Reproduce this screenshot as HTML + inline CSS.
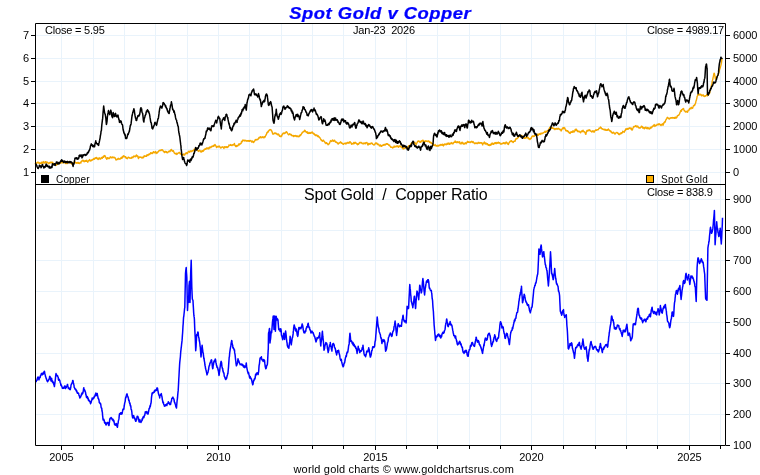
<!DOCTYPE html>
<html><head><meta charset="utf-8"><title>Spot Gold v Copper</title>
<style>html,body{margin:0;padding:0;background:#fff;width:760px;height:475px;overflow:hidden;font-family:"Liberation Sans",sans-serif}</style>
</head><body>
<svg width="760" height="475" viewBox="0 0 760 475" style="display:block;will-change:transform">
<rect width="760" height="475" fill="#fff"/>
<path d="M61.5 24V445 M93.5 24V445 M124.5 24V445 M155.5 24V445 M187.5 24V445 M218.5 24V445 M249.5 24V445 M281.5 24V445 M312.5 24V445 M343.5 24V445 M375.5 24V445 M406.5 24V445 M437.5 24V445 M469.5 24V445 M500.5 24V445 M531.5 24V445 M563.5 24V445 M595.5 24V445 M626.5 24V445 M657.5 24V445 M689.5 24V445 M720.5 24V445 M36 35.5H725 M36 58.5H725 M36 81.5H725 M36 103.5H725 M36 126.5H725 M36 149.5H725 M36 172.5H725 M36 414.5H725 M36 383.5H725 M36 353.5H725 M36 322.5H725 M36 291.5H725 M36 260.5H725 M36 230.5H725 M36 199.5H725" stroke="#e9f3fb" stroke-width="1" fill="none"/>
<polyline points="35.00,164.3 35.20,163.9 35.39,164.0 35.59,164.0 35.78,164.3 35.98,163.7 36.17,163.5 36.37,163.3 36.57,162.9 36.76,162.7 36.96,162.7 37.15,162.8 37.35,162.6 37.55,162.9 37.74,162.9 37.94,161.9 38.13,162.6 38.33,162.7 38.53,162.6 38.72,162.9 38.92,163.2 39.11,163.3 39.31,163.1 39.50,163.3 39.70,162.9 39.90,163.6 40.10,163.2 40.30,163.2 40.50,163.3 40.70,163.4 40.90,163.4 41.10,163.6 41.30,162.3 41.50,162.5 41.70,162.5 41.90,162.5 42.10,163.2 42.30,162.9 42.50,162.9 42.70,162.2 42.90,162.5 43.10,162.0 43.30,161.6 43.50,162.7 43.70,163.1 43.90,163.1 44.10,163.2 44.30,162.6 44.50,162.3 44.70,162.6 44.89,161.9 45.09,162.2 45.28,161.7 45.48,162.0 45.67,161.7 45.87,162.6 46.07,163.1 46.26,162.9 46.46,162.2 46.65,162.1 46.85,162.2 47.05,162.0 47.24,162.2 47.44,162.7 47.63,162.8 47.83,162.7 48.03,163.0 48.22,162.9 48.42,163.3 48.61,163.1 48.81,163.7 49.00,163.5 49.20,163.0 49.40,163.1 49.60,162.8 49.80,162.5 50.00,162.5 50.20,162.9 50.40,162.1 50.60,162.2 50.80,162.2 51.00,162.3 51.20,162.7 51.40,162.2 51.60,162.6 51.80,162.5 52.00,162.6 52.20,162.6 52.40,162.5 52.60,162.3 52.80,162.6 53.00,163.4 53.20,163.7 53.40,163.9 53.60,163.9 53.80,163.6 54.00,163.7 54.20,164.3 54.39,163.6 54.59,163.8 54.78,164.0 54.98,163.9 55.17,164.0 55.37,164.3 55.57,164.9 55.76,165.1 55.96,165.3 56.15,165.0 56.35,165.0 56.55,164.7 56.74,164.5 56.94,164.0 57.13,164.1 57.33,164.4 57.53,164.0 57.72,163.9 57.92,163.9 58.11,163.7 58.31,163.9 58.50,163.8 58.70,163.2 58.90,162.7 59.11,162.9 59.31,163.1 59.52,163.5 59.72,163.4 59.93,163.4 60.13,162.7 60.33,163.2 60.54,162.7 60.74,163.1 60.95,162.6 61.15,162.4 61.36,162.5 61.56,162.3 61.77,162.1 61.97,162.5 62.17,162.8 62.38,162.9 62.58,162.7 62.79,162.4 62.99,162.3 63.20,162.1 63.40,162.2 63.60,162.5 63.80,162.5 64.00,162.2 64.20,162.0 64.40,162.6 64.60,162.7 64.80,162.7 65.00,162.8 65.20,163.0 65.40,163.0 65.60,163.4 65.80,163.6 66.00,162.4 66.20,162.3 66.40,163.5 66.60,162.9 66.80,162.9 67.00,163.2 67.20,163.1 67.40,163.5 67.60,162.9 67.80,162.4 68.00,162.4 68.20,162.1 68.40,161.8 68.59,162.2 68.79,162.3 68.98,162.4 69.18,162.3 69.38,162.5 69.57,162.5 69.77,162.2 69.96,162.5 70.16,162.7 70.35,162.7 70.55,163.0 70.75,162.6 70.94,162.6 71.14,162.4 71.33,163.0 71.53,163.1 71.73,163.9 71.92,164.3 72.12,164.0 72.31,163.4 72.51,163.5 72.70,163.3 72.90,163.2 73.10,162.8 73.30,163.0 73.50,163.0 73.70,163.1 73.90,163.1 74.10,162.7 74.30,161.9 74.50,161.9 74.70,161.7 74.90,161.7 75.10,162.1 75.30,162.2 75.50,162.8 75.70,162.8 75.90,163.0 76.10,163.1 76.30,163.2 76.50,162.6 76.70,163.0 76.90,162.9 77.10,162.5 77.30,162.6 77.50,162.7 77.70,163.1 77.90,163.2 78.09,163.2 78.29,162.4 78.48,163.0 78.68,163.4 78.88,163.4 79.07,163.4 79.27,163.6 79.46,163.0 79.66,163.1 79.85,162.9 80.05,162.4 80.25,162.4 80.44,162.5 80.64,163.0 80.83,163.1 81.03,162.3 81.23,161.5 81.42,161.5 81.62,161.4 81.81,161.1 82.01,160.6 82.20,160.7 82.40,160.3 82.60,160.3 82.81,160.7 83.01,160.9 83.22,160.7 83.42,160.4 83.63,160.5 83.83,161.2 84.03,161.0 84.24,161.7 84.44,161.3 84.65,161.2 84.85,161.5 85.06,161.1 85.26,161.1 85.47,160.6 85.67,160.9 85.87,161.4 86.08,161.1 86.28,161.1 86.49,160.9 86.69,160.1 86.90,161.3 87.10,161.4 87.30,161.6 87.50,161.6 87.70,161.5 87.90,162.2 88.10,161.3 88.30,161.1 88.50,160.8 88.70,160.6 88.90,160.8 89.10,160.5 89.30,159.9 89.50,159.6 89.70,159.8 89.90,160.2 90.10,160.5 90.30,161.0 90.50,160.6 90.70,160.9 90.90,160.9 91.10,160.7 91.30,160.3 91.50,160.5 91.70,160.1 91.90,159.9 92.10,159.5 92.31,160.1 92.51,160.0 92.72,159.8 92.92,159.6 93.13,159.5 93.33,159.5 93.53,158.9 93.74,158.5 93.94,158.8 94.15,159.3 94.35,158.9 94.56,159.0 94.76,158.8 94.97,158.0 95.17,158.0 95.37,157.8 95.58,158.3 95.78,158.3 95.99,158.4 96.19,157.9 96.40,158.1 96.60,157.5 96.80,157.8 97.00,158.5 97.20,158.1 97.40,158.6 97.60,159.1 97.80,159.0 98.00,159.5 98.20,159.4 98.40,159.2 98.60,158.4 98.80,158.1 99.00,157.7 99.20,158.8 99.40,158.9 99.60,158.8 99.80,158.4 100.01,158.9 100.22,158.4 100.43,158.8 100.64,159.0 100.85,158.8 101.05,158.3 101.26,158.2 101.47,157.5 101.68,157.6 101.89,158.1 102.10,158.2 102.29,158.3 102.48,157.7 102.67,157.6 102.86,157.0 103.05,156.6 103.24,156.7 103.43,157.4 103.62,157.1 103.81,156.8 104.00,155.8 104.21,156.1 104.42,156.0 104.63,155.8 104.84,155.6 105.05,156.1 105.26,156.3 105.47,156.9 105.68,157.2 105.89,157.5 106.10,158.3 106.30,158.6 106.50,158.8 106.70,159.3 106.90,159.2 107.10,158.7 107.30,158.3 107.50,157.7 107.70,157.9 107.90,157.8 108.10,158.1 108.30,158.4 108.50,158.1 108.71,158.1 108.92,158.5 109.13,158.4 109.34,158.6 109.55,158.3 109.75,157.8 109.96,157.7 110.17,156.9 110.38,157.2 110.59,157.0 110.80,157.5 111.00,157.1 111.20,157.3 111.40,157.6 111.60,157.6 111.80,157.9 112.00,157.7 112.20,157.5 112.40,157.1 112.60,157.2 112.80,157.1 113.00,157.5 113.20,157.6 113.40,157.6 113.60,157.6 113.80,157.2 114.00,157.4 114.21,157.8 114.41,157.5 114.62,157.6 114.83,158.1 115.03,158.0 115.24,158.2 115.45,158.1 115.65,159.2 115.86,159.7 116.07,160.0 116.27,159.6 116.48,159.8 116.69,159.6 116.89,159.6 117.10,159.3 117.30,159.3 117.50,158.9 117.70,159.0 117.90,159.5 118.10,158.9 118.30,158.3 118.50,158.5 118.70,158.8 118.90,158.6 119.10,158.7 119.30,158.8 119.50,158.9 119.70,159.3 119.90,158.9 120.10,159.0 120.30,158.9 120.50,158.5 120.70,158.6 120.90,158.0 121.10,157.4 121.30,157.8 121.50,157.4 121.70,158.0 121.90,158.3 122.10,158.0 122.30,157.6 122.50,156.7 122.70,156.8 122.90,156.2 123.10,157.0 123.30,156.4 123.50,156.5 123.71,155.7 123.91,155.8 124.12,156.6 124.33,156.6 124.53,156.5 124.74,156.5 124.95,156.8 125.15,157.3 125.36,157.3 125.57,156.6 125.77,156.9 125.98,157.5 126.19,158.4 126.39,158.4 126.60,158.4 126.80,158.1 127.00,158.3 127.20,158.9 127.40,158.3 127.60,158.2 127.80,157.7 128.00,157.5 128.20,157.4 128.40,157.6 128.60,157.2 128.80,157.2 129.00,157.7 129.20,157.8 129.40,158.0 129.60,158.1 129.80,157.9 130.00,157.9 130.20,158.0 130.39,157.9 130.59,158.2 130.79,158.0 130.98,158.2 131.18,158.1 131.38,158.2 131.57,157.8 131.77,157.4 131.97,156.9 132.17,157.4 132.36,157.5 132.56,157.5 132.76,157.7 132.95,157.2 133.15,157.2 133.35,157.0 133.54,156.2 133.74,156.2 133.94,156.0 134.13,156.6 134.33,156.3 134.53,156.2 134.73,156.6 134.92,156.6 135.12,156.1 135.32,156.3 135.51,156.0 135.71,156.7 135.91,156.3 136.10,156.0 136.30,155.1 136.50,155.0 136.71,156.0 136.91,156.0 137.11,155.7 137.32,156.0 137.52,156.0 137.72,156.0 137.93,157.1 138.13,157.8 138.33,158.2 138.54,158.6 138.74,157.9 138.94,157.0 139.15,157.2 139.35,157.3 139.55,157.2 139.75,157.0 139.96,157.2 140.16,157.4 140.36,157.3 140.57,157.4 140.77,157.2 140.97,157.0 141.18,157.4 141.38,157.2 141.58,157.9 141.79,157.9 141.99,157.8 142.19,158.0 142.40,157.6 142.60,157.4 142.80,157.1 143.00,156.9 143.20,157.0 143.40,157.7 143.60,157.6 143.80,156.9 144.00,156.4 144.20,155.6 144.40,155.9 144.60,156.2 144.80,156.2 145.00,156.2 145.20,156.3 145.40,156.3 145.60,156.4 145.80,156.3 146.00,155.7 146.20,156.0 146.40,156.3 146.60,155.5 146.80,155.3 147.00,154.8 147.20,155.0 147.40,154.8 147.60,155.3 147.81,155.6 148.01,155.3 148.22,154.9 148.42,154.6 148.63,154.8 148.83,154.3 149.03,154.5 149.24,153.9 149.44,154.3 149.65,154.4 149.85,153.9 150.06,153.6 150.26,153.6 150.47,153.7 150.67,152.6 150.87,152.9 151.08,153.5 151.28,153.3 151.49,152.8 151.69,153.3 151.90,153.4 152.10,153.4 152.30,153.6 152.50,153.1 152.70,152.8 152.90,152.4 153.10,152.0 153.30,152.0 153.50,151.7 153.70,152.4 153.90,152.6 154.10,152.9 154.30,152.2 154.50,152.1 154.70,152.1 154.90,152.2 155.10,152.3 155.30,152.0 155.50,151.6 155.70,152.0 155.90,152.9 156.10,153.5 156.30,153.1 156.50,152.6 156.70,152.5 156.90,152.5 157.10,153.0 157.31,152.7 157.51,152.2 157.72,152.4 157.92,152.0 158.13,151.5 158.33,151.6 158.53,151.5 158.74,151.0 158.94,150.9 159.15,150.7 159.35,150.6 159.56,150.3 159.76,150.6 159.97,150.4 160.17,150.2 160.37,150.6 160.58,150.2 160.78,150.5 160.99,150.6 161.19,150.4 161.40,150.4 161.60,149.8 161.80,150.1 162.00,149.8 162.20,149.7 162.40,150.0 162.60,150.0 162.80,150.2 163.00,150.6 163.20,151.1 163.40,151.4 163.60,151.8 163.80,151.6 164.00,151.5 164.20,151.8 164.40,152.4 164.60,152.5 164.80,152.3 165.01,151.8 165.21,151.5 165.42,152.0 165.63,151.6 165.83,151.5 166.04,151.8 166.25,152.0 166.45,151.7 166.66,152.5 166.87,152.5 167.07,152.5 167.28,152.7 167.49,152.5 167.69,152.6 167.90,152.5 168.10,152.0 168.30,151.5 168.50,151.6 168.70,151.6 168.90,151.5 169.10,151.3 169.30,151.1 169.50,151.4 169.70,151.7 169.90,151.5 170.10,151.5 170.30,150.7 170.50,150.3 170.70,150.0 170.90,149.8 171.10,150.1 171.30,149.4 171.50,149.7 171.70,150.0 171.90,150.9 172.10,150.6 172.30,150.7 172.50,151.1 172.70,151.3 172.89,151.0 173.09,151.0 173.28,150.7 173.47,151.0 173.67,151.4 173.86,152.1 174.06,152.4 174.25,152.9 174.44,153.3 174.64,153.0 174.83,153.4 175.03,153.8 175.22,153.8 175.41,153.5 175.61,153.7 175.80,153.9 176.00,154.1 176.20,153.3 176.40,153.2 176.60,154.0 176.80,154.4 177.00,154.2 177.20,154.0 177.40,153.8 177.60,153.4 177.80,153.3 178.00,153.3 178.20,152.9 178.40,152.9 178.60,153.1 178.80,152.7 179.00,152.7 179.21,152.3 179.41,152.6 179.62,153.0 179.83,153.0 180.03,153.3 180.24,153.7 180.45,154.1 180.65,153.7 180.86,153.8 181.07,153.4 181.27,153.0 181.48,153.7 181.69,154.2 181.89,154.9 182.10,155.3 182.30,155.0 182.50,155.0 182.70,154.7 182.90,155.2 183.10,154.1 183.30,154.3 183.50,154.1 183.70,154.3 183.90,154.7 184.10,154.4 184.30,154.8 184.50,155.1 184.70,154.2 184.90,154.8 185.10,154.1 185.30,153.4 185.50,153.7 185.70,153.3 185.90,153.3 186.10,153.1 186.30,152.6 186.50,153.2 186.70,153.6 186.90,153.4 187.11,153.7 187.31,153.5 187.52,153.3 187.73,152.9 187.93,152.2 188.14,152.0 188.35,151.5 188.55,151.7 188.76,151.6 188.97,151.3 189.17,151.7 189.38,151.7 189.59,152.3 189.79,151.9 190.00,151.5 190.20,151.1 190.40,151.2 190.60,151.0 190.80,151.0 191.00,151.6 191.20,151.7 191.40,151.3 191.60,151.3 191.80,151.1 192.00,150.8 192.20,150.7 192.40,150.6 192.60,150.8 192.80,151.1 193.00,150.9 193.20,150.5 193.40,150.4 193.60,150.3 193.80,150.1 194.00,149.6 194.20,149.6 194.40,148.9 194.60,149.5 194.80,149.8 195.00,150.0 195.20,149.6 195.40,149.7 195.60,150.1 195.80,149.9 196.00,149.4 196.20,149.4 196.40,148.5 196.60,149.1 196.81,149.4 197.01,148.9 197.22,149.4 197.42,149.9 197.63,150.2 197.83,150.4 198.03,151.0 198.24,151.0 198.44,151.4 198.65,151.2 198.85,150.8 199.06,150.7 199.26,150.3 199.47,150.5 199.67,150.3 199.87,150.5 200.08,150.6 200.28,151.3 200.49,151.9 200.69,151.6 200.90,151.4 201.10,151.3 201.29,151.0 201.49,151.6 201.68,152.0 201.87,151.7 202.07,151.1 202.26,150.8 202.45,150.8 202.65,151.4 202.84,150.8 203.03,151.4 203.23,150.7 203.42,150.9 203.61,150.4 203.81,150.3 204.00,149.5 204.21,149.9 204.42,149.9 204.62,149.6 204.83,148.9 205.04,149.1 205.25,149.2 205.46,148.8 205.67,149.1 205.88,149.2 206.08,148.8 206.29,148.7 206.50,147.9 206.71,148.4 206.92,148.9 207.12,148.9 207.33,148.5 207.54,148.1 207.75,148.2 207.96,147.9 208.17,148.2 208.38,147.9 208.58,148.4 208.79,148.9 209.00,148.6 209.21,148.2 209.42,147.1 209.62,147.3 209.83,147.5 210.04,147.3 210.25,147.7 210.46,147.5 210.67,147.1 210.88,147.4 211.08,147.6 211.29,146.8 211.50,146.6 211.70,146.2 211.90,146.2 212.10,146.3 212.30,146.2 212.50,146.3 212.70,146.6 212.90,146.4 213.10,145.9 213.30,145.5 213.50,145.8 213.69,146.3 213.88,146.0 214.06,145.9 214.25,145.4 214.44,144.9 214.62,145.1 214.81,144.7 215.00,144.5 215.19,144.8 215.38,145.5 215.56,145.7 215.75,145.9 215.94,145.9 216.12,146.0 216.31,146.6 216.50,147.5 216.70,146.9 216.90,147.2 217.10,146.8 217.30,146.6 217.50,146.6 217.70,146.5 217.90,146.4 218.10,146.3 218.30,147.1 218.50,146.6 218.71,146.4 218.92,146.2 219.12,146.4 219.33,146.1 219.54,146.2 219.75,146.4 219.96,147.2 220.17,147.5 220.38,147.4 220.58,147.4 220.79,148.1 221.00,147.9 221.21,147.6 221.42,147.3 221.62,147.2 221.83,147.5 222.04,147.2 222.25,147.0 222.46,147.1 222.67,146.8 222.88,147.1 223.08,147.1 223.29,147.3 223.50,147.5 223.71,148.0 223.92,148.5 224.12,147.9 224.33,147.3 224.54,146.7 224.75,146.9 224.96,147.0 225.17,146.9 225.38,146.8 225.58,147.3 225.79,147.5 226.00,147.4 226.21,147.4 226.42,146.7 226.62,147.0 226.83,147.6 227.04,147.5 227.25,147.1 227.46,147.4 227.67,147.0 227.88,146.8 228.08,146.9 228.29,146.7 228.50,146.8 228.71,145.9 228.92,144.9 229.12,145.2 229.33,145.4 229.54,145.4 229.75,145.2 229.96,145.2 230.17,145.3 230.38,144.8 230.58,144.9 230.79,144.6 231.00,145.3 231.20,145.3 231.40,145.2 231.60,145.4 231.80,145.5 232.00,145.6 232.20,145.0 232.40,144.9 232.60,145.0 232.80,144.8 233.00,144.6 233.20,144.4 233.40,144.5 233.60,145.1 233.80,144.6 234.00,144.2 234.20,143.9 234.40,143.5 234.60,144.3 234.80,145.2 235.00,145.4 235.20,145.5 235.40,146.1 235.60,146.4 235.80,145.6 236.00,145.6 236.20,146.6 236.40,146.5 236.61,146.0 236.82,145.6 237.03,146.0 237.24,145.7 237.45,145.7 237.66,145.9 237.87,145.7 238.08,145.5 238.29,144.9 238.50,144.3 238.70,144.6 238.90,143.9 239.10,144.2 239.30,144.5 239.50,144.8 239.70,144.4 239.90,143.8 240.10,143.7 240.30,143.9 240.50,143.9 240.71,143.7 240.92,143.3 241.13,143.3 241.34,142.2 241.55,141.5 241.76,141.9 241.97,141.8 242.18,141.8 242.39,140.8 242.60,140.2 242.80,140.1 243.00,140.2 243.20,140.7 243.40,140.4 243.60,140.5 243.80,140.2 244.00,140.2 244.20,140.4 244.40,140.5 244.60,140.9 244.80,140.4 245.00,140.7 245.20,140.8 245.40,140.4 245.60,140.9 245.80,140.6 246.00,140.4 246.20,140.6 246.40,141.0 246.60,140.8 246.80,141.2 247.00,141.2 247.21,140.8 247.42,141.0 247.62,141.0 247.83,140.7 248.04,140.6 248.25,141.1 248.46,141.1 248.67,141.0 248.88,141.2 249.08,140.6 249.29,140.9 249.50,141.3 249.71,140.9 249.92,140.6 250.12,140.5 250.33,140.6 250.54,140.6 250.75,140.8 250.96,140.7 251.17,141.0 251.38,141.5 251.58,141.8 251.79,141.8 252.00,142.2 252.19,141.5 252.38,141.2 252.56,141.1 252.75,141.6 252.94,141.3 253.12,141.4 253.31,141.8 253.50,142.3 253.69,142.5 253.88,141.8 254.06,141.5 254.25,141.4 254.44,141.3 254.62,141.1 254.81,140.7 255.00,140.4 255.21,139.7 255.42,139.8 255.62,139.8 255.83,139.5 256.04,140.1 256.25,139.9 256.46,139.5 256.67,139.6 256.88,139.6 257.08,139.7 257.29,139.5 257.50,139.6 257.69,139.4 257.88,139.6 258.06,139.3 258.25,138.7 258.44,138.1 258.62,138.2 258.81,138.3 259.00,137.5 259.19,137.7 259.38,137.7 259.57,137.8 259.77,137.5 259.96,137.1 260.15,137.0 260.34,136.8 260.53,136.8 260.73,137.0 260.92,137.1 261.11,137.9 261.30,137.6 261.50,137.4 261.70,137.4 261.90,137.6 262.10,137.2 262.30,136.7 262.50,136.9 262.70,137.1 262.90,137.3 263.10,137.5 263.30,136.9 263.50,137.3 263.70,137.2 263.90,137.9 264.10,137.7 264.30,136.8 264.50,136.7 264.70,136.8 264.90,136.9 265.10,137.0 265.30,136.7 265.50,135.8 265.70,135.6 265.90,135.2 266.10,134.7 266.30,134.6 266.50,134.2 266.70,133.3 266.90,132.8 267.10,132.4 267.30,132.2 267.50,132.7 267.70,132.4 267.90,132.4 268.10,131.3 268.30,131.6 268.50,131.2 268.70,131.1 268.90,130.5 269.10,130.2 269.30,130.3 269.50,130.0 269.70,129.8 269.89,129.6 270.08,129.4 270.27,129.7 270.46,129.7 270.65,129.9 270.84,129.8 271.03,129.8 271.22,130.2 271.41,130.8 271.60,130.7 271.80,130.9 272.00,131.5 272.20,132.3 272.40,132.9 272.60,133.7 272.80,134.0 273.00,134.1 273.20,133.9 273.40,134.1 273.60,134.0 273.80,133.6 274.00,133.6 274.20,133.0 274.40,133.2 274.60,133.4 274.80,133.6 275.00,133.1 275.20,133.4 275.40,133.4 275.60,133.6 275.81,132.9 276.02,133.3 276.23,133.8 276.44,133.6 276.65,134.0 276.85,134.0 277.06,134.5 277.27,134.4 277.48,134.4 277.69,134.0 277.90,134.8 278.10,134.5 278.30,134.3 278.50,134.1 278.70,134.4 278.90,134.6 279.10,135.0 279.30,135.8 279.50,136.2 279.70,135.8 279.90,136.0 280.10,136.1 280.30,136.5 280.50,136.3 280.70,136.5 280.90,136.3 281.10,136.7 281.30,135.9 281.50,136.0 281.70,136.0 281.90,135.3 282.10,134.5 282.30,134.1 282.50,134.0 282.70,134.4 282.89,133.7 283.09,133.5 283.28,132.9 283.48,133.2 283.67,133.2 283.86,133.1 284.06,133.3 284.25,133.2 284.44,133.6 284.64,133.3 284.83,132.9 285.02,132.8 285.22,132.6 285.41,133.0 285.61,132.6 285.80,132.3 286.00,132.2 286.20,132.1 286.40,131.6 286.60,131.9 286.80,132.4 287.00,132.7 287.20,132.6 287.40,133.2 287.60,133.6 287.80,133.8 288.00,134.2 288.20,134.2 288.40,134.5 288.60,134.8 288.80,134.4 289.00,134.4 289.21,134.2 289.41,134.5 289.62,133.7 289.82,134.0 290.03,134.2 290.23,134.4 290.44,134.7 290.64,134.3 290.85,134.6 291.05,134.5 291.26,134.5 291.46,135.2 291.67,135.2 291.87,135.8 292.08,135.8 292.28,135.8 292.49,135.8 292.69,135.4 292.90,135.4 293.10,135.5 293.30,136.1 293.50,136.3 293.70,136.6 293.90,136.1 294.10,135.8 294.30,135.9 294.50,136.1 294.70,135.6 294.90,136.0 295.10,135.7 295.30,135.8 295.50,135.6 295.70,135.8 295.90,136.1 296.10,136.3 296.30,135.9 296.50,135.8 296.70,136.6 296.90,136.4 297.10,136.4 297.30,136.3 297.50,135.9 297.70,136.4 297.89,136.8 298.09,136.3 298.28,136.2 298.48,136.7 298.67,136.6 298.86,136.3 299.06,136.5 299.25,136.5 299.44,135.8 299.64,135.3 299.83,135.8 300.02,135.4 300.22,135.2 300.41,134.8 300.61,135.5 300.80,134.8 301.00,134.7 301.20,134.4 301.40,134.1 301.60,133.5 301.80,133.1 302.00,133.0 302.20,133.0 302.40,132.3 302.60,132.3 302.80,132.0 303.00,132.0 303.20,131.8 303.40,131.7 303.60,131.6 303.80,131.8 304.00,131.7 304.19,131.2 304.39,130.5 304.58,130.3 304.77,130.8 304.97,130.4 305.16,130.4 305.36,131.4 305.55,131.5 305.74,131.6 305.94,131.9 306.13,132.3 306.33,132.2 306.52,132.4 306.71,131.8 306.91,132.1 307.10,132.5 307.30,131.9 307.50,132.5 307.70,133.3 307.90,132.3 308.10,132.4 308.30,133.1 308.50,133.4 308.70,133.1 308.90,133.0 309.10,132.9 309.30,133.3 309.50,133.0 309.70,132.6 309.90,132.8 310.10,132.6 310.30,133.4 310.50,133.1 310.70,133.3 310.90,133.3 311.10,132.9 311.31,132.8 311.51,132.3 311.72,132.7 311.92,132.6 312.13,132.3 312.33,132.0 312.54,132.9 312.74,133.3 312.95,133.1 313.15,133.2 313.36,133.6 313.56,133.9 313.77,134.0 313.97,133.3 314.18,134.1 314.38,134.1 314.59,134.7 314.79,134.3 315.00,134.6 315.20,135.2 315.40,135.6 315.60,135.1 315.80,135.0 316.00,135.6 316.20,135.3 316.40,135.6 316.60,135.5 316.80,135.0 317.00,135.4 317.20,135.9 317.40,136.1 317.60,136.2 317.80,136.6 318.00,135.8 318.20,135.8 318.40,136.5 318.60,136.7 318.80,137.0 319.00,136.9 319.20,137.2 319.40,137.0 319.60,137.5 319.80,137.8 320.00,138.0 320.20,138.2 320.40,138.6 320.60,138.9 320.80,139.5 321.00,140.1 321.20,139.6 321.40,140.0 321.60,140.5 321.80,140.1 322.00,140.1 322.20,141.1 322.40,140.8 322.60,141.2 322.80,141.3 323.00,140.7 323.20,140.7 323.40,140.1 323.60,140.2 323.80,140.7 324.00,141.1 324.19,141.3 324.38,141.3 324.57,141.6 324.77,142.2 324.96,142.5 325.15,142.9 325.34,143.1 325.53,143.2 325.73,142.9 325.92,143.5 326.11,143.1 326.30,142.8 326.50,142.7 326.70,142.7 326.90,143.4 327.10,143.5 327.30,143.6 327.50,143.7 327.70,143.9 327.90,144.6 328.10,144.8 328.30,144.2 328.50,144.5 328.70,144.2 328.90,143.9 329.10,143.9 329.30,143.5 329.50,143.1 329.69,142.9 329.88,142.3 330.07,141.7 330.27,141.3 330.46,140.9 330.65,140.7 330.84,140.6 331.03,141.1 331.23,141.0 331.42,141.3 331.61,141.4 331.80,140.9 332.00,140.9 332.20,140.5 332.40,140.0 332.60,140.4 332.80,140.6 333.00,140.8 333.20,141.4 333.40,141.0 333.60,141.1 333.80,140.4 334.00,140.3 334.20,140.8 334.40,140.5 334.60,140.3 334.80,140.5 335.00,141.4 335.20,141.8 335.40,141.8 335.60,142.1 335.80,142.2 336.00,142.1 336.20,142.0 336.40,142.3 336.60,142.3 336.80,142.7 337.00,142.5 337.20,142.8 337.40,142.7 337.59,143.2 337.79,143.5 337.98,143.2 338.17,144.0 338.37,144.0 338.56,143.6 338.76,143.1 338.95,143.2 339.14,143.2 339.34,143.0 339.53,142.6 339.73,142.6 339.92,142.3 340.11,142.3 340.31,142.1 340.50,142.5 340.70,141.8 340.90,142.8 341.10,142.8 341.30,143.0 341.50,142.7 341.70,143.3 341.90,143.4 342.10,143.4 342.30,143.2 342.50,143.6 342.70,143.9 342.90,143.7 343.10,144.3 343.30,143.9 343.50,144.3 343.70,144.2 343.90,143.6 344.10,143.5 344.30,143.6 344.50,143.4 344.70,143.4 344.90,143.3 345.10,143.4 345.30,143.1 345.51,143.7 345.71,143.7 345.92,144.0 346.13,143.7 346.33,143.6 346.54,143.0 346.75,142.9 346.95,143.3 347.16,143.2 347.37,142.7 347.57,142.4 347.78,142.5 347.99,142.3 348.19,142.9 348.40,142.7 348.60,142.7 348.80,142.9 349.00,143.4 349.20,142.7 349.40,142.4 349.60,142.2 349.80,141.6 350.00,141.7 350.20,141.8 350.40,142.3 350.60,142.6 350.80,142.9 351.00,143.1 351.20,142.9 351.40,143.9 351.60,144.3 351.80,143.9 352.00,143.4 352.20,143.5 352.40,143.7 352.60,143.7 352.80,143.9 353.00,144.0 353.20,144.0 353.40,143.5 353.60,143.2 353.80,142.4 354.00,142.8 354.19,142.6 354.39,142.8 354.58,143.6 354.77,143.2 354.97,143.2 355.16,142.9 355.36,142.3 355.55,142.8 355.74,142.8 355.94,142.9 356.13,143.3 356.33,143.2 356.52,143.5 356.71,144.0 356.91,143.7 357.10,143.8 357.30,143.7 357.50,144.0 357.70,144.7 357.90,144.0 358.10,144.4 358.30,144.2 358.50,144.2 358.70,144.0 358.90,143.7 359.10,143.1 359.30,143.0 359.50,142.5 359.70,143.0 359.90,143.0 360.10,142.6 360.30,142.4 360.50,142.9 360.70,142.4 360.90,142.6 361.10,142.7 361.30,142.5 361.50,143.0 361.70,142.9 361.90,143.4 362.10,143.5 362.30,143.3 362.50,143.3 362.70,143.8 362.89,143.4 363.09,143.2 363.28,143.2 363.48,143.5 363.67,143.8 363.86,143.5 364.06,143.1 364.25,143.2 364.44,143.3 364.64,143.5 364.83,143.1 365.02,143.1 365.22,142.8 365.41,143.7 365.61,143.0 365.80,142.9 366.00,142.9 366.20,142.6 366.40,142.7 366.60,142.7 366.80,142.4 367.00,142.6 367.20,143.4 367.40,143.7 367.60,144.3 367.80,144.9 368.00,145.0 368.20,144.9 368.40,144.1 368.60,143.5 368.80,143.8 369.00,144.1 369.19,144.2 369.39,144.0 369.58,143.9 369.77,143.6 369.97,144.1 370.16,144.1 370.36,143.4 370.55,143.4 370.74,143.9 370.94,143.6 371.13,143.3 371.33,143.0 371.52,143.0 371.71,143.2 371.91,143.2 372.10,143.4 372.30,143.3 372.50,143.8 372.70,144.4 372.90,144.2 373.10,144.4 373.30,144.6 373.50,144.7 373.70,144.7 373.90,145.0 374.10,144.9 374.30,144.8 374.50,144.6 374.70,144.7 374.90,144.3 375.10,143.5 375.30,143.3 375.50,143.1 375.70,143.3 375.90,143.6 376.10,143.0 376.30,143.3 376.50,143.2 376.70,143.6 376.90,143.1 377.09,143.5 377.28,143.8 377.47,144.5 377.67,144.0 377.86,144.1 378.05,144.3 378.24,144.3 378.43,144.2 378.62,144.3 378.82,144.5 379.01,145.4 379.20,145.5 379.40,145.9 379.60,145.6 379.80,145.6 380.00,145.6 380.20,145.6 380.40,145.0 380.60,145.1 380.80,146.1 381.00,146.0 381.20,145.4 381.40,146.3 381.60,146.3 381.80,146.3 382.00,145.7 382.20,145.6 382.40,145.5 382.60,145.4 382.80,145.0 383.00,145.3 383.20,144.8 383.40,145.3 383.60,145.2 383.80,145.1 384.00,144.5 384.20,144.7 384.40,144.9 384.60,144.4 384.80,145.1 385.00,145.0 385.20,144.4 385.40,144.9 385.60,144.5 385.81,144.3 386.01,144.0 386.22,143.8 386.43,144.0 386.63,143.8 386.84,144.2 387.05,144.0 387.25,144.2 387.46,143.7 387.67,143.8 387.87,144.1 388.08,144.6 388.29,144.6 388.49,144.9 388.70,145.2 388.90,145.0 389.10,145.3 389.30,145.6 389.50,145.5 389.70,145.1 389.90,145.8 390.10,146.2 390.30,146.3 390.50,146.7 390.70,147.2 390.90,147.1 391.10,147.2 391.30,147.3 391.50,147.4 391.70,147.3 391.90,147.0 392.09,147.3 392.28,147.3 392.47,147.9 392.67,148.0 392.86,147.9 393.05,147.4 393.24,147.3 393.43,147.4 393.62,147.4 393.82,147.2 394.01,146.2 394.20,146.1 394.40,146.3 394.60,147.0 394.80,146.5 395.00,146.8 395.20,146.3 395.40,146.7 395.60,146.6 395.80,146.6 396.00,146.7 396.20,146.5 396.40,146.2 396.60,146.6 396.80,146.1 397.00,145.8 397.20,146.1 397.40,146.4 397.60,146.1 397.80,145.9 398.00,146.1 398.20,146.8 398.40,147.3 398.60,147.1 398.80,146.8 399.00,146.7 399.20,146.0 399.40,146.2 399.60,146.1 399.80,146.6 400.00,146.3 400.20,146.4 400.40,146.2 400.60,146.1 400.81,146.8 401.02,146.6 401.23,146.6 401.44,146.8 401.65,147.6 401.85,147.7 402.06,147.5 402.27,147.6 402.48,148.2 402.69,148.3 402.90,148.5 403.10,149.1 403.30,148.5 403.50,148.8 403.70,148.3 403.90,148.6 404.10,148.6 404.30,148.6 404.50,148.5 404.70,148.5 404.90,147.2 405.10,146.8 405.30,147.7 405.50,147.7 405.70,147.6 405.90,147.8 406.10,148.0 406.30,148.0 406.50,148.3 406.70,148.4 406.90,148.0 407.10,148.0 407.30,148.3 407.50,147.8 407.70,147.8 407.90,147.2 408.10,146.9 408.30,146.2 408.50,146.1 408.70,145.7 408.90,146.0 409.10,145.7 409.30,146.3 409.49,146.4 409.68,145.8 409.86,146.3 410.05,146.0 410.24,145.8 410.43,145.0 410.61,144.7 410.80,144.2 411.00,143.6 411.20,143.2 411.40,143.7 411.60,143.4 411.80,143.4 412.00,143.0 412.20,142.8 412.40,142.6 412.60,142.6 412.80,142.6 413.00,142.9 413.20,142.8 413.40,142.8 413.60,142.6 413.80,142.9 414.00,143.2 414.20,143.1 414.40,142.6 414.60,142.7 414.80,142.2 415.00,142.9 415.20,143.1 415.40,143.7 415.60,143.7 415.80,143.9 416.00,144.4 416.20,144.5 416.40,143.9 416.60,143.1 416.80,142.9 417.00,142.9 417.20,142.4 417.40,141.7 417.60,141.5 417.80,141.5 418.00,140.9 418.20,141.0 418.39,141.4 418.59,141.1 418.78,141.3 418.98,141.3 419.17,141.5 419.36,141.6 419.56,141.3 419.75,141.5 419.94,142.3 420.14,142.3 420.33,141.7 420.52,141.5 420.72,142.2 420.91,142.0 421.11,141.9 421.30,141.3 421.50,140.8 421.70,140.8 421.90,141.0 422.10,140.8 422.30,141.0 422.50,140.9 422.70,140.1 422.90,140.2 423.10,140.5 423.30,141.4 423.50,140.8 423.70,141.0 423.90,141.1 424.10,141.2 424.30,141.2 424.50,141.7 424.69,142.1 424.89,141.7 425.08,141.3 425.27,141.3 425.47,140.8 425.66,141.0 425.86,141.3 426.05,141.1 426.24,141.1 426.44,140.9 426.63,141.1 426.83,141.3 427.02,141.0 427.21,141.4 427.41,141.1 427.60,141.2 427.80,141.4 428.00,141.2 428.20,141.2 428.40,140.9 428.60,141.5 428.80,141.5 429.00,141.1 429.20,141.5 429.40,141.5 429.60,142.3 429.80,142.3 430.00,142.5 430.20,142.1 430.40,142.1 430.60,142.1 430.80,142.5 431.00,143.1 431.20,143.2 431.40,143.2 431.60,142.9 431.80,142.8 432.00,142.9 432.20,143.5 432.40,144.2 432.60,144.1 432.80,143.9 433.00,143.7 433.20,144.1 433.39,144.7 433.58,145.0 433.77,145.6 433.97,145.6 434.16,145.4 434.35,145.5 434.54,145.1 434.73,145.1 434.93,145.0 435.12,144.5 435.31,144.8 435.50,145.2 435.70,145.7 435.90,145.7 436.10,146.1 436.30,145.7 436.50,146.1 436.70,145.8 436.90,145.7 437.10,145.2 437.30,145.9 437.50,145.7 437.70,146.1 437.90,146.0 438.10,146.0 438.30,146.1 438.50,145.5 438.70,145.6 438.90,145.4 439.10,144.9 439.30,145.3 439.50,145.2 439.70,145.6 439.90,145.5 440.10,145.2 440.30,144.9 440.51,144.8 440.71,144.5 440.92,144.9 441.13,144.6 441.33,145.1 441.54,144.8 441.75,144.7 441.95,144.4 442.16,145.2 442.37,144.3 442.57,144.5 442.78,144.8 442.99,145.1 443.19,145.6 443.40,145.9 443.60,145.0 443.80,144.9 444.00,144.4 444.20,144.3 444.40,144.1 444.60,144.5 444.80,144.7 445.00,144.6 445.20,144.2 445.40,144.2 445.60,144.2 445.80,144.0 446.00,144.3 446.20,144.7 446.40,144.2 446.60,144.6 446.80,144.1 447.00,143.9 447.20,143.3 447.40,143.5 447.60,144.2 447.80,143.7 448.00,143.4 448.20,143.1 448.40,143.2 448.60,143.7 448.80,143.2 449.00,143.5 449.20,144.3 449.40,144.1 449.60,144.0 449.80,144.2 450.01,143.4 450.21,143.1 450.42,143.3 450.63,143.3 450.83,143.6 451.04,143.2 451.25,143.2 451.45,142.9 451.66,142.5 451.87,142.9 452.07,143.5 452.28,143.1 452.49,143.3 452.69,143.5 452.90,143.9 453.10,143.5 453.30,142.9 453.50,143.0 453.70,142.7 453.90,142.3 454.10,142.2 454.30,142.3 454.50,142.4 454.70,142.3 454.90,141.6 455.10,140.9 455.30,141.3 455.50,142.0 455.70,142.2 455.90,141.8 456.10,142.3 456.31,141.9 456.51,142.5 456.72,142.5 456.93,142.8 457.13,142.4 457.34,142.6 457.55,141.8 457.75,142.3 457.96,141.9 458.17,141.9 458.37,142.3 458.58,142.6 458.79,142.6 458.99,141.9 459.20,142.4 459.40,142.3 459.60,141.8 459.80,142.5 460.00,143.5 460.20,143.2 460.40,143.5 460.60,143.7 460.80,143.7 461.00,143.8 461.20,143.8 461.40,142.9 461.60,142.6 461.80,142.4 462.00,142.2 462.20,142.3 462.40,142.4 462.60,142.7 462.80,143.6 463.00,143.2 463.20,143.5 463.40,144.1 463.60,144.0 463.80,143.3 464.00,143.3 464.20,143.7 464.40,143.9 464.60,143.3 464.80,143.4 465.00,143.4 465.20,143.3 465.40,143.6 465.60,142.7 465.81,143.3 466.01,143.9 466.22,143.7 466.43,143.2 466.63,142.6 466.84,142.8 467.05,142.6 467.25,141.9 467.46,141.3 467.67,141.7 467.87,142.2 468.08,141.7 468.29,142.4 468.49,142.2 468.70,142.3 468.90,141.9 469.10,142.4 469.30,142.3 469.50,142.2 469.70,142.3 469.90,142.0 470.10,142.5 470.30,142.6 470.50,142.2 470.70,141.8 470.90,141.8 471.10,141.9 471.30,141.8 471.50,141.3 471.70,141.9 471.90,141.9 472.09,142.2 472.29,142.4 472.48,142.2 472.67,141.9 472.87,141.4 473.06,141.8 473.26,141.8 473.45,142.3 473.64,142.8 473.84,142.8 474.03,142.7 474.23,143.0 474.42,143.5 474.61,143.2 474.81,143.3 475.00,143.7 475.20,143.1 475.40,143.1 475.60,142.9 475.80,143.0 476.00,143.2 476.20,143.0 476.40,143.0 476.60,143.5 476.80,143.5 477.00,143.5 477.20,143.3 477.40,143.2 477.60,143.4 477.80,143.2 478.00,142.8 478.20,142.5 478.40,142.4 478.60,142.5 478.80,142.5 479.00,142.4 479.20,143.3 479.40,142.8 479.60,142.9 479.80,143.1 480.00,143.1 480.20,143.1 480.40,142.6 480.60,142.7 480.80,143.0 481.00,142.7 481.20,142.9 481.40,143.3 481.59,143.3 481.79,143.3 481.98,142.8 482.17,143.3 482.37,144.1 482.56,144.5 482.76,144.9 482.95,143.7 483.14,143.4 483.34,143.2 483.53,143.3 483.73,143.1 483.92,142.5 484.11,142.5 484.31,142.1 484.50,142.2 484.70,142.7 484.90,143.5 485.10,143.8 485.30,144.1 485.50,143.4 485.70,143.0 485.90,143.4 486.10,143.7 486.30,143.8 486.50,143.6 486.70,143.5 486.90,143.8 487.10,144.5 487.30,144.4 487.50,143.6 487.70,144.5 487.89,144.8 488.09,144.5 488.28,145.1 488.48,145.3 488.67,145.0 488.86,144.8 489.06,145.1 489.25,145.1 489.44,145.5 489.64,145.2 489.83,144.9 490.02,144.5 490.22,144.5 490.41,145.3 490.61,144.5 490.80,144.7 491.00,144.3 491.20,144.0 491.40,144.8 491.60,144.0 491.80,143.9 492.00,143.1 492.20,143.0 492.40,143.4 492.60,143.5 492.80,144.0 493.00,144.2 493.20,144.0 493.40,144.0 493.60,144.2 493.80,144.0 494.00,143.1 494.19,143.1 494.39,143.4 494.58,143.6 494.77,142.9 494.97,142.8 495.16,143.2 495.36,143.0 495.55,143.5 495.74,143.2 495.94,142.6 496.13,142.4 496.33,143.5 496.52,143.3 496.71,143.2 496.91,143.5 497.10,143.3 497.30,142.6 497.50,142.6 497.70,143.1 497.90,142.6 498.10,142.2 498.30,142.3 498.50,142.6 498.70,142.4 498.90,143.2 499.10,143.1 499.30,142.7 499.50,142.8 499.70,142.9 499.90,143.0 500.10,142.9 500.30,143.7 500.50,144.1 500.70,144.1 500.90,143.9 501.10,144.0 501.30,144.1 501.50,144.0 501.70,143.5 501.90,143.8 502.10,143.8 502.30,143.2 502.50,143.4 502.70,143.6 502.90,143.7 503.10,143.4 503.30,143.2 503.50,142.8 503.69,142.7 503.89,143.1 504.08,143.3 504.27,142.8 504.47,143.0 504.66,143.4 504.86,143.8 505.05,143.9 505.24,143.4 505.44,143.2 505.63,142.8 505.83,142.6 506.02,142.1 506.21,142.2 506.41,142.4 506.60,142.2 506.80,143.0 507.00,142.7 507.20,143.0 507.40,143.7 507.60,143.5 507.80,144.1 508.00,144.0 508.20,144.5 508.40,144.5 508.60,143.9 508.80,143.4 509.00,142.8 509.20,142.5 509.40,142.3 509.60,142.4 509.80,141.7 510.00,141.1 510.20,141.1 510.40,140.9 510.60,141.4 510.80,141.3 511.00,141.1 511.20,141.3 511.40,140.7 511.60,140.9 511.80,141.3 512.00,141.7 512.20,141.3 512.40,141.9 512.60,141.9 512.80,142.0 513.00,142.2 513.20,142.5 513.40,141.9 513.60,141.7 513.80,141.4 514.00,141.2 514.20,141.2 514.40,141.2 514.60,140.9 514.80,141.0 515.00,141.3 515.20,141.1 515.40,140.2 515.60,139.2 515.80,139.0 516.00,138.8 516.20,138.7 516.40,138.7 516.60,138.5 516.80,138.9 517.00,138.7 517.20,138.4 517.40,138.1 517.60,138.2 517.80,137.9 518.00,137.7 518.20,137.7 518.40,137.4 518.60,136.8 518.80,136.4 519.00,136.1 519.20,135.9 519.40,135.9 519.60,136.3 519.80,136.2 520.00,135.9 520.20,136.5 520.40,136.5 520.60,135.8 520.80,135.9 521.00,135.5 521.20,135.6 521.40,135.6 521.60,136.0 521.80,135.5 522.00,135.9 522.20,136.5 522.40,136.2 522.60,136.7 522.80,137.0 523.00,137.2 523.20,137.9 523.40,137.6 523.60,137.5 523.80,137.7 524.00,138.0 524.20,138.0 524.40,138.2 524.60,138.1 524.80,138.3 525.00,138.1 525.20,138.3 525.41,138.0 525.61,137.9 525.82,137.3 526.02,137.2 526.23,137.3 526.43,137.2 526.64,137.3 526.84,137.9 527.05,137.8 527.26,137.6 527.46,137.5 527.67,136.9 527.87,137.4 528.08,138.1 528.28,137.6 528.49,138.8 528.69,138.3 528.90,138.6 529.10,138.5 529.30,138.9 529.50,139.1 529.70,139.2 529.90,139.4 530.10,139.1 530.30,139.0 530.50,138.3 530.70,138.8 530.90,138.5 531.10,138.4 531.30,138.2 531.50,137.6 531.70,137.0 531.90,136.7 532.10,136.5 532.30,136.0 532.50,136.0 532.70,136.2 532.90,136.3 533.10,136.0 533.30,136.0 533.50,136.4 533.70,136.6 533.90,136.4 534.10,136.1 534.30,136.3 534.50,135.4 534.70,135.7 534.90,135.2 535.10,135.0 535.30,134.9 535.50,135.3 535.70,134.6 535.90,134.9 536.10,135.5 536.30,135.0 536.50,135.2 536.70,136.0 536.90,135.6 537.10,135.8 537.30,135.4 537.50,135.2 537.70,134.2 537.90,134.1 538.10,134.8 538.30,135.3 538.50,134.8 538.70,134.8 538.90,134.4 539.10,134.2 539.30,133.8 539.50,134.3 539.70,133.9 539.90,134.3 540.10,134.0 540.30,134.4 540.50,134.1 540.70,133.5 540.90,133.2 541.10,133.2 541.30,133.5 541.50,133.7 541.70,133.1 541.90,133.7 542.10,133.6 542.30,133.6 542.50,133.2 542.70,133.5 542.90,133.3 543.10,132.7 543.30,132.6 543.50,132.7 543.70,132.6 543.90,132.4 544.10,132.5 544.30,131.9 544.50,132.2 544.70,131.9 544.90,131.3 545.10,131.5 545.30,132.0 545.50,132.3 545.70,131.7 545.90,131.3 546.10,131.5 546.30,131.5 546.50,131.6 546.70,131.7 546.90,130.9 547.10,131.4 547.30,130.8 547.50,130.8 547.70,130.4 547.90,130.5 548.09,130.7 548.28,130.5 548.48,129.9 548.67,129.6 548.86,129.2 549.05,128.8 549.24,128.8 549.43,128.1 549.62,128.0 549.82,127.3 550.01,127.3 550.20,127.2 550.40,127.4 550.60,127.8 550.80,128.3 551.00,128.3 551.20,128.3 551.40,127.8 551.60,127.5 551.80,128.0 552.00,127.2 552.20,128.0 552.40,128.3 552.60,128.1 552.81,128.2 553.01,128.0 553.22,128.5 553.43,128.3 553.64,128.8 553.84,128.8 554.05,128.4 554.26,128.8 554.46,129.0 554.67,129.2 554.88,129.6 555.09,129.3 555.29,128.7 555.50,128.8 555.70,128.9 555.90,129.0 556.10,128.7 556.30,128.9 556.50,128.4 556.70,128.5 556.90,128.8 557.10,128.9 557.30,129.2 557.50,128.5 557.70,128.5 557.90,128.4 558.10,128.4 558.30,128.3 558.50,128.5 558.70,128.9 558.90,129.3 559.10,129.3 559.30,129.2 559.50,129.4 559.70,128.9 559.90,129.3 560.10,129.2 560.30,129.6 560.50,129.8 560.70,130.0 560.90,130.5 561.10,130.9 561.31,130.8 561.51,130.2 561.72,129.6 561.93,129.2 562.14,129.0 562.34,128.6 562.55,128.2 562.76,128.6 562.96,127.8 563.17,128.8 563.38,128.6 563.59,128.4 563.79,127.4 564.00,127.5 564.20,127.9 564.40,128.5 564.60,127.9 564.80,127.9 565.00,128.8 565.20,129.1 565.40,129.8 565.60,130.2 565.80,130.7 566.00,130.6 566.20,130.9 566.40,131.0 566.60,130.3 566.80,130.7 566.99,130.6 567.19,130.9 567.38,131.1 567.57,130.7 567.77,131.5 567.96,131.6 568.15,131.9 568.35,131.4 568.54,131.7 568.73,132.1 568.93,132.5 569.12,132.3 569.31,133.0 569.51,132.7 569.70,133.2 569.90,133.3 570.10,133.4 570.30,132.9 570.50,132.9 570.70,132.0 570.90,132.3 571.10,132.2 571.30,132.4 571.50,132.4 571.70,131.6 571.90,132.1 572.10,132.0 572.30,132.3 572.50,131.3 572.70,131.6 572.90,131.3 573.10,130.8 573.30,131.0 573.50,131.0 573.70,131.7 573.90,132.2 574.10,131.8 574.30,131.7 574.50,131.5 574.70,131.3 574.90,130.6 575.10,130.1 575.30,129.4 575.49,129.3 575.69,129.7 575.88,130.3 576.07,129.5 576.27,129.2 576.46,129.3 576.65,129.7 576.85,130.1 577.04,130.9 577.23,131.1 577.43,130.9 577.62,131.5 577.81,130.8 578.01,130.9 578.20,131.2 578.40,131.5 578.60,131.4 578.80,131.8 579.00,131.7 579.20,131.3 579.40,131.4 579.60,131.7 579.80,131.8 580.00,132.2 580.20,132.3 580.40,132.6 580.60,132.8 580.80,131.8 581.00,131.6 581.20,131.8 581.40,131.3 581.60,131.4 581.80,131.1 582.00,131.4 582.20,131.0 582.40,131.5 582.60,130.9 582.80,130.7 583.00,130.2 583.20,131.4 583.40,131.6 583.60,131.2 583.80,131.4 584.00,131.6 584.20,132.0 584.40,131.8 584.60,131.8 584.80,132.2 585.00,132.3 585.20,132.9 585.40,133.9 585.60,134.2 585.80,134.3 585.99,134.0 586.19,132.3 586.38,132.2 586.58,131.5 586.77,130.9 586.97,130.4 587.16,130.8 587.36,130.5 587.55,131.0 587.75,130.9 587.94,130.6 588.14,130.8 588.33,130.5 588.53,130.1 588.72,130.0 588.92,130.5 589.11,129.8 589.31,130.2 589.50,130.3 589.70,130.5 589.90,130.1 590.10,130.2 590.30,130.7 590.50,130.9 590.70,131.1 590.90,131.3 591.10,131.3 591.30,131.3 591.50,131.4 591.70,131.8 591.90,132.1 592.10,131.4 592.30,131.0 592.50,131.1 592.70,131.3 592.90,131.0 593.10,131.2 593.30,130.9 593.50,131.5 593.70,132.0 593.90,131.9 594.10,132.2 594.30,131.7 594.50,131.2 594.70,131.0 594.90,130.9 595.10,130.7 595.30,130.6 595.50,130.1 595.70,130.0 595.90,130.3 596.10,130.3 596.30,129.9 596.50,130.0 596.70,130.2 596.90,129.9 597.10,129.9 597.30,129.7 597.50,129.9 597.70,129.8 597.90,129.9 598.10,129.7 598.30,129.7 598.50,129.2 598.70,128.8 598.90,128.1 599.10,128.1 599.30,128.3 599.50,128.4 599.70,128.2 599.90,128.1 600.10,127.9 600.30,127.3 600.50,127.1 600.71,127.3 600.91,127.6 601.12,127.4 601.33,128.4 601.53,128.7 601.74,128.5 601.94,128.9 602.15,128.9 602.36,129.1 602.56,128.8 602.77,129.2 602.97,129.1 603.18,129.1 603.39,129.2 603.59,129.2 603.80,129.6 604.00,129.5 604.20,129.9 604.40,129.8 604.60,129.3 604.80,129.5 605.00,129.7 605.20,129.9 605.40,129.7 605.60,129.4 605.80,129.9 606.00,130.4 606.20,130.4 606.40,130.4 606.60,130.0 606.80,130.1 607.00,129.7 607.20,129.8 607.40,130.3 607.60,130.1 607.80,129.9 608.00,129.5 608.20,129.3 608.40,129.1 608.59,129.6 608.79,129.5 608.98,130.0 609.18,130.4 609.37,130.5 609.56,130.5 609.76,130.6 609.95,130.5 610.15,131.3 610.34,130.8 610.54,130.9 610.73,131.5 610.92,131.2 611.12,132.0 611.31,131.8 611.51,132.0 611.70,132.5 611.90,132.9 612.10,132.9 612.30,133.2 612.50,132.7 612.70,133.0 612.90,132.5 613.10,132.5 613.30,132.2 613.50,132.2 613.70,132.4 613.90,132.8 614.10,133.2 614.30,133.6 614.50,133.8 614.70,133.6 614.90,134.1 615.10,134.0 615.31,133.8 615.52,133.2 615.73,132.9 615.93,132.9 616.14,132.9 616.35,132.4 616.56,132.5 616.77,132.4 616.98,132.5 617.18,132.6 617.39,132.7 617.60,133.0 617.80,133.4 618.00,133.1 618.20,133.2 618.40,133.3 618.60,134.2 618.80,134.4 619.00,134.5 619.20,134.4 619.40,134.1 619.60,134.6 619.80,134.0 620.00,133.5 620.20,133.7 620.40,133.1 620.60,133.4 620.80,133.7 621.00,133.4 621.20,132.6 621.40,133.1 621.60,133.4 621.80,133.1 622.00,133.1 622.20,132.8 622.40,132.4 622.60,132.1 622.80,131.2 623.00,131.7 623.20,131.8 623.40,131.7 623.60,131.7 623.80,131.6 624.00,131.6 624.20,132.3 624.40,131.6 624.61,131.0 624.82,131.0 625.02,130.3 625.23,130.5 625.44,130.2 625.65,129.3 625.86,129.0 626.07,128.7 626.27,129.5 626.48,129.0 626.69,129.2 626.90,128.9 627.11,129.0 627.32,128.5 627.52,129.0 627.73,129.2 627.94,128.7 628.15,129.0 628.36,129.1 628.57,128.6 628.77,128.1 628.98,128.1 629.19,128.2 629.40,127.9 629.61,127.9 629.82,128.4 630.02,127.8 630.23,128.5 630.44,128.8 630.65,128.5 630.86,128.7 631.07,128.0 631.27,128.4 631.48,129.3 631.69,129.8 631.90,130.0 632.10,129.5 632.30,129.9 632.50,129.4 632.70,128.9 632.90,128.2 633.10,127.8 633.30,127.2 633.50,127.1 633.70,126.7 633.90,126.4 634.10,126.4 634.30,126.9 634.50,126.6 634.71,126.4 634.92,126.3 635.12,126.5 635.33,126.0 635.54,126.1 635.75,125.7 635.96,125.6 636.17,126.3 636.38,126.3 636.58,126.8 636.79,126.9 637.00,126.4 637.20,126.9 637.40,126.4 637.60,126.1 637.80,126.3 638.00,126.4 638.20,126.9 638.40,127.5 638.60,127.8 638.80,127.7 639.00,127.8 639.20,127.9 639.40,128.1 639.60,127.7 639.80,128.1 640.00,127.9 640.20,128.1 640.40,127.6 640.59,127.6 640.79,127.3 640.98,127.3 641.18,126.4 641.37,126.3 641.56,126.2 641.76,126.9 641.95,126.5 642.15,127.0 642.34,126.7 642.54,127.3 642.73,128.0 642.92,128.0 643.12,128.1 643.31,128.0 643.51,127.8 643.70,127.4 643.90,127.9 644.10,128.5 644.30,128.8 644.50,127.9 644.70,127.8 644.90,128.0 645.10,128.0 645.30,128.1 645.50,127.1 645.70,127.2 645.90,127.1 646.10,127.6 646.30,128.1 646.50,128.6 646.70,128.3 646.90,128.6 647.10,128.7 647.30,128.2 647.50,127.7 647.70,127.6 647.90,128.1 648.10,128.6 648.30,128.2 648.50,128.1 648.70,128.0 648.90,128.5 649.10,128.9 649.30,129.1 649.50,128.6 649.70,128.8 649.90,128.3 650.10,128.5 650.30,127.4 650.50,127.3 650.71,127.7 650.92,128.1 651.12,127.9 651.33,127.1 651.54,127.2 651.75,127.4 651.96,127.1 652.17,126.4 652.38,126.1 652.58,126.6 652.79,126.2 653.00,126.2 653.21,125.9 653.42,126.0 653.62,125.9 653.83,125.0 654.04,125.0 654.25,124.6 654.46,125.5 654.67,126.0 654.88,126.4 655.08,125.8 655.29,125.7 655.50,125.5 655.70,125.3 655.90,125.7 656.10,125.4 656.30,125.2 656.50,125.5 656.70,125.2 656.90,125.0 657.10,124.3 657.30,124.4 657.50,124.7 657.70,124.5 657.90,124.5 658.10,124.6 658.30,124.6 658.50,124.8 658.70,124.0 658.90,123.8 659.09,124.2 659.29,124.0 659.48,124.0 659.68,123.9 659.87,124.4 660.06,124.4 660.26,125.0 660.45,124.8 660.65,124.8 660.84,125.3 661.04,125.5 661.23,124.7 661.42,124.8 661.62,124.7 661.81,124.2 662.01,124.3 662.20,124.9 662.40,124.0 662.60,124.0 662.80,123.7 663.00,124.6 663.20,125.2 663.40,124.3 663.60,123.7 663.80,123.5 664.00,122.5 664.20,122.5 664.40,122.1 664.60,121.8 664.80,121.7 665.01,122.3 665.22,121.7 665.42,121.3 665.63,120.3 665.84,119.8 666.05,119.7 666.26,119.3 666.47,119.0 666.67,118.6 666.88,118.1 667.09,117.5 667.30,117.6 667.50,117.8 667.70,117.4 667.90,117.8 668.10,118.2 668.30,118.3 668.50,118.2 668.70,118.8 668.90,118.4 669.10,118.6 669.30,119.0 669.50,118.5 669.70,118.2 669.90,118.5 670.10,118.4 670.30,118.0 670.50,118.0 670.70,117.8 670.91,117.9 671.11,117.7 671.32,117.9 671.53,117.7 671.73,117.7 671.94,117.8 672.14,118.1 672.35,117.7 672.56,117.6 672.76,117.4 672.97,117.9 673.17,118.1 673.38,117.8 673.59,117.8 673.79,117.9 674.00,117.8 674.21,118.2 674.42,117.4 674.62,118.0 674.83,118.4 675.04,118.4 675.25,118.0 675.46,117.1 675.67,117.3 675.88,117.7 676.08,117.7 676.29,117.9 676.50,117.6 676.70,117.6 676.90,117.3 677.10,116.8 677.30,116.0 677.50,115.6 677.70,115.6 677.90,115.6 678.10,115.5 678.30,115.3 678.50,115.3 678.70,115.1 678.90,115.0 679.10,114.5 679.31,114.2 679.52,113.8 679.73,113.1 679.93,112.9 680.14,112.1 680.35,111.8 680.56,111.0 680.77,110.5 680.98,110.8 681.18,111.3 681.39,111.2 681.60,110.7 681.81,109.6 682.02,109.4 682.24,109.4 682.45,109.3 682.66,108.9 682.88,109.0 683.09,108.6 683.30,108.5 683.51,108.7 683.72,108.8 683.92,109.7 684.13,110.4 684.34,110.8 684.55,110.5 684.76,110.9 684.97,111.1 685.17,111.5 685.38,112.0 685.59,111.6 685.80,111.9 686.01,111.8 686.22,111.9 686.42,111.8 686.63,111.6 686.84,111.9 687.05,111.3 687.26,112.0 687.47,112.2 687.67,112.1 687.88,111.4 688.09,110.7 688.30,110.1 688.50,110.1 688.70,110.1 688.90,110.1 689.10,110.0 689.30,109.7 689.50,108.7 689.70,108.4 689.90,108.5 690.10,108.3 690.30,108.6 690.50,108.4 690.70,108.6 690.90,108.9 691.09,107.6 691.28,107.3 691.47,107.7 691.66,108.1 691.84,107.8 692.03,107.7 692.22,107.8 692.41,108.1 692.60,108.3 692.81,107.5 693.02,106.9 693.23,106.2 693.44,105.7 693.66,105.8 693.87,105.6 694.08,105.4 694.29,105.0 694.50,105.5 694.71,105.2 694.92,104.5 695.13,104.2 695.34,103.7 695.56,103.1 695.77,102.5 695.98,101.1 696.19,100.4 696.40,100.2 696.60,99.1 696.80,98.3 697.00,97.3 697.20,96.2 697.40,95.9 697.60,95.5 697.80,94.7 698.00,94.6 698.20,95.0 698.40,94.7 698.60,94.3 698.80,93.9 699.00,94.3 699.20,94.8 699.40,94.3 699.60,94.3 699.80,94.9 700.00,95.0 700.20,94.2 700.40,94.4 700.60,94.5 700.80,94.6 701.00,94.5 701.20,94.9 701.40,95.0 701.60,95.8 701.80,95.6 702.00,95.6 702.21,95.6 702.42,95.2 702.63,95.2 702.84,95.3 703.06,94.6 703.27,95.6 703.48,95.8 703.69,96.1 703.90,96.2 704.11,96.0 704.32,96.1 704.53,96.5 704.74,96.5 704.96,96.1 705.17,96.2 705.38,96.2 705.59,95.7 705.80,95.6 705.99,95.7 706.18,95.5 706.37,95.5 706.56,95.2 706.75,94.8 706.94,94.6 707.13,94.3 707.32,95.5 707.51,95.8 707.70,95.6 707.91,94.7 708.12,94.8 708.33,94.8 708.54,93.8 708.76,93.4 708.97,93.7 709.18,93.5 709.39,93.8 709.60,93.1 709.82,92.1 710.03,91.1 710.25,89.9 710.47,88.8 710.68,88.2 710.90,88.3 711.10,87.4 711.30,86.6 711.50,84.9 711.70,84.3 711.90,83.4 712.10,82.3 712.32,80.7 712.53,80.3 712.75,79.6 712.97,78.4 713.18,77.1 713.40,76.2 713.62,75.2 713.85,74.0 714.07,73.2 714.30,73.4 714.50,73.9 714.70,75.1 714.90,76.1 715.10,76.8 715.30,78.4 715.49,79.1 715.67,79.0 715.86,78.7 716.04,78.8 716.23,78.7 716.41,77.3 716.60,77.3 716.79,77.0 716.98,76.8 717.16,76.8 717.35,76.4 717.54,76.1 717.73,75.4 717.91,74.8 718.10,74.4 718.30,73.6 718.50,73.5 718.70,73.2 718.90,72.3 719.10,71.8 719.30,70.8 719.48,69.7 719.67,69.2 719.85,68.6 720.03,68.3 720.22,67.7 720.40,67.1 720.60,66.2 720.80,65.7 721.00,64.8 721.20,63.8 721.40,63.2 721.60,61.7 721.80,59.8 722.00,58.8 722.20,58.5" fill="none" stroke="#f5a800" stroke-width="1.4" stroke-linejoin="round"/>
<polyline points="35.80,163.6 36.00,164.7 36.20,164.3 36.40,165.2 36.60,165.2 36.80,165.3 37.00,166.8 37.20,167.0 37.40,167.1 37.60,167.6 37.80,168.2 38.00,168.1 38.20,168.5 38.40,167.8 38.60,167.6 38.80,167.4 39.00,166.8 39.21,166.0 39.42,165.3 39.63,165.6 39.84,165.9 40.05,166.1 40.25,166.5 40.46,166.0 40.67,166.3 40.88,166.9 41.09,167.7 41.30,167.3 41.50,167.2 41.70,166.1 41.90,166.1 42.10,165.0 42.30,164.5 42.50,165.8 42.70,164.7 42.90,165.7 43.10,166.2 43.30,166.3 43.50,166.8 43.70,167.3 43.90,168.0 44.10,167.8 44.30,167.4 44.50,167.1 44.70,166.5 44.90,166.6 45.10,166.3 45.30,167.1 45.50,166.0 45.70,165.5 45.90,165.2 46.10,164.1 46.31,165.9 46.52,164.6 46.73,164.9 46.94,165.0 47.15,166.5 47.35,165.4 47.56,166.5 47.77,166.2 47.98,166.4 48.19,166.2 48.40,166.8 48.60,166.2 48.80,166.3 49.00,166.7 49.20,167.9 49.40,166.3 49.60,167.3 49.80,167.9 50.00,167.4 50.20,167.5 50.40,167.1 50.60,168.1 50.80,168.0 51.00,167.6 51.20,167.3 51.40,167.0 51.60,166.8 51.80,166.1 52.00,167.4 52.20,166.0 52.40,163.7 52.60,163.9 52.80,164.1 53.00,164.6 53.20,164.6 53.39,164.4 53.58,164.5 53.76,164.9 53.95,164.3 54.14,163.9 54.33,164.9 54.51,164.8 54.70,163.7 54.90,165.1 55.10,165.4 55.30,164.8 55.50,163.9 55.70,164.0 55.90,163.4 56.10,162.8 56.30,162.1 56.50,162.1 56.70,163.0 56.90,162.9 57.10,162.1 57.30,162.7 57.50,162.8 57.70,163.4 57.90,164.1 58.10,163.8 58.30,163.5 58.50,163.4 58.70,162.6 58.90,163.0 59.10,163.8 59.30,163.7 59.50,163.4 59.70,163.1 59.90,162.5 60.10,162.1 60.30,161.9 60.50,161.5 60.70,161.4 60.90,160.6 61.10,161.1 61.30,161.4 61.50,160.9 61.70,159.7 61.90,160.1 62.09,161.2 62.28,160.9 62.48,160.9 62.67,160.8 62.86,161.4 63.05,161.0 63.24,161.9 63.43,161.8 63.62,162.5 63.82,162.5 64.01,162.3 64.20,161.4 64.40,161.1 64.60,161.1 64.80,161.7 65.00,161.9 65.20,161.5 65.40,161.8 65.60,162.5 65.80,162.3 66.00,161.9 66.20,161.7 66.40,162.2 66.60,162.5 66.80,161.8 67.00,162.1 67.20,161.8 67.40,161.4 67.60,162.3 67.80,162.8 68.00,162.3 68.20,162.3 68.40,162.6 68.60,162.2 68.80,162.1 69.00,162.5 69.21,161.4 69.42,161.7 69.63,162.3 69.84,162.6 70.05,161.7 70.25,162.0 70.46,161.6 70.67,162.1 70.88,162.5 71.09,162.6 71.30,162.1 71.50,162.0 71.70,162.8 71.90,162.4 72.10,162.9 72.30,163.4 72.50,163.4 72.70,165.1 72.90,165.1 73.10,166.4 73.30,164.9 73.50,163.5 73.70,164.4 73.90,164.1 74.10,163.2 74.30,162.5 74.50,160.6 74.70,159.7 74.90,158.6 75.10,158.0 75.30,158.1 75.50,158.2 75.70,158.5 75.90,158.1 76.10,157.8 76.30,158.0 76.50,157.8 76.70,158.7 76.90,158.0 77.10,159.2 77.30,158.4 77.50,159.0 77.70,158.3 77.91,159.1 78.12,158.8 78.33,158.7 78.54,158.8 78.75,157.9 78.95,156.9 79.16,155.4 79.37,156.2 79.58,155.6 79.79,155.1 80.00,155.0 80.20,156.4 80.40,155.3 80.60,155.6 80.80,155.5 81.00,156.0 81.20,154.9 81.40,154.9 81.60,155.7 81.80,156.9 82.00,157.9 82.20,157.2 82.40,157.2 82.60,156.8 82.80,155.7 83.00,154.7 83.20,155.1 83.40,155.2 83.60,155.0 83.80,155.6 84.00,154.7 84.20,154.9 84.40,154.7 84.60,154.4 84.80,154.5 85.01,154.5 85.22,154.4 85.43,154.4 85.64,155.4 85.85,154.8 86.05,155.1 86.26,155.1 86.47,154.5 86.68,154.6 86.89,153.7 87.10,154.2 87.30,153.2 87.50,152.5 87.70,152.4 87.90,152.6 88.10,152.7 88.30,152.8 88.50,152.2 88.70,151.1 88.90,151.1 89.10,150.9 89.30,149.9 89.50,150.2 89.70,149.8 89.90,148.6 90.10,148.3 90.30,147.0 90.50,146.0 90.70,145.9 90.90,144.6 91.10,144.3 91.30,143.9 91.50,144.8 91.70,144.7 91.90,145.2 92.10,144.6 92.30,144.9 92.50,145.9 92.70,146.6 92.89,145.3 93.08,145.9 93.26,146.4 93.45,146.0 93.64,146.8 93.83,145.8 94.01,145.6 94.20,146.2 94.40,146.5 94.60,146.7 94.80,145.3 95.00,143.7 95.20,143.6 95.40,142.3 95.60,141.9 95.80,140.8 96.00,141.9 96.20,142.8 96.40,143.3 96.60,143.5 96.80,143.7 97.00,143.6 97.20,144.1 97.40,144.4 97.60,144.4 97.80,143.9 98.00,144.8 98.20,144.6 98.40,145.1 98.60,145.4 98.80,144.2 99.00,142.7 99.22,142.5 99.44,141.2 99.66,140.2 99.88,139.0 100.10,138.1 100.29,136.4 100.47,135.5 100.66,134.3 100.84,133.5 101.03,131.2 101.21,131.1 101.40,130.5 101.60,127.5 101.80,125.2 102.00,123.4 102.20,121.9 102.40,120.0 102.60,118.9 102.78,116.8 102.97,114.0 103.15,111.5 103.33,110.0 103.52,107.6 103.70,106.1 103.90,107.9 104.10,109.4 104.30,111.1 104.50,111.9 104.70,112.9 104.90,113.6 105.10,114.3 105.30,114.5 105.48,116.0 105.67,117.2 105.85,118.3 106.03,120.5 106.22,122.7 106.40,124.4 106.60,123.8 106.80,122.7 107.00,121.5 107.20,119.3 107.40,116.5 107.62,115.4 107.84,114.0 108.06,112.9 108.28,111.5 108.50,110.6 108.72,111.5 108.94,113.0 109.16,113.5 109.38,113.2 109.60,114.4 109.80,114.7 110.00,112.9 110.20,112.9 110.40,111.7 110.60,110.8 110.80,110.1 111.02,111.4 111.23,111.9 111.45,113.2 111.67,114.6 111.88,116.3 112.10,116.8 112.28,117.1 112.47,117.4 112.65,117.8 112.83,115.7 113.02,114.8 113.20,112.6 113.42,113.7 113.64,115.0 113.86,115.1 114.08,115.0 114.30,116.3 114.52,116.5 114.73,115.8 114.95,115.5 115.17,113.7 115.38,113.4 115.60,113.6 115.80,114.5 116.00,116.2 116.20,116.1 116.40,115.4 116.60,116.5 116.80,116.9 116.98,116.7 117.17,116.7 117.35,116.5 117.53,116.8 117.72,116.9 117.90,114.9 118.10,115.5 118.30,117.5 118.50,117.7 118.70,118.9 118.90,119.4 119.10,119.6 119.30,121.2 119.50,122.3 119.70,122.0 119.90,122.4 120.10,121.4 120.30,120.9 120.50,121.6 120.70,121.6 120.90,120.9 121.10,121.3 121.30,122.0 121.50,123.2 121.70,124.1 121.90,124.2 122.10,124.2 122.30,124.5 122.50,124.8 122.70,126.2 122.90,128.0 123.10,129.5 123.30,130.4 123.50,130.8 123.70,132.1 123.90,132.6 124.10,133.4 124.30,133.1 124.49,133.4 124.67,135.0 124.86,134.8 125.05,134.4 125.24,135.1 125.42,136.8 125.61,138.3 125.80,138.5 125.98,138.3 126.17,138.4 126.35,138.1 126.53,138.4 126.72,138.5 126.90,137.9 127.12,136.9 127.33,136.2 127.55,135.1 127.77,133.9 127.98,134.0 128.20,134.6 128.40,133.8 128.60,133.0 128.80,132.8 129.00,132.0 129.20,131.0 129.40,131.3 129.60,130.0 129.80,129.0 129.99,127.7 130.18,126.4 130.36,125.4 130.55,125.0 130.74,125.1 130.93,124.5 131.11,123.4 131.30,121.6 131.52,120.0 131.74,117.9 131.96,116.4 132.18,115.5 132.40,114.1 132.59,113.4 132.78,112.5 132.96,112.0 133.15,111.7 133.34,110.6 133.53,109.9 133.71,110.2 133.90,108.7 134.10,109.5 134.30,109.9 134.50,112.1 134.70,113.5 134.90,114.7 135.10,115.9 135.30,116.9 135.50,118.0 135.70,117.8 135.90,119.0 136.10,120.3 136.30,120.3 136.50,120.5 136.70,120.4 136.90,118.9 137.10,118.2 137.30,117.7 137.50,117.0 137.70,116.9 137.90,115.7 138.10,115.6 138.30,115.7 138.50,116.1 138.70,116.0 138.90,115.7 139.10,116.0 139.30,114.5 139.50,115.1 139.70,114.3 139.90,112.9 140.10,112.1 140.30,110.5 140.50,108.8 140.70,108.4 140.90,107.7 141.10,107.9 141.29,108.3 141.47,108.6 141.66,109.1 141.85,111.3 142.04,112.2 142.22,112.7 142.41,113.0 142.60,113.2 142.79,114.5 142.97,116.1 143.16,118.0 143.34,119.9 143.53,121.0 143.71,121.5 143.90,122.0 144.10,119.7 144.30,118.5 144.50,118.2 144.70,117.4 144.90,117.0 145.10,115.4 145.30,115.4 145.50,114.8 145.70,114.5 145.90,114.3 146.10,112.4 146.30,111.8 146.50,111.0 146.70,111.9 146.90,111.4 147.10,110.7 147.30,110.8 147.50,109.7 147.70,110.2 147.90,110.3 148.10,110.9 148.30,111.0 148.50,112.2 148.70,111.4 148.90,112.7 149.10,112.9 149.30,113.7 149.50,114.0 149.70,115.3 149.90,116.5 150.10,117.9 150.30,119.1 150.50,120.4 150.70,121.9 150.90,122.4 151.10,122.6 151.30,122.9 151.50,124.6 151.70,125.4 151.90,127.3 152.10,128.3 152.30,127.5 152.50,127.9 152.70,128.9 152.90,128.4 153.10,127.5 153.30,126.7 153.50,127.1 153.70,126.5 153.89,125.7 154.07,125.6 154.26,125.0 154.44,124.5 154.63,123.5 154.81,122.6 155.00,122.2 155.19,122.6 155.38,123.2 155.56,123.0 155.75,123.5 155.94,124.0 156.12,124.2 156.31,124.7 156.50,125.4 156.70,124.7 156.90,123.9 157.10,122.4 157.30,121.9 157.50,121.1 157.70,120.1 157.90,118.9 158.10,118.7 158.32,118.7 158.54,117.2 158.76,115.4 158.98,113.9 159.20,111.7 159.38,110.8 159.57,109.5 159.75,108.3 159.93,107.7 160.12,107.0 160.30,106.2 160.52,106.0 160.73,106.6 160.95,106.4 161.17,107.4 161.38,107.6 161.60,108.0 161.80,108.1 162.00,107.9 162.20,106.6 162.40,106.0 162.60,105.8 162.80,104.6 163.00,102.8 163.20,102.6 163.40,102.7 163.60,103.1 163.80,103.3 164.00,103.4 164.20,103.5 164.40,104.4 164.60,104.5 164.80,104.7 164.99,104.7 165.18,105.9 165.36,106.1 165.55,106.9 165.74,105.8 165.93,106.5 166.11,107.0 166.30,107.2 166.50,108.4 166.70,108.9 166.90,109.0 167.10,108.9 167.30,110.3 167.50,110.9 167.70,111.4 167.90,111.0 168.12,112.2 168.33,112.8 168.55,112.9 168.77,113.2 168.98,112.5 169.20,113.5 169.38,111.7 169.57,111.2 169.75,109.9 169.93,108.4 170.12,107.7 170.30,106.8 170.52,105.3 170.74,104.6 170.96,104.3 171.18,103.4 171.40,101.8 171.62,103.1 171.83,104.0 172.05,105.2 172.27,106.8 172.48,108.3 172.70,109.6 172.89,109.0 173.07,109.7 173.26,110.0 173.45,110.1 173.64,110.7 173.82,112.2 174.01,111.6 174.20,110.9 174.39,112.3 174.57,112.6 174.76,114.2 174.94,114.3 175.13,114.8 175.31,116.1 175.50,117.4 175.72,118.3 175.94,119.1 176.16,119.6 176.38,119.9 176.60,120.3 176.80,121.7 177.00,122.6 177.20,123.1 177.40,123.7 177.60,124.6 177.80,125.8 178.00,126.0 178.20,126.3 178.38,127.6 178.57,130.4 178.75,131.4 178.93,133.2 179.12,133.1 179.30,134.7 179.53,135.5 179.75,136.7 179.97,138.3 180.20,140.3 180.38,141.8 180.57,143.4 180.75,144.9 180.93,145.9 181.12,148.9 181.30,150.2 181.52,151.8 181.74,154.2 181.96,155.9 182.18,157.2 182.40,158.4 182.62,159.6 182.83,158.8 183.05,158.3 183.27,158.6 183.48,157.5 183.70,157.5 183.90,159.1 184.10,159.6 184.30,160.5 184.50,161.7 184.70,161.7 184.90,162.7 185.10,163.2 185.30,163.3 185.52,163.5 185.73,163.8 185.95,163.8 186.17,163.7 186.38,164.6 186.60,165.5 186.82,165.1 187.04,164.2 187.26,162.7 187.48,161.4 187.70,160.0 187.89,160.2 188.07,160.7 188.26,161.1 188.45,160.9 188.64,160.4 188.82,160.3 189.01,160.2 189.20,160.3 189.40,161.4 189.60,160.9 189.80,162.3 190.00,160.9 190.20,160.0 190.40,159.3 190.60,159.1 190.80,159.5 191.00,160.5 191.20,159.5 191.40,159.7 191.60,158.9 191.80,158.4 192.00,157.1 192.20,158.1 192.40,157.3 192.60,156.4 192.80,157.4 193.00,156.9 193.20,156.6 193.40,155.9 193.60,154.8 193.80,153.4 194.00,153.0 194.20,153.3 194.40,152.7 194.60,151.6 194.80,151.4 195.00,149.9 195.20,149.9 195.40,148.9 195.60,147.4 195.79,148.0 195.97,148.4 196.16,148.3 196.35,148.5 196.54,149.2 196.72,150.1 196.91,149.5 197.10,147.9 197.30,149.1 197.50,148.7 197.70,148.2 197.90,148.2 198.10,147.7 198.30,148.2 198.50,147.1 198.70,146.8 198.90,145.5 199.10,146.0 199.30,145.2 199.50,145.3 199.70,145.5 199.90,144.0 200.10,143.2 200.30,143.0 200.50,143.2 200.70,143.2 200.90,143.9 201.10,144.5 201.30,144.1 201.50,144.1 201.70,144.7 201.90,144.9 202.10,144.2 202.30,142.8 202.50,143.3 202.70,142.4 202.90,141.8 203.10,141.1 203.30,140.4 203.50,139.8 203.69,138.8 203.88,138.7 204.06,139.0 204.25,138.7 204.44,138.6 204.62,138.3 204.81,137.8 205.00,138.3 205.22,136.6 205.44,135.7 205.66,135.1 205.88,134.1 206.10,132.2 206.29,131.1 206.47,131.9 206.66,130.9 206.84,130.7 207.03,130.8 207.21,130.5 207.40,129.1 207.60,128.1 207.80,128.4 208.00,128.2 208.20,128.4 208.40,128.8 208.60,129.2 208.80,128.7 209.00,128.0 209.20,129.2 209.40,129.4 209.60,129.2 209.80,128.6 210.00,129.7 210.20,129.5 210.40,129.6 210.60,130.7 210.79,130.7 210.97,130.7 211.16,129.5 211.35,127.3 211.54,126.6 211.72,126.3 211.91,125.8 212.10,126.2 212.30,126.5 212.50,125.9 212.70,126.3 212.90,126.2 213.10,125.9 213.30,126.6 213.50,125.4 213.70,126.1 213.90,126.4 214.10,124.7 214.30,124.4 214.50,124.0 214.70,123.0 214.90,122.5 215.10,121.9 215.30,121.8 215.50,121.5 215.70,120.2 215.90,121.2 216.10,121.8 216.30,121.2 216.50,121.8 216.70,122.9 216.90,121.6 217.10,120.7 217.30,119.8 217.50,119.5 217.70,118.7 217.90,117.2 218.10,117.4 218.30,116.6 218.50,116.4 218.69,118.0 218.88,117.5 219.06,117.3 219.25,118.1 219.44,118.0 219.62,118.5 219.81,118.5 220.00,120.4 220.19,121.9 220.37,123.2 220.56,124.4 220.74,125.8 220.93,125.9 221.11,127.1 221.30,129.0 221.52,126.2 221.74,124.4 221.96,122.4 222.18,120.2 222.40,119.9 222.60,120.0 222.80,119.8 223.00,118.9 223.20,118.6 223.40,118.1 223.60,117.8 223.80,117.7 224.00,119.0 224.20,119.2 224.40,119.5 224.60,119.5 224.80,120.4 225.00,118.8 225.20,117.1 225.40,116.5 225.60,116.0 225.82,115.4 226.04,114.4 226.26,114.4 226.48,114.9 226.70,114.4 226.88,114.9 227.07,116.3 227.25,116.7 227.43,117.2 227.62,118.1 227.80,117.4 228.02,119.7 228.24,120.4 228.46,121.6 228.68,122.7 228.90,123.8 229.10,123.2 229.30,124.8 229.50,125.5 229.70,126.0 229.90,128.3 230.10,127.5 230.30,128.2 230.50,128.3 230.72,127.9 230.94,129.8 231.16,129.4 231.38,130.2 231.60,130.8 231.79,130.5 231.97,129.4 232.16,129.8 232.34,129.4 232.53,128.1 232.71,126.9 232.90,126.8 233.10,125.8 233.30,126.0 233.50,126.0 233.70,125.4 233.90,124.0 234.10,123.2 234.30,123.5 234.50,123.1 234.70,123.9 234.90,123.0 235.10,122.7 235.30,122.4 235.50,121.8 235.70,121.3 235.90,121.2 236.10,120.2 236.29,120.5 236.47,120.4 236.66,121.8 236.85,121.9 237.04,122.4 237.22,120.4 237.41,120.3 237.60,119.9 237.80,119.5 238.00,118.8 238.20,117.7 238.40,117.2 238.60,117.3 238.80,117.5 239.00,116.6 239.20,116.7 239.40,115.9 239.60,115.9 239.80,114.9 240.00,115.2 240.20,116.2 240.40,115.4 240.60,115.6 240.80,114.0 241.00,112.9 241.20,114.1 241.40,113.3 241.60,112.9 241.80,111.1 242.00,110.5 242.20,109.5 242.40,109.8 242.60,109.3 242.80,110.8 243.00,109.7 243.20,109.7 243.40,108.2 243.60,107.9 243.80,108.7 244.00,108.5 244.20,107.0 244.40,106.8 244.60,106.8 244.80,106.4 245.00,106.3 245.20,104.5 245.38,106.5 245.57,107.5 245.75,106.8 245.93,108.8 246.12,109.1 246.30,110.1 246.52,107.3 246.74,105.5 246.96,103.1 247.18,102.5 247.40,101.1 247.62,99.9 247.83,99.1 248.05,99.2 248.27,98.0 248.48,97.7 248.70,96.3 248.89,95.1 249.07,94.7 249.26,94.5 249.44,94.5 249.63,95.0 249.81,94.5 250.00,94.1 250.22,94.9 250.44,95.3 250.66,95.5 250.88,95.8 251.10,94.5 251.32,93.7 251.54,92.3 251.76,91.8 251.98,92.0 252.20,90.5 252.40,91.0 252.60,90.5 252.80,90.1 253.00,89.7 253.20,89.9 253.40,89.2 253.62,89.0 253.83,90.5 254.05,91.5 254.27,93.1 254.48,94.5 254.70,94.7 254.88,94.7 255.07,94.7 255.25,94.4 255.43,94.3 255.62,94.3 255.80,93.7 256.00,94.1 256.20,95.2 256.40,94.9 256.60,95.3 256.80,95.2 257.00,95.0 257.20,95.4 257.40,96.2 257.58,96.9 257.77,96.4 257.95,96.6 258.13,96.5 258.32,96.0 258.50,93.6 258.69,94.5 258.87,95.4 259.06,95.6 259.24,96.5 259.43,98.3 259.61,98.3 259.80,98.7 259.99,100.0 260.18,99.5 260.36,99.7 260.55,100.8 260.74,102.2 260.93,103.6 261.11,104.6 261.30,106.6 261.50,106.2 261.70,104.8 261.90,104.2 262.10,104.2 262.30,104.0 262.50,102.4 262.70,102.4 262.90,101.6 263.10,101.3 263.30,102.1 263.50,101.8 263.70,101.1 263.90,100.9 264.10,100.3 264.30,101.5 264.50,101.7 264.69,101.4 264.87,100.1 265.06,98.9 265.24,98.3 265.43,96.2 265.61,96.3 265.80,94.8 265.99,94.7 266.18,94.8 266.36,94.0 266.55,94.1 266.74,94.3 266.93,95.2 267.11,95.0 267.30,95.6 267.52,97.7 267.74,99.3 267.96,101.6 268.18,103.0 268.40,105.0 268.58,105.1 268.77,105.4 268.95,105.2 269.13,103.8 269.32,104.4 269.50,104.2 269.69,103.5 269.87,102.5 270.06,102.5 270.24,102.2 270.43,102.2 270.61,101.6 270.80,102.1 270.99,102.6 271.17,103.6 271.36,104.4 271.54,105.8 271.73,106.0 271.91,106.6 272.10,107.2 272.30,109.9 272.50,112.7 272.70,115.2 272.90,119.0 273.08,120.8 273.27,120.9 273.45,122.2 273.63,122.2 273.82,122.5 274.00,123.2 274.20,122.1 274.40,121.2 274.60,118.7 274.80,116.8 275.00,115.9 275.20,114.7 275.38,115.5 275.57,114.5 275.75,113.4 275.93,113.4 276.12,110.9 276.30,109.2 276.52,112.5 276.74,113.4 276.96,114.8 277.18,116.1 277.40,116.8 277.59,117.1 277.77,116.7 277.96,117.8 278.14,118.6 278.33,119.3 278.51,118.9 278.70,118.0 278.89,117.3 279.07,116.3 279.26,116.3 279.44,114.9 279.63,114.1 279.81,114.0 280.00,114.0 280.18,114.0 280.37,113.2 280.55,112.8 280.73,114.1 280.92,114.5 281.10,113.7 281.32,114.1 281.54,113.1 281.76,112.2 281.98,110.8 282.20,110.9 282.39,110.3 282.57,109.6 282.76,108.3 282.94,106.9 283.13,106.6 283.31,106.2 283.50,106.6 283.69,106.2 283.88,106.1 284.06,107.0 284.25,107.6 284.44,107.3 284.62,108.4 284.81,108.7 285.00,109.2 285.20,108.9 285.40,109.0 285.60,108.1 285.80,107.5 286.00,107.7 286.20,107.5 286.40,107.2 286.60,107.4 286.80,107.4 287.00,107.5 287.20,106.1 287.40,105.9 287.60,106.6 287.80,106.2 288.00,106.2 288.20,106.6 288.40,106.6 288.60,107.3 288.80,107.7 289.00,107.6 289.20,108.3 289.40,108.0 289.60,107.6 289.80,107.9 290.00,108.5 290.20,108.6 290.40,108.2 290.60,108.2 290.80,108.7 291.00,109.5 291.20,110.9 291.40,110.9 291.59,111.1 291.77,110.2 291.96,111.6 292.15,112.7 292.34,113.1 292.52,113.0 292.71,111.9 292.90,113.1 293.10,113.3 293.30,115.0 293.50,116.1 293.70,117.5 293.90,117.8 294.10,119.0 294.30,118.5 294.50,119.9 294.70,119.4 294.90,118.2 295.10,117.6 295.30,116.8 295.50,116.7 295.70,116.0 295.90,115.1 296.10,114.8 296.30,114.6 296.50,114.8 296.70,115.2 296.90,115.9 297.10,115.9 297.30,116.6 297.50,114.6 297.70,114.4 297.90,115.5 298.10,115.2 298.30,115.6 298.50,116.3 298.70,115.9 298.90,116.2 299.10,117.3 299.30,117.8 299.49,118.5 299.68,119.5 299.86,118.8 300.05,117.5 300.24,117.0 300.43,116.2 300.61,114.9 300.80,114.4 301.00,113.5 301.20,112.7 301.40,112.6 301.60,112.6 301.80,112.0 302.00,110.9 302.20,110.4 302.40,109.6 302.60,109.5 302.80,108.8 303.00,106.8 303.20,107.5 303.40,107.2 303.60,107.0 303.80,107.2 304.00,107.2 304.20,107.5 304.40,108.9 304.60,109.3 304.80,109.8 305.00,109.5 305.20,109.8 305.40,110.4 305.60,110.7 305.79,111.5 305.98,111.5 306.16,112.4 306.35,112.3 306.54,112.8 306.73,113.0 306.91,113.9 307.10,115.3 307.30,115.4 307.50,114.8 307.70,114.8 307.90,115.4 308.10,115.7 308.30,115.8 308.50,114.9 308.70,114.4 308.90,113.7 309.10,113.1 309.30,113.0 309.50,112.7 309.70,112.1 309.90,112.2 310.10,111.4 310.30,110.9 310.50,111.2 310.70,110.5 310.90,110.2 311.10,109.7 311.30,109.5 311.50,109.9 311.70,110.3 311.90,110.9 312.10,111.0 312.30,110.2 312.50,111.3 312.70,111.9 312.90,110.7 313.10,110.0 313.30,109.5 313.50,109.4 313.69,109.8 313.88,109.7 314.06,108.0 314.25,110.0 314.44,110.3 314.62,110.6 314.81,109.9 315.00,109.7 315.20,110.6 315.40,110.6 315.60,111.6 315.80,111.9 316.00,113.1 316.20,113.3 316.40,114.3 316.60,113.4 316.80,114.4 317.00,114.7 317.20,114.5 317.40,115.3 317.60,115.2 317.80,115.8 318.00,116.4 318.20,117.0 318.40,118.3 318.60,118.8 318.80,120.0 319.00,120.0 319.20,119.6 319.40,119.5 319.60,119.1 319.80,118.1 320.00,118.1 320.20,117.3 320.40,117.2 320.60,117.2 320.80,117.0 321.00,116.6 321.20,117.0 321.40,117.3 321.60,119.3 321.80,120.7 322.00,122.2 322.20,122.8 322.40,123.6 322.60,123.8 322.82,122.3 323.04,122.0 323.26,121.0 323.48,120.0 323.70,118.8 323.88,119.9 324.07,119.9 324.25,120.7 324.43,120.6 324.62,121.2 324.80,120.5 325.00,120.1 325.20,121.5 325.40,121.8 325.60,122.6 325.80,123.7 326.00,124.6 326.20,125.2 326.40,124.9 326.60,125.0 326.81,124.9 327.02,125.2 327.23,125.3 327.44,125.3 327.65,124.6 327.86,124.4 328.07,124.8 328.28,124.0 328.49,123.5 328.70,124.0 328.90,124.7 329.10,124.6 329.30,124.2 329.50,123.2 329.70,122.9 329.90,122.2 330.10,122.1 330.30,122.4 330.49,122.2 330.68,122.6 330.86,121.4 331.05,120.1 331.24,120.7 331.43,120.9 331.61,119.7 331.80,119.3 332.00,118.7 332.20,118.8 332.40,119.2 332.60,119.9 332.80,119.3 333.00,118.6 333.20,119.2 333.40,119.1 333.60,120.2 333.80,119.5 334.00,119.3 334.20,117.8 334.40,118.9 334.60,120.0 334.80,120.4 335.00,120.3 335.20,119.0 335.40,118.3 335.60,118.1 335.80,119.5 336.00,120.1 336.20,119.6 336.40,119.8 336.60,120.1 336.80,120.4 337.00,119.8 337.20,119.7 337.40,120.5 337.60,120.9 337.80,120.7 338.00,122.3 338.20,122.3 338.40,121.9 338.60,122.5 338.80,122.9 339.00,122.7 339.20,123.7 339.40,124.2 339.60,124.0 339.80,124.2 340.00,124.4 340.20,124.1 340.39,123.9 340.58,123.0 340.77,122.3 340.96,122.2 341.15,120.9 341.34,120.3 341.53,119.4 341.72,119.6 341.91,119.0 342.10,119.9 342.30,120.6 342.50,119.8 342.70,119.7 342.90,119.2 343.10,119.0 343.30,119.3 343.50,120.0 343.70,121.0 343.90,122.0 344.10,121.0 344.30,120.7 344.50,120.6 344.70,120.5 344.90,120.8 345.10,121.3 345.30,121.2 345.50,120.7 345.70,122.2 345.90,122.3 346.10,123.4 346.30,122.6 346.50,123.2 346.70,123.8 346.90,124.2 347.09,123.5 347.27,123.7 347.46,123.1 347.65,122.5 347.84,122.7 348.02,123.2 348.21,123.2 348.40,123.4 348.60,124.3 348.80,124.3 349.00,125.2 349.20,126.2 349.40,127.0 349.60,127.8 349.80,127.6 350.00,127.9 350.20,127.4 350.40,127.7 350.60,126.3 350.80,126.3 351.00,125.2 351.20,125.7 351.40,125.3 351.60,125.3 351.80,125.9 352.00,126.9 352.20,126.0 352.40,126.0 352.60,124.6 352.80,124.5 353.00,124.2 353.20,124.7 353.40,124.6 353.60,124.7 353.80,123.9 354.00,123.8 354.20,123.2 354.40,123.3 354.60,122.4 354.80,122.8 354.99,123.9 355.18,125.7 355.36,126.6 355.55,127.3 355.74,127.5 355.93,128.3 356.11,127.9 356.30,127.8 356.50,126.0 356.70,125.2 356.90,125.6 357.10,124.0 357.30,124.0 357.50,123.6 357.70,123.1 357.90,123.0 358.10,122.7 358.30,121.7 358.50,121.4 358.70,120.1 358.90,121.0 359.10,120.7 359.30,121.1 359.50,120.2 359.70,121.5 359.90,122.1 360.10,122.2 360.30,122.2 360.50,122.4 360.70,121.8 360.90,121.7 361.10,121.6 361.30,121.9 361.50,122.9 361.70,123.5 361.90,123.5 362.10,123.8 362.30,123.4 362.50,123.0 362.70,121.9 362.89,121.4 363.07,121.0 363.26,121.4 363.45,121.7 363.64,122.3 363.82,123.4 364.01,124.0 364.20,124.0 364.40,123.9 364.60,123.9 364.80,124.6 365.00,124.2 365.20,123.5 365.40,123.7 365.60,124.8 365.80,125.8 366.00,126.2 366.20,125.0 366.40,125.1 366.60,125.7 366.80,126.5 367.00,127.7 367.20,126.9 367.40,127.1 367.60,125.9 367.80,125.7 368.00,125.4 368.20,125.9 368.40,125.8 368.60,124.6 368.80,124.6 369.00,124.8 369.20,126.0 369.40,125.7 369.60,125.4 369.80,125.3 370.00,126.3 370.20,126.3 370.40,126.6 370.60,127.1 370.79,126.7 370.98,127.7 371.16,126.8 371.35,128.2 371.54,127.9 371.73,127.5 371.91,127.3 372.10,126.9 372.30,126.8 372.50,126.8 372.70,126.5 372.90,127.0 373.10,127.7 373.30,127.8 373.50,128.4 373.70,128.3 373.90,129.1 374.10,129.5 374.30,129.4 374.50,130.1 374.70,130.7 374.90,130.8 375.10,131.5 375.30,132.4 375.49,132.4 375.67,133.0 375.86,134.3 376.04,135.1 376.23,136.4 376.41,138.6 376.60,138.3 376.82,138.0 377.04,137.2 377.26,137.6 377.48,137.3 377.70,135.7 377.89,136.2 378.07,135.9 378.26,135.4 378.45,135.1 378.64,135.0 378.82,134.2 379.01,133.8 379.20,134.6 379.40,133.6 379.60,133.1 379.80,133.4 380.00,132.6 380.20,132.4 380.40,132.5 380.60,131.8 380.80,131.5 381.00,131.0 381.20,130.9 381.40,131.2 381.60,131.2 381.80,131.4 382.00,131.6 382.20,132.0 382.40,131.2 382.60,131.2 382.80,132.2 383.00,131.8 383.20,131.5 383.40,131.3 383.60,130.7 383.80,131.0 384.00,130.9 384.20,130.5 384.40,130.6 384.60,131.0 384.80,129.7 385.00,129.1 385.20,128.6 385.40,127.5 385.60,127.8 385.79,129.5 385.98,130.2 386.16,131.1 386.35,129.9 386.54,129.9 386.73,129.4 386.91,130.3 387.10,130.5 387.30,130.9 387.50,131.6 387.70,132.5 387.90,133.8 388.10,134.9 388.30,135.6 388.50,134.6 388.70,135.6 388.90,135.7 389.10,134.8 389.30,135.2 389.50,135.3 389.70,135.5 389.90,136.4 390.10,135.7 390.30,136.4 390.50,137.6 390.70,137.1 390.90,138.4 391.10,138.2 391.30,138.1 391.50,139.1 391.70,139.5 391.90,138.7 392.10,138.7 392.30,139.6 392.50,139.6 392.70,139.7 392.90,140.2 393.10,140.6 393.30,140.6 393.50,140.4 393.69,140.7 393.88,141.5 394.06,139.7 394.25,140.0 394.44,140.6 394.62,139.9 394.81,140.7 395.00,139.5 395.20,140.3 395.40,141.5 395.60,142.4 395.80,140.5 396.00,140.7 396.20,140.2 396.40,140.6 396.60,141.7 396.80,142.1 397.00,143.2 397.20,142.1 397.40,141.7 397.60,141.6 397.80,142.3 398.00,143.3 398.20,142.8 398.40,142.0 398.60,142.4 398.80,141.4 399.00,141.7 399.20,141.0 399.40,140.8 399.60,142.0 399.80,141.6 400.00,141.8 400.20,141.5 400.40,142.2 400.60,143.4 400.80,143.9 401.00,143.2 401.20,143.6 401.40,144.8 401.59,144.6 401.77,145.0 401.96,145.0 402.15,145.2 402.34,145.3 402.52,145.2 402.71,146.4 402.90,147.1 403.10,145.9 403.30,145.6 403.50,145.5 403.70,145.2 403.90,145.8 404.10,146.0 404.30,146.6 404.50,146.0 404.70,145.8 404.90,145.9 405.10,146.0 405.30,146.1 405.50,146.0 405.70,146.2 405.90,147.5 406.10,147.2 406.30,146.4 406.50,146.9 406.70,146.7 406.90,147.6 407.10,148.5 407.30,149.7 407.50,149.7 407.70,148.6 407.90,149.5 408.10,149.8 408.30,150.2 408.50,149.8 408.70,149.2 408.90,148.8 409.10,147.3 409.30,147.8 409.49,147.0 409.68,146.3 409.86,146.3 410.05,145.5 410.24,145.8 410.43,145.2 410.61,146.4 410.80,146.7 411.00,146.7 411.20,146.4 411.40,146.0 411.60,145.3 411.80,143.7 412.00,143.2 412.20,142.6 412.40,142.2 412.60,142.6 412.80,141.6 413.00,141.2 413.20,141.3 413.40,141.5 413.60,142.5 413.80,144.5 414.00,144.5 414.20,145.0 414.40,145.0 414.60,145.2 414.80,146.3 415.00,146.2 415.20,146.5 415.40,146.4 415.60,145.9 415.80,146.5 416.00,146.3 416.20,147.2 416.40,146.3 416.60,146.6 416.80,147.6 417.00,147.0 417.20,147.1 417.39,148.0 417.57,148.0 417.76,147.3 417.95,147.1 418.14,147.2 418.32,146.8 418.51,146.6 418.70,146.8 418.90,146.1 419.10,147.3 419.30,147.0 419.50,147.0 419.70,147.2 419.90,148.2 420.10,147.9 420.30,149.2 420.50,150.2 420.70,149.9 420.90,148.3 421.10,147.0 421.30,146.5 421.50,146.3 421.70,146.4 421.90,146.7 422.10,146.5 422.30,146.3 422.50,146.2 422.70,144.6 422.90,145.3 423.10,144.1 423.30,142.9 423.50,142.6 423.70,142.5 423.90,142.2 424.10,142.6 424.30,143.1 424.50,144.0 424.70,144.6 424.90,144.6 425.10,145.0 425.30,146.1 425.49,146.1 425.68,146.2 425.86,145.1 426.05,145.7 426.24,147.3 426.43,147.9 426.61,147.8 426.80,148.7 427.00,149.1 427.20,149.5 427.40,148.2 427.60,147.1 427.80,147.3 428.00,147.3 428.20,147.2 428.40,145.9 428.60,146.5 428.80,147.8 429.00,148.4 429.20,149.8 429.40,149.6 429.60,149.3 429.80,150.2 430.00,150.4 430.20,148.3 430.40,146.9 430.60,146.9 430.80,146.4 431.00,147.5 431.20,148.2 431.40,148.6 431.60,147.9 431.82,147.0 432.04,146.8 432.26,145.8 432.48,145.5 432.70,145.0 432.88,144.2 433.06,142.9 433.24,141.1 433.42,138.0 433.60,136.2 433.82,134.9 434.04,135.1 434.26,133.8 434.48,133.2 434.70,133.2 434.90,133.8 435.10,134.4 435.30,134.6 435.50,135.4 435.70,134.8 435.90,135.3 436.10,134.8 436.30,135.0 436.50,135.8 436.70,136.7 436.90,136.9 437.10,137.0 437.30,135.8 437.50,134.1 437.70,132.8 437.90,134.0 438.10,132.7 438.30,131.7 438.50,130.7 438.70,130.7 438.90,130.9 439.10,130.9 439.30,130.4 439.50,130.7 439.70,130.1 439.90,130.7 440.10,132.0 440.30,131.5 440.50,131.8 440.70,131.5 440.90,131.4 441.10,130.7 441.30,130.9 441.50,131.1 441.70,132.0 441.90,133.5 442.09,132.9 442.27,133.7 442.46,133.3 442.65,133.1 442.84,132.5 443.02,133.2 443.21,134.2 443.40,134.3 443.60,134.5 443.80,134.0 444.00,133.9 444.20,133.2 444.40,133.5 444.60,132.4 444.80,134.3 445.00,135.2 445.20,134.9 445.40,134.7 445.60,134.5 445.80,134.8 446.00,135.0 446.20,136.4 446.40,136.0 446.60,134.8 446.80,135.2 447.00,135.8 447.20,135.4 447.40,136.2 447.60,136.3 447.80,136.0 448.00,136.3 448.20,135.7 448.40,135.5 448.60,136.6 448.80,137.1 449.00,137.2 449.20,137.0 449.40,136.8 449.60,135.7 449.80,135.6 449.99,135.2 450.18,135.0 450.36,136.2 450.55,135.8 450.74,135.9 450.93,136.1 451.11,136.8 451.30,136.7 451.50,136.6 451.70,136.5 451.90,136.0 452.10,135.2 452.30,134.3 452.50,134.7 452.70,133.9 452.90,134.4 453.10,135.2 453.30,134.4 453.50,133.5 453.70,132.6 453.90,132.2 454.10,133.0 454.30,132.2 454.50,131.4 454.70,130.1 454.90,130.1 455.10,130.2 455.30,130.9 455.50,130.6 455.70,130.2 455.90,129.7 456.10,131.2 456.30,131.5 456.50,131.3 456.70,130.2 456.90,129.4 457.10,128.7 457.30,128.0 457.50,127.8 457.70,126.8 457.90,127.5 458.10,126.2 458.30,126.1 458.50,126.0 458.70,126.0 458.90,126.2 459.08,126.6 459.27,127.1 459.45,128.4 459.63,129.4 459.82,129.6 460.00,130.4 460.20,128.9 460.40,128.5 460.60,126.5 460.80,126.9 461.00,126.0 461.20,126.2 461.40,126.0 461.60,125.1 461.80,125.4 462.00,126.2 462.20,125.3 462.40,126.3 462.60,126.1 462.80,125.1 463.00,124.7 463.20,124.7 463.40,125.3 463.60,124.8 463.80,124.6 464.00,125.1 464.20,125.4 464.40,126.8 464.60,127.3 464.80,127.7 464.99,126.5 465.18,125.4 465.36,124.4 465.55,124.1 465.74,124.2 465.93,124.9 466.11,125.1 466.30,124.0 466.52,124.6 466.74,126.7 466.96,127.3 467.18,128.1 467.40,127.8 467.59,125.9 467.77,124.7 467.96,123.7 468.14,123.2 468.33,122.3 468.51,120.3 468.70,121.1 468.90,121.5 469.10,120.6 469.30,121.9 469.50,122.6 469.70,122.5 469.90,122.6 470.10,123.0 470.30,121.6 470.50,122.3 470.70,122.3 470.90,122.6 471.10,122.1 471.30,121.6 471.50,122.5 471.70,120.2 471.90,121.1 472.10,122.1 472.30,121.3 472.50,121.6 472.70,121.5 472.90,121.6 473.10,121.2 473.32,121.2 473.54,122.1 473.76,122.7 473.98,123.8 474.20,124.9 474.40,124.9 474.60,126.5 474.80,127.7 475.00,126.7 475.20,126.7 475.40,126.7 475.60,127.1 475.80,126.7 476.00,127.5 476.20,126.8 476.40,127.8 476.60,126.8 476.80,127.6 477.00,127.3 477.20,127.3 477.40,126.8 477.60,126.7 477.80,125.8 478.00,125.5 478.20,124.9 478.40,124.8 478.60,124.5 478.80,125.0 479.00,125.2 479.20,124.8 479.40,123.6 479.60,124.2 479.80,123.7 480.00,123.4 480.20,123.7 480.40,123.6 480.60,123.6 480.79,123.9 480.98,123.0 481.16,123.8 481.35,124.0 481.54,124.8 481.73,125.0 481.91,125.0 482.10,126.1 482.30,124.7 482.50,123.8 482.70,122.6 482.90,121.5 483.10,123.3 483.30,124.8 483.50,125.3 483.70,126.4 483.90,127.9 484.10,128.3 484.30,128.7 484.50,129.3 484.69,130.2 484.87,130.0 485.06,130.3 485.24,130.4 485.43,130.5 485.61,131.4 485.80,131.5 486.02,131.9 486.24,132.5 486.46,133.1 486.68,133.6 486.90,134.3 487.10,133.9 487.30,132.5 487.50,133.5 487.70,134.8 487.90,134.6 488.10,134.8 488.30,135.5 488.50,135.1 488.68,135.3 488.87,135.2 489.05,135.9 489.23,136.1 489.42,137.4 489.60,136.9 489.80,135.9 490.00,134.5 490.20,134.2 490.40,133.7 490.60,133.2 490.80,133.1 491.00,132.2 491.20,131.2 491.40,132.4 491.60,132.1 491.80,131.2 492.00,131.7 492.20,131.4 492.40,130.5 492.60,131.0 492.80,131.9 493.00,132.4 493.20,132.5 493.40,133.6 493.60,133.0 493.80,133.0 494.00,133.4 494.20,132.5 494.40,132.8 494.60,132.9 494.80,133.3 495.00,133.2 495.20,134.2 495.40,132.9 495.60,132.4 495.79,132.2 495.98,132.4 496.16,132.9 496.35,132.4 496.54,133.2 496.73,134.1 496.91,134.2 497.10,133.4 497.30,133.7 497.50,133.8 497.70,133.0 497.90,132.5 498.10,132.1 498.30,131.3 498.50,131.6 498.70,132.4 498.90,132.9 499.10,132.8 499.30,133.1 499.50,133.4 499.70,134.9 499.90,134.8 500.10,135.4 500.30,135.4 500.50,135.7 500.70,134.8 500.90,134.7 501.10,134.1 501.30,134.1 501.50,132.9 501.70,132.6 501.90,133.0 502.10,133.1 502.30,132.0 502.50,133.3 502.70,133.0 502.90,132.3 503.10,131.6 503.30,130.6 503.50,131.3 503.69,131.6 503.88,132.0 504.06,130.7 504.25,129.0 504.44,127.3 504.62,126.3 504.81,126.0 505.00,125.2 505.20,124.7 505.40,125.6 505.60,125.6 505.80,126.2 506.00,127.4 506.20,127.1 506.40,127.0 506.60,128.1 506.80,127.3 507.00,127.3 507.20,126.9 507.40,127.1 507.60,127.1 507.80,127.6 508.00,127.6 508.20,128.6 508.40,128.1 508.60,128.1 508.80,128.5 509.00,127.9 509.20,127.5 509.40,127.5 509.60,127.3 509.80,127.9 510.00,127.9 510.20,127.4 510.40,128.5 510.60,128.5 510.80,128.7 511.00,129.2 511.20,130.5 511.40,131.5 511.59,131.9 511.77,132.3 511.96,132.3 512.15,133.7 512.34,134.5 512.52,134.1 512.71,134.8 512.90,134.1 513.10,133.6 513.30,133.4 513.50,134.6 513.70,135.9 513.90,135.7 514.10,135.3 514.30,136.1 514.50,135.7 514.70,136.2 514.90,134.9 515.10,135.0 515.30,133.9 515.50,134.5 515.70,133.9 515.91,133.5 516.12,133.7 516.33,132.3 516.54,132.6 516.76,133.4 516.97,135.1 517.18,134.4 517.39,135.3 517.60,136.1 517.81,136.5 518.02,136.3 518.23,136.3 518.44,135.8 518.66,136.1 518.87,135.5 519.08,135.4 519.29,135.8 519.50,135.5 519.71,134.7 519.92,134.7 520.13,135.0 520.34,135.5 520.56,135.7 520.77,136.6 520.98,136.3 521.19,136.9 521.40,136.0 521.61,136.4 521.82,136.8 522.03,137.9 522.24,137.3 522.46,138.3 522.67,138.0 522.88,137.6 523.09,136.4 523.30,137.1 523.49,136.4 523.68,136.7 523.87,136.5 524.06,136.7 524.25,136.4 524.44,135.6 524.63,135.1 524.82,134.9 525.01,135.0 525.20,134.2 525.40,135.0 525.60,133.7 525.80,133.1 526.00,133.9 526.20,134.3 526.40,135.8 526.60,136.5 526.80,135.7 527.00,135.1 527.21,134.9 527.42,134.7 527.63,135.0 527.84,134.4 528.06,133.7 528.27,133.1 528.48,133.1 528.69,132.4 528.90,132.3 529.11,132.6 529.32,132.3 529.53,131.4 529.74,131.5 529.96,131.8 530.17,131.0 530.38,130.5 530.59,129.3 530.80,128.5 530.99,128.0 531.18,127.4 531.37,127.4 531.56,128.9 531.75,129.8 531.94,129.4 532.13,129.7 532.32,129.7 532.51,129.7 532.70,128.3 532.90,129.4 533.10,129.8 533.30,130.7 533.50,131.8 533.70,130.7 533.92,129.7 534.13,130.8 534.35,132.4 534.57,133.5 534.78,133.1 535.00,133.3 535.19,134.2 535.38,134.5 535.56,133.5 535.75,134.6 535.94,134.6 536.12,135.1 536.31,134.4 536.50,134.3 536.70,136.4 536.90,137.3 537.10,138.8 537.30,141.0 537.50,142.0 537.73,143.1 537.95,144.1 538.17,145.9 538.40,147.2 538.60,147.0 538.80,147.5 539.00,147.2 539.20,147.4 539.40,146.1 539.61,145.4 539.82,145.4 540.03,144.3 540.24,143.0 540.46,142.7 540.67,142.2 540.88,142.2 541.09,143.0 541.30,142.2 541.50,141.4 541.70,141.1 541.90,140.7 542.10,140.4 542.30,141.2 542.50,141.5 542.70,141.6 542.90,141.2 543.10,141.7 543.31,141.2 543.52,141.9 543.73,141.4 543.94,140.8 544.16,140.8 544.37,141.6 544.58,139.8 544.79,139.6 545.00,138.3 545.21,136.8 545.42,136.3 545.63,136.5 545.84,135.1 546.06,134.6 546.27,135.6 546.48,135.9 546.69,135.2 546.90,135.1 547.11,134.7 547.32,133.9 547.53,133.0 547.74,133.6 547.96,132.8 548.17,132.4 548.38,131.7 548.59,130.5 548.80,130.2 548.99,131.3 549.18,130.2 549.37,129.8 549.56,130.3 549.75,130.2 549.94,129.7 550.13,129.6 550.32,129.3 550.51,128.7 550.70,127.7 550.91,127.2 551.12,125.9 551.33,126.0 551.54,125.8 551.76,125.3 551.97,124.3 552.18,124.0 552.39,123.0 552.60,123.6 552.81,123.1 553.02,124.1 553.23,123.8 553.44,124.5 553.66,125.0 553.87,125.7 554.08,125.5 554.29,124.3 554.50,124.7 554.71,124.4 554.92,123.4 555.13,122.9 555.34,123.4 555.56,123.9 555.77,124.2 555.98,124.7 556.19,125.3 556.40,124.9 556.61,124.7 556.82,124.3 557.03,123.9 557.24,123.6 557.46,123.6 557.67,123.0 557.88,123.0 558.09,123.4 558.30,122.9 558.49,122.7 558.67,121.5 558.86,120.5 559.04,121.1 559.23,120.4 559.41,120.6 559.60,118.7 559.79,116.7 559.98,116.5 560.16,116.1 560.35,114.4 560.54,114.8 560.73,115.0 560.91,114.3 561.10,114.4 561.30,114.6 561.50,114.3 561.70,113.6 561.90,113.8 562.10,113.1 562.30,112.5 562.50,111.4 562.70,111.3 562.92,112.4 563.13,112.3 563.35,112.2 563.57,111.6 563.78,111.9 564.00,112.8 564.22,112.3 564.43,112.3 564.65,112.5 564.87,111.4 565.08,110.5 565.30,110.5 565.48,109.3 565.67,107.7 565.85,106.9 566.03,106.3 566.22,106.1 566.40,104.6 566.60,103.9 566.80,103.2 567.00,100.4 567.20,100.2 567.40,99.3 567.60,97.4 567.80,97.9 567.99,98.8 568.17,99.5 568.36,101.5 568.54,102.4 568.73,102.0 568.91,102.4 569.10,103.9 569.29,104.3 569.48,104.8 569.66,104.2 569.85,104.5 570.04,103.5 570.23,103.0 570.41,103.0 570.60,102.5 570.79,102.1 570.98,101.2 571.16,100.5 571.35,101.1 571.54,100.5 571.73,100.2 571.91,98.3 572.10,97.1 572.32,96.5 572.53,94.1 572.75,92.8 572.97,91.5 573.18,91.2 573.40,88.9 573.60,88.3 573.80,88.0 574.00,87.8 574.20,86.4 574.40,87.0 574.60,87.1 574.80,87.6 574.99,88.1 575.17,88.5 575.36,88.4 575.55,88.3 575.74,87.7 575.92,88.3 576.11,87.7 576.30,88.8 576.49,89.8 576.67,90.1 576.86,90.9 577.05,90.6 577.24,90.8 577.42,91.2 577.61,91.3 577.80,92.0 577.99,92.7 578.17,93.2 578.36,93.5 578.54,93.6 578.73,93.4 578.91,94.8 579.10,95.5 579.30,96.4 579.50,95.6 579.70,95.3 579.90,95.8 580.10,96.6 580.30,97.0 580.50,97.2 580.69,95.6 580.88,95.3 581.06,95.9 581.25,93.7 581.44,93.4 581.62,94.2 581.81,92.7 582.00,92.2 582.19,94.4 582.38,95.5 582.56,96.4 582.75,97.8 582.94,98.4 583.12,99.7 583.31,100.4 583.50,101.8 583.72,100.4 583.93,99.5 584.15,98.9 584.37,96.7 584.58,96.8 584.80,95.9 584.99,95.9 585.17,95.3 585.36,95.8 585.54,95.6 585.73,96.6 585.91,98.0 586.10,98.0 586.30,97.1 586.50,96.6 586.70,96.1 586.90,96.0 587.10,94.3 587.30,94.4 587.50,94.0 587.70,93.3 587.89,91.8 588.08,91.9 588.26,92.1 588.45,91.6 588.64,91.3 588.83,91.1 589.01,90.3 589.20,90.0 589.42,90.1 589.63,91.5 589.85,90.7 590.07,92.6 590.28,94.5 590.50,96.1 590.72,95.6 590.93,95.6 591.15,96.2 591.37,95.9 591.58,96.4 591.80,96.6 591.99,97.7 592.17,97.3 592.36,97.0 592.55,97.5 592.74,98.2 592.92,97.9 593.11,97.0 593.30,96.4 593.49,95.0 593.67,94.9 593.86,94.0 594.05,93.8 594.24,92.6 594.42,92.3 594.61,92.5 594.80,91.6 595.00,92.5 595.20,92.5 595.40,91.9 595.60,91.8 595.80,91.8 596.00,91.2 596.20,90.9 596.42,91.7 596.63,90.9 596.85,93.2 597.07,94.1 597.28,95.1 597.50,96.8 597.69,96.3 597.88,95.3 598.06,94.4 598.25,93.9 598.44,94.0 598.62,92.5 598.81,92.8 599.00,91.6 599.19,89.8 599.38,89.7 599.56,88.3 599.75,87.8 599.94,85.9 600.12,85.5 600.31,84.3 600.50,84.2 600.70,83.7 600.90,83.9 601.10,84.1 601.30,85.1 601.50,85.2 601.70,85.9 601.90,86.7 602.09,86.3 602.27,86.3 602.46,86.4 602.64,85.2 602.83,85.8 603.01,84.9 603.20,84.4 603.39,86.5 603.58,86.9 603.76,87.8 603.95,89.2 604.14,89.6 604.33,90.4 604.51,91.1 604.70,91.9 604.89,91.6 605.08,92.8 605.26,93.3 605.45,94.1 605.64,94.4 605.83,94.4 606.01,95.5 606.20,95.3 606.42,95.5 606.63,94.5 606.85,93.5 607.07,93.2 607.28,94.2 607.50,94.1 607.73,95.3 607.95,96.6 608.17,98.4 608.40,99.1 608.60,99.6 608.80,100.9 609.00,102.8 609.20,104.4 609.40,105.5 609.60,107.7 609.80,108.6 610.00,109.3 610.20,110.5 610.40,112.5 610.59,114.8 610.77,116.4 610.96,117.3 611.14,118.1 611.33,118.6 611.51,119.5 611.70,121.5 611.90,120.8 612.10,119.8 612.30,118.0 612.50,116.9 612.70,115.4 612.90,115.3 613.10,114.2 613.32,113.6 613.53,113.1 613.75,112.7 613.97,112.3 614.18,111.4 614.40,111.2 614.59,111.7 614.77,112.6 614.96,113.3 615.15,114.0 615.34,114.0 615.52,114.3 615.71,113.2 615.90,113.2 616.09,113.4 616.28,112.2 616.47,113.6 616.66,114.6 616.84,115.0 617.03,116.8 617.22,115.8 617.41,116.0 617.60,116.3 617.81,116.1 618.02,117.2 618.24,117.9 618.45,118.1 618.66,117.4 618.88,117.5 619.09,117.6 619.30,117.9 619.49,117.0 619.68,116.5 619.87,117.4 620.06,117.5 620.24,117.6 620.43,117.6 620.62,116.0 620.81,117.3 621.00,116.5 621.20,114.4 621.40,113.5 621.60,113.0 621.80,112.3 622.00,110.3 622.20,108.2 622.42,108.3 622.63,108.0 622.85,106.4 623.07,107.0 623.28,105.4 623.50,105.4 623.70,105.9 623.90,106.7 624.10,107.0 624.30,107.8 624.50,108.1 624.70,107.7 624.90,107.5 625.10,108.2 625.30,106.5 625.50,106.8 625.70,106.1 625.90,104.8 626.10,104.1 626.30,104.4 626.50,102.5 626.70,102.5 626.90,102.6 627.10,101.5 627.30,100.4 627.50,99.6 627.70,99.3 627.90,98.4 628.10,97.9 628.30,98.0 628.50,96.9 628.70,97.0 628.90,96.8 629.10,98.1 629.30,98.0 629.50,98.7 629.70,99.7 629.90,100.4 630.10,100.4 630.30,101.9 630.49,101.9 630.67,102.2 630.86,102.3 631.04,102.9 631.23,103.0 631.41,102.6 631.60,103.2 631.80,103.4 632.00,103.7 632.20,104.1 632.40,103.6 632.60,103.9 632.80,104.5 633.00,103.1 633.20,102.7 633.40,102.4 633.60,102.5 633.80,102.0 634.00,101.7 634.22,102.5 634.43,102.2 634.65,102.2 634.87,102.6 635.08,103.6 635.30,105.0 635.49,105.5 635.67,105.8 635.86,106.0 636.04,106.5 636.23,108.1 636.41,108.3 636.60,108.3 636.80,109.7 637.00,109.7 637.20,109.8 637.40,109.5 637.60,110.5 637.80,110.6 638.00,109.7 638.20,109.0 638.40,110.0 638.60,110.4 638.80,111.4 639.00,112.4 639.20,112.6 639.40,112.6 639.60,110.9 639.80,109.8 640.00,108.4 640.20,108.2 640.40,106.3 640.59,107.2 640.77,106.5 640.96,107.7 641.14,108.9 641.33,108.2 641.51,108.7 641.70,108.8 641.90,107.3 642.10,107.5 642.30,106.6 642.50,106.9 642.70,106.7 642.90,107.3 643.10,106.6 643.30,106.7 643.50,106.4 643.70,105.7 643.90,106.0 644.10,105.6 644.32,106.0 644.53,106.9 644.75,106.8 644.97,108.4 645.18,110.2 645.40,109.9 645.59,109.9 645.78,109.5 645.97,108.9 646.16,109.4 646.34,110.4 646.53,110.3 646.72,109.8 646.91,110.7 647.10,110.1 647.31,109.7 647.52,109.4 647.74,110.2 647.95,110.3 648.16,110.5 648.38,110.2 648.59,110.6 648.80,110.8 648.99,112.0 649.18,112.0 649.37,111.4 649.56,112.6 649.74,112.7 649.93,112.7 650.12,113.0 650.31,113.0 650.50,111.7 650.70,111.7 650.90,112.6 651.10,113.1 651.30,112.5 651.50,112.2 651.70,112.5 651.90,113.8 652.10,113.8 652.31,113.4 652.52,112.5 652.74,111.8 652.95,111.1 653.16,110.7 653.38,109.8 653.59,109.3 653.80,108.3 653.99,109.0 654.18,109.2 654.37,108.8 654.56,108.3 654.74,108.5 654.93,108.3 655.12,107.7 655.31,105.7 655.50,104.5 655.69,105.2 655.88,105.2 656.07,104.9 656.26,104.0 656.44,104.7 656.63,104.2 656.82,104.5 657.01,104.7 657.20,104.5 657.41,104.3 657.62,105.2 657.84,104.9 658.05,105.1 658.26,105.7 658.48,107.1 658.69,107.2 658.90,107.8 659.09,108.1 659.28,106.5 659.47,106.0 659.66,105.9 659.84,105.5 660.03,106.2 660.22,105.9 660.41,106.3 660.60,106.8 660.80,106.6 661.00,106.8 661.20,107.6 661.40,108.0 661.60,107.7 661.80,106.3 662.00,105.8 662.20,105.7 662.41,105.7 662.62,105.5 662.84,105.2 663.05,104.3 663.26,104.4 663.48,104.8 663.69,104.4 663.90,104.0 664.10,104.1 664.30,103.4 664.50,103.2 664.70,103.4 664.90,102.4 665.10,101.9 665.30,101.0 665.48,99.1 665.67,96.7 665.85,96.0 666.03,96.5 666.22,95.0 666.40,94.7 666.60,94.5 666.80,93.4 667.00,93.1 667.20,91.9 667.40,89.7 667.60,89.6 667.80,88.3 668.00,87.0 668.20,86.3 668.40,85.7 668.60,84.3 668.83,83.1 669.05,81.9 669.27,80.0 669.50,79.2 669.70,80.4 669.90,82.4 670.10,84.6 670.30,86.8 670.50,85.9 670.70,86.0 670.90,86.4 671.10,86.6 671.30,87.2 671.50,87.8 671.70,88.4 671.90,90.4 672.10,90.8 672.30,91.1 672.50,91.0 672.70,91.2 672.92,90.9 673.13,91.2 673.35,90.3 673.57,90.1 673.78,89.3 674.00,88.3 674.20,90.0 674.40,91.1 674.60,92.4 674.80,94.6 675.00,96.4 675.20,97.1 675.40,98.1 675.58,98.8 675.77,99.7 675.95,99.8 676.13,101.5 676.32,102.7 676.50,104.5 676.70,104.8 676.90,103.4 677.10,102.6 677.30,101.7 677.50,101.7 677.70,100.6 677.90,101.7 678.10,103.0 678.30,103.9 678.50,104.7 678.70,104.4 678.90,103.9 679.10,102.6 679.32,101.3 679.53,98.9 679.75,97.1 679.97,96.8 680.18,96.2 680.40,94.2 680.60,94.8 680.80,93.2 681.00,91.6 681.20,91.9 681.40,92.1 681.60,91.0 681.80,91.9 682.00,91.4 682.20,92.5 682.40,92.8 682.60,94.0 682.80,94.2 682.99,94.1 683.17,94.8 683.36,95.4 683.54,95.2 683.73,94.5 683.91,95.0 684.10,96.2 684.30,97.3 684.50,97.0 684.70,97.7 684.90,98.6 685.10,100.2 685.30,100.7 685.50,101.1 685.68,102.0 685.87,101.0 686.05,100.5 686.23,99.9 686.42,100.7 686.60,100.2 686.80,100.5 687.00,100.0 687.20,100.8 687.40,101.0 687.60,100.4 687.80,100.7 688.00,101.1 688.20,101.4 688.40,101.1 688.60,102.7 688.80,102.9 689.00,101.6 689.20,100.6 689.40,99.6 689.60,97.8 689.80,97.5 690.00,95.5 690.22,95.7 690.43,94.0 690.65,92.7 690.87,93.2 691.08,91.9 691.30,91.6 691.49,91.3 691.67,91.6 691.86,92.0 692.04,91.6 692.23,91.0 692.41,90.8 692.60,90.4 692.80,88.6 693.00,88.4 693.20,87.3 693.40,88.4 693.60,88.5 693.80,87.2 694.00,87.4 694.20,85.6 694.40,85.0 694.60,83.2 694.80,82.1 694.98,81.5 695.16,80.0 695.34,79.8 695.52,79.8 695.70,80.1 695.93,79.9 696.15,79.2 696.38,78.8 696.60,77.4 696.80,78.6 697.00,81.0 697.20,81.8 697.40,83.1 697.58,86.5 697.75,89.1 697.92,91.1 698.10,93.7 698.30,92.0 698.50,90.1 698.70,88.7 698.90,88.2 699.09,87.9 699.27,88.1 699.46,87.7 699.64,87.7 699.83,88.2 700.01,88.4 700.20,88.3 700.40,87.8 700.60,88.2 700.80,87.6 701.00,86.4 701.20,86.7 701.40,86.8 701.59,86.5 701.77,85.8 701.96,86.4 702.14,86.9 702.33,86.7 702.51,86.2 702.70,86.2 702.90,86.7 703.10,85.5 703.30,85.4 703.50,83.4 703.70,82.6 703.90,82.6 704.10,81.5 704.30,79.5 704.50,79.0 704.70,78.3 704.90,77.5 705.08,74.6 705.25,71.9 705.42,69.2 705.60,66.8 705.83,65.9 706.05,64.8 706.27,64.3 706.50,64.0 706.70,65.6 706.90,67.9 707.10,68.3 707.30,82.4 707.50,94.2 707.73,93.9 707.95,94.3 708.17,94.9 708.40,95.0 708.60,93.7 708.80,93.3 709.00,92.5 709.20,93.1 709.40,92.7 709.60,91.1 709.82,90.5 710.03,90.6 710.25,89.7 710.47,89.9 710.68,88.6 710.90,88.4 711.10,88.6 711.30,88.2 711.50,87.1 711.70,86.2 711.90,86.5 712.10,86.4 712.32,86.0 712.53,85.8 712.75,85.1 712.97,84.4 713.18,83.7 713.40,82.7 713.59,83.1 713.77,82.1 713.96,83.1 714.14,83.1 714.33,82.3 714.51,82.7 714.70,83.1 714.90,83.1 715.10,82.2 715.30,82.3 715.50,82.3 715.70,82.0 715.90,81.2 716.09,80.1 716.27,79.7 716.46,79.1 716.64,79.1 716.83,77.7 717.01,77.6 717.20,76.5 717.42,76.0 717.63,75.4 717.85,75.5 718.07,74.9 718.28,73.7 718.50,72.9 718.70,69.8 718.90,67.8 719.10,66.2 719.30,64.3 719.48,63.1 719.67,62.4 719.85,61.7 720.03,61.0 720.22,59.5 720.40,59.2 720.60,58.8 720.80,57.6 721.00,57.2 721.20,57.7 721.40,58.2 721.60,58.4 721.80,58.3 722.00,58.5 722.20,59.0" fill="none" stroke="#000" stroke-width="1.5" stroke-linejoin="round"/>
<polyline points="36.00,382.0 36.19,381.7 36.38,380.7 36.56,380.3 36.75,380.3 36.94,379.9 37.12,380.2 37.31,378.6 37.50,377.9 37.69,377.4 37.88,376.9 38.07,376.9 38.26,377.1 38.44,377.5 38.63,377.9 38.82,379.5 39.01,379.9 39.20,378.5 39.41,378.3 39.62,377.5 39.84,376.9 40.05,377.6 40.26,377.2 40.48,375.5 40.69,375.7 40.90,375.3 41.10,374.4 41.30,373.8 41.50,373.5 41.70,373.5 41.90,373.3 42.10,373.4 42.30,374.7 42.50,373.9 42.70,373.3 42.90,373.1 43.10,373.8 43.30,373.1 43.50,374.0 43.70,372.8 43.90,372.0 44.10,371.9 44.30,371.3 44.49,371.5 44.68,372.6 44.87,373.7 45.06,374.3 45.24,374.7 45.43,376.1 45.62,376.8 45.81,377.0 46.00,378.2 46.20,378.1 46.40,378.7 46.60,379.7 46.80,380.2 47.00,380.3 47.20,381.2 47.40,381.4 47.60,381.6 47.80,380.4 48.00,381.0 48.20,380.1 48.40,380.5 48.60,380.2 48.80,379.4 49.00,379.3 49.20,378.9 49.40,378.3 49.60,376.7 49.80,376.3 50.00,376.5 50.20,377.1 50.40,378.1 50.60,379.3 50.80,379.6 51.00,381.0 51.20,379.9 51.40,379.9 51.60,378.3 51.80,379.4 52.00,380.0 52.20,381.8 52.40,381.9 52.60,381.0 52.80,382.6 53.00,382.2 53.20,382.0 53.40,382.7 53.60,383.9 53.80,384.3 54.00,385.1 54.20,384.5 54.40,386.6 54.60,384.9 54.80,383.4 55.00,382.1 55.20,380.5 55.40,378.9 55.60,376.6 55.80,374.8 56.00,373.5 56.20,374.5 56.40,374.5 56.60,374.8 56.80,375.2 57.00,375.7 57.20,375.9 57.40,375.9 57.60,375.7 57.80,376.7 58.00,377.0 58.20,377.1 58.40,379.6 58.60,380.0 58.80,380.3 59.00,380.2 59.20,379.3 59.40,380.0 59.60,380.2 59.80,380.5 60.00,381.6 60.20,382.5 60.40,382.9 60.60,383.2 60.80,384.9 61.00,385.4 61.20,384.8 61.40,385.6 61.60,386.0 61.80,386.3 62.00,387.2 62.21,387.1 62.42,388.3 62.62,388.0 62.83,387.9 63.04,388.4 63.25,387.6 63.46,388.1 63.67,387.8 63.88,388.3 64.08,387.4 64.29,387.5 64.50,386.3 64.71,385.9 64.91,385.9 65.12,386.3 65.33,387.6 65.53,388.6 65.74,387.3 65.94,386.6 66.15,387.4 66.36,387.5 66.56,386.3 66.77,386.6 66.97,385.7 67.18,385.2 67.39,384.4 67.59,384.5 67.80,386.3 68.00,386.7 68.20,386.8 68.40,388.6 68.60,388.2 68.80,388.1 69.00,388.0 69.20,388.4 69.40,388.2 69.60,389.3 69.80,389.1 70.00,389.6 70.20,389.7 70.40,389.2 70.61,387.8 70.82,387.2 71.03,385.0 71.23,384.6 71.44,384.3 71.65,383.9 71.86,383.4 72.07,383.1 72.28,382.3 72.48,382.2 72.69,380.4 72.90,380.6 73.11,381.1 73.33,382.7 73.54,383.5 73.75,384.3 73.96,385.0 74.17,387.2 74.39,387.5 74.60,387.9 74.81,388.5 75.02,389.1 75.22,389.4 75.43,389.1 75.64,389.0 75.85,390.1 76.06,389.7 76.27,390.5 76.47,391.3 76.68,391.6 76.89,391.0 77.10,392.6 77.30,392.9 77.50,393.3 77.70,393.2 77.90,392.8 78.10,393.0 78.30,393.5 78.50,393.2 78.70,393.7 78.90,394.9 79.10,395.5 79.30,395.6 79.50,396.6 79.70,397.3 79.90,398.0 80.10,397.5 80.30,396.4 80.50,397.3 80.71,396.8 80.91,395.9 81.12,395.8 81.33,394.9 81.53,394.0 81.74,394.7 81.94,393.0 82.15,393.1 82.36,393.2 82.56,393.8 82.77,393.2 82.97,392.7 83.18,391.3 83.39,390.6 83.59,388.5 83.80,387.7 84.01,388.4 84.22,389.0 84.42,389.4 84.63,390.9 84.84,390.4 85.05,391.2 85.26,391.6 85.47,392.3 85.67,393.1 85.88,395.0 86.09,394.8 86.30,396.3 86.50,397.5 86.71,397.5 86.91,397.3 87.12,396.8 87.32,396.6 87.53,398.5 87.73,397.3 87.94,398.2 88.14,398.2 88.35,400.0 88.55,400.5 88.76,399.9 88.96,400.0 89.17,400.6 89.37,401.2 89.58,401.0 89.78,401.3 89.99,401.5 90.19,402.4 90.40,403.1 90.60,403.7 90.79,402.9 90.99,403.0 91.18,402.2 91.38,401.2 91.57,400.6 91.76,400.1 91.96,399.6 92.15,398.0 92.35,398.8 92.54,398.9 92.74,399.4 92.93,398.6 93.12,398.7 93.32,398.3 93.51,397.7 93.71,398.4 93.90,397.3 94.10,397.6 94.30,396.2 94.50,396.7 94.70,396.6 94.90,395.9 95.10,395.6 95.30,394.3 95.50,394.0 95.70,394.5 95.90,393.1 96.10,394.4 96.30,395.5 96.50,395.2 96.70,394.5 96.90,393.9 97.10,393.6 97.30,393.6 97.50,396.0 97.70,395.8 97.90,397.0 98.10,398.5 98.30,398.2 98.50,398.6 98.70,399.6 98.90,399.6 99.10,400.9 99.30,402.7 99.50,402.8 99.70,402.5 99.90,403.2 100.10,403.6 100.30,403.4 100.50,403.6 100.70,404.1 100.91,405.5 101.12,407.3 101.33,407.9 101.53,408.0 101.74,408.1 101.95,410.7 102.16,411.5 102.37,412.4 102.58,415.3 102.78,416.9 102.99,419.3 103.20,419.9 103.41,419.3 103.62,419.1 103.83,419.7 104.03,420.1 104.24,420.6 104.45,422.2 104.66,423.1 104.87,422.2 105.08,422.5 105.28,423.0 105.49,422.5 105.70,424.2 105.91,424.5 106.11,425.1 106.32,424.3 106.53,423.2 106.73,423.5 106.94,423.2 107.14,422.6 107.35,422.5 107.56,422.6 107.76,422.6 107.97,422.5 108.17,422.8 108.38,424.7 108.59,425.2 108.79,424.4 109.00,425.5 109.20,424.2 109.40,422.3 109.60,420.7 109.80,418.8 110.00,419.3 110.21,418.7 110.42,417.9 110.62,417.9 110.83,418.1 111.04,417.5 111.25,417.6 111.46,418.0 111.67,418.8 111.88,418.4 112.08,419.1 112.29,419.4 112.50,420.0 112.71,419.8 112.92,419.3 113.12,420.3 113.33,420.9 113.54,420.6 113.75,420.3 113.96,421.1 114.17,422.7 114.38,423.0 114.58,424.7 114.79,424.7 115.00,424.7 115.20,424.8 115.40,425.3 115.60,424.0 115.80,424.0 116.00,424.8 116.20,423.6 116.40,423.8 116.60,424.4 116.80,425.5 117.00,426.4 117.20,426.1 117.40,427.3 117.60,426.1 117.79,423.8 117.98,423.6 118.17,422.8 118.36,420.7 118.54,420.3 118.73,419.7 118.92,418.9 119.11,417.2 119.30,415.1 119.51,413.8 119.72,413.8 119.92,413.7 120.13,413.4 120.34,413.1 120.55,413.9 120.76,413.1 120.97,412.7 121.17,414.3 121.38,413.7 121.59,413.3 121.80,414.1 121.99,412.4 122.18,413.3 122.37,412.1 122.56,411.2 122.74,410.2 122.93,409.4 123.12,408.9 123.31,409.5 123.50,409.3 123.69,409.4 123.88,408.9 124.07,407.0 124.26,406.0 124.44,404.6 124.63,403.4 124.82,402.6 125.01,401.9 125.20,401.3 125.40,398.9 125.60,398.0 125.80,397.0 126.00,397.5 126.20,396.4 126.40,395.4 126.60,394.5 126.80,394.1 126.99,393.9 127.18,394.5 127.37,395.2 127.56,395.9 127.74,396.4 127.93,396.8 128.12,397.6 128.31,397.5 128.50,399.4 128.71,400.2 128.92,399.8 129.12,400.5 129.33,402.2 129.54,402.9 129.75,403.6 129.96,402.9 130.17,405.0 130.38,405.9 130.58,405.4 130.79,406.2 131.00,408.2 131.21,409.6 131.43,409.7 131.64,410.6 131.85,412.0 132.06,414.6 132.27,415.8 132.49,417.2 132.70,417.9 132.90,417.9 133.10,417.2 133.30,416.4 133.50,415.7 133.70,415.6 133.90,416.8 134.10,417.0 134.30,418.0 134.50,418.5 134.70,418.6 134.90,418.2 135.10,419.7 135.30,420.3 135.50,420.4 135.70,421.3 135.90,421.3 136.10,420.4 136.30,419.6 136.50,419.1 136.70,419.7 136.90,417.9 137.10,416.5 137.30,416.2 137.50,416.4 137.70,416.2 137.90,417.1 138.10,417.7 138.30,417.8 138.50,418.0 138.70,419.5 138.90,420.8 139.10,421.9 139.30,421.3 139.50,422.0 139.70,421.0 139.90,419.7 140.10,421.1 140.30,421.8 140.51,421.7 140.72,422.0 140.93,422.5 141.13,421.9 141.34,421.3 141.55,421.0 141.76,420.9 141.97,420.3 142.18,418.7 142.38,419.9 142.59,418.7 142.80,417.7 143.01,417.5 143.23,416.8 143.44,416.6 143.65,417.6 143.86,417.7 144.07,416.5 144.29,415.9 144.50,415.1 144.71,415.4 144.93,414.2 145.14,413.1 145.35,411.7 145.56,411.9 145.77,412.0 145.99,412.3 146.20,412.6 146.39,411.9 146.58,411.9 146.77,411.4 146.96,412.7 147.14,413.5 147.33,412.7 147.52,413.4 147.71,413.8 147.90,414.1 148.11,413.9 148.32,412.7 148.53,411.8 148.73,410.6 148.94,409.6 149.15,408.3 149.36,408.6 149.57,408.4 149.78,407.5 149.98,405.7 150.19,406.8 150.40,406.0 150.61,404.6 150.82,403.5 151.04,403.1 151.25,401.1 151.46,397.8 151.68,396.2 151.89,394.8 152.10,393.0 152.31,393.9 152.52,393.3 152.72,393.4 152.93,392.6 153.14,392.9 153.35,392.2 153.56,392.6 153.77,392.5 153.97,392.3 154.18,392.3 154.39,390.9 154.60,390.5 154.81,390.5 155.02,390.0 155.22,390.6 155.43,390.9 155.64,390.0 155.85,390.5 156.06,390.0 156.27,390.0 156.47,390.4 156.68,389.1 156.89,388.2 157.10,387.8 157.30,388.5 157.50,388.1 157.70,389.6 157.90,390.6 158.10,391.5 158.30,392.6 158.50,393.8 158.70,394.0 158.90,395.0 159.10,395.5 159.30,395.9 159.50,396.2 159.70,398.0 159.90,395.9 160.10,395.2 160.30,395.6 160.50,395.1 160.70,394.5 160.90,395.0 161.10,394.0 161.30,393.6 161.51,395.1 161.73,395.9 161.94,396.7 162.15,398.0 162.36,399.8 162.57,400.3 162.79,401.8 163.00,402.8 163.20,402.9 163.40,402.3 163.60,403.9 163.80,404.6 164.00,404.9 164.20,404.9 164.40,406.2 164.60,405.8 164.80,405.3 165.00,405.0 165.20,405.3 165.40,405.9 165.60,404.8 165.81,404.8 166.02,404.6 166.22,405.0 166.43,404.3 166.64,404.8 166.85,405.6 167.06,404.4 167.27,403.5 167.47,403.6 167.68,403.7 167.89,402.9 168.10,402.9 168.31,401.7 168.52,402.4 168.72,402.7 168.93,403.3 169.14,403.6 169.35,404.0 169.56,403.6 169.77,404.5 169.97,402.9 170.18,403.3 170.39,402.9 170.60,404.5 170.79,402.8 170.98,402.2 171.17,401.5 171.36,401.3 171.54,400.5 171.73,399.0 171.92,398.3 172.11,398.5 172.30,398.3 172.51,398.0 172.72,397.5 172.93,397.1 173.13,397.7 173.34,398.2 173.55,398.5 173.76,398.7 173.97,399.5 174.18,401.0 174.38,402.1 174.59,402.1 174.80,403.0 175.01,402.9 175.23,403.9 175.44,404.7 175.65,405.3 175.86,406.7 176.07,407.1 176.29,407.4 176.50,408.0 176.71,405.0 176.93,402.7 177.14,400.5 177.35,399.1 177.56,397.2 177.77,394.4 177.99,392.2 178.20,390.4 178.40,386.7 178.60,383.1 178.80,378.8 179.00,375.7 179.18,372.0 179.36,369.0 179.54,365.8 179.72,362.9 179.90,361.1 180.13,359.0 180.37,357.0 180.60,353.5 180.80,351.2 181.00,349.6 181.20,347.6 181.40,346.3 181.60,344.2 181.80,342.7 182.00,340.9 182.20,338.6 182.40,335.4 182.60,333.0 182.80,329.5 183.00,325.9 183.20,323.7 183.40,319.7 183.60,317.1 183.80,316.3 184.00,314.3 184.20,312.5 184.40,310.5 184.60,308.4 184.80,307.6 185.03,295.9 185.27,285.3 185.50,273.5 185.73,271.1 185.97,269.1 186.20,267.5 186.40,272.1 186.60,274.3 186.80,277.3 187.03,287.4 187.27,299.2 187.50,310.4 187.73,306.0 187.97,301.4 188.20,296.4 188.40,299.4 188.60,302.3 188.80,294.3 189.00,285.3 189.20,284.0 189.40,281.8 189.60,281.3 189.80,292.2 190.00,302.6 190.20,294.5 190.40,286.0 190.70,272.3 190.95,266.8 191.20,260.3 191.40,268.3 191.60,278.2 191.80,287.0 192.05,293.3 192.30,298.8 192.53,299.6 192.77,299.9 193.00,300.8 193.23,305.1 193.47,308.9 193.70,313.1 193.88,315.2 194.05,316.7 194.22,317.2 194.40,319.4 194.70,327.6 194.90,331.6 195.10,335.1 195.30,338.8 195.50,344.8 195.70,350.8 195.88,348.8 196.06,347.0 196.24,342.3 196.42,339.8 196.60,335.6 196.80,334.4 197.00,334.8 197.20,335.3 197.40,334.4 197.60,333.2 197.80,332.1 198.00,332.1 198.20,332.8 198.39,335.5 198.57,337.0 198.76,337.4 198.95,337.9 199.14,339.3 199.32,341.1 199.51,340.9 199.70,342.6 199.89,343.9 200.07,346.2 200.26,346.8 200.44,349.3 200.63,351.9 200.81,354.4 201.00,356.9 201.22,354.8 201.44,352.7 201.66,349.7 201.88,347.7 202.10,345.2 202.30,347.0 202.50,348.8 202.70,350.0 202.90,352.3 203.10,352.6 203.30,353.5 203.50,356.0 203.70,357.1 203.90,358.8 204.10,358.3 204.30,360.8 204.50,361.6 204.70,362.6 204.90,364.7 205.10,366.2 205.30,366.3 205.49,368.4 205.68,368.7 205.86,369.5 206.05,370.2 206.24,371.0 206.43,371.9 206.61,372.9 206.80,373.7 207.00,374.9 207.20,374.2 207.40,373.8 207.60,372.4 207.80,372.8 208.00,372.2 208.20,371.2 208.40,369.8 208.60,369.6 208.80,367.6 209.00,366.6 209.20,365.8 209.40,365.6 209.60,365.1 209.80,363.5 210.00,363.5 210.20,362.8 210.40,362.1 210.60,361.9 210.80,361.3 211.00,360.6 211.20,360.0 211.40,360.2 211.60,359.8 211.82,361.7 212.04,363.1 212.26,365.7 212.48,367.5 212.70,368.7 212.89,368.4 213.07,366.4 213.26,365.0 213.44,364.6 213.63,363.4 213.81,362.2 214.00,361.0 214.19,361.0 214.38,361.4 214.56,361.7 214.75,361.1 214.94,360.7 215.12,359.3 215.31,359.1 215.50,359.6 215.70,360.6 215.90,362.4 216.10,363.0 216.30,364.1 216.50,365.5 216.70,365.4 216.90,367.2 217.10,366.9 217.29,367.6 217.48,367.2 217.67,368.1 217.86,368.4 218.05,370.2 218.24,369.7 218.43,371.2 218.62,372.5 218.81,373.8 219.00,375.4 219.20,374.6 219.40,372.5 219.60,371.6 219.80,369.7 220.00,367.9 220.20,366.5 220.40,364.9 220.60,363.3 220.80,362.8 221.00,361.6 221.21,361.4 221.42,362.1 221.63,363.0 221.84,365.8 222.05,367.0 222.26,367.7 222.47,369.0 222.68,368.5 222.89,370.8 223.10,371.6 223.29,371.6 223.49,372.8 223.68,372.9 223.87,372.8 224.06,374.2 224.26,376.2 224.45,376.4 224.64,376.8 224.84,377.3 225.03,378.1 225.22,378.3 225.41,378.9 225.61,378.9 225.80,379.5 226.01,379.5 226.22,377.8 226.43,377.8 226.64,378.4 226.85,377.1 227.06,376.2 227.27,375.6 227.48,374.9 227.69,373.6 227.90,373.6 228.12,371.2 228.34,369.0 228.56,366.5 228.78,363.0 229.00,360.0 229.20,357.2 229.40,356.8 229.60,354.0 229.80,352.2 230.00,350.8 230.21,349.1 230.43,347.8 230.64,346.7 230.85,346.3 231.06,343.9 231.27,342.7 231.49,341.6 231.70,340.5 231.90,341.1 232.10,342.9 232.30,344.3 232.50,344.8 232.70,345.3 232.90,348.0 233.10,348.0 233.30,347.4 233.50,348.4 233.70,348.3 233.90,349.0 234.10,350.0 234.30,350.1 234.50,349.8 234.69,352.9 234.88,353.7 235.07,354.6 235.26,356.4 235.45,358.5 235.64,360.2 235.83,361.3 236.02,363.7 236.21,364.6 236.40,365.8 236.60,365.4 236.80,365.1 237.00,364.4 237.20,363.8 237.40,362.9 237.60,362.2 237.80,360.4 238.00,358.8 238.20,359.7 238.40,360.8 238.60,361.0 238.80,360.9 239.00,361.4 239.20,362.6 239.40,363.0 239.60,363.3 239.80,363.7 240.00,364.1 240.20,364.6 240.40,364.4 240.60,364.6 240.80,364.6 241.00,364.2 241.20,364.5 241.40,364.9 241.60,363.9 241.80,364.4 242.00,364.8 242.20,365.0 242.40,364.5 242.60,364.5 242.80,365.5 243.00,365.3 243.20,366.4 243.40,366.5 243.60,367.1 243.80,365.4 244.00,366.3 244.20,367.0 244.40,366.3 244.60,367.6 244.80,367.7 244.99,366.3 245.18,366.7 245.36,367.0 245.55,366.9 245.74,366.5 245.93,366.3 246.11,364.0 246.30,363.0 246.50,365.3 246.70,366.9 246.90,368.1 247.10,369.1 247.30,370.1 247.50,370.9 247.70,372.2 247.90,371.7 248.10,373.2 248.30,373.8 248.50,372.4 248.70,373.3 248.90,374.2 249.10,374.9 249.30,376.0 249.50,377.2 249.70,378.1 249.90,377.3 250.10,376.5 250.30,376.8 250.50,378.2 250.70,377.6 250.90,378.1 251.10,378.5 251.30,379.3 251.50,379.0 251.70,380.3 251.90,380.9 252.10,382.3 252.30,383.0 252.50,383.6 252.70,384.8 252.89,384.7 253.07,383.9 253.26,382.3 253.45,381.5 253.64,381.1 253.82,380.5 254.01,380.4 254.20,379.8 254.40,378.7 254.60,379.4 254.80,379.0 255.00,378.6 255.20,377.8 255.40,376.2 255.60,374.2 255.80,374.2 256.00,374.4 256.20,375.0 256.40,373.7 256.60,373.1 256.80,373.0 257.00,373.8 257.20,373.6 257.40,373.4 257.60,372.8 257.80,373.3 258.00,374.6 258.20,374.2 258.39,372.5 258.58,372.1 258.77,370.0 258.96,367.1 259.15,365.1 259.34,364.5 259.53,363.1 259.72,361.1 259.91,359.3 260.10,358.8 260.32,357.7 260.53,358.6 260.75,358.1 260.97,358.4 261.18,357.4 261.40,356.7 261.59,359.0 261.77,359.3 261.96,359.1 262.15,360.0 262.34,360.0 262.52,359.9 262.71,360.0 262.90,360.3 263.10,361.4 263.30,360.2 263.50,360.6 263.70,359.5 263.90,360.1 264.10,359.8 264.30,360.4 264.50,360.2 264.69,362.1 264.87,363.7 265.06,365.1 265.24,366.6 265.43,367.3 265.61,368.1 265.80,368.7 266.00,368.5 266.20,368.2 266.40,367.4 266.60,366.0 266.80,365.4 267.00,365.3 267.20,365.2 267.40,364.1 267.58,361.7 267.76,357.9 267.94,354.7 268.12,351.1 268.30,348.5 268.50,333.9 268.70,332.3 268.90,331.9 269.10,331.4 269.30,329.0 269.50,328.5 269.75,335.8 270.00,343.0 270.23,340.7 270.45,339.6 270.67,337.9 270.90,334.9 271.08,332.6 271.26,331.3 271.44,331.1 271.62,332.7 271.80,330.9 272.03,328.0 272.27,324.9 272.50,321.8 272.70,320.2 272.90,318.9 273.10,316.8 273.30,315.9 273.53,320.3 273.77,324.8 274.00,329.4 274.23,324.3 274.47,321.1 274.70,316.0 274.93,321.4 275.17,326.5 275.40,331.2 275.57,327.6 275.75,322.9 275.93,319.9 276.10,316.3 276.30,316.8 276.50,317.9 276.70,319.1 276.90,320.0 277.10,319.7 277.33,319.4 277.55,318.9 277.77,319.5 278.00,320.1 278.20,323.1 278.40,325.5 278.60,327.9 278.80,329.7 279.02,329.6 279.25,329.3 279.48,329.2 279.70,329.0 279.90,330.2 280.10,331.5 280.30,329.5 280.50,329.8 280.70,328.7 280.88,328.9 281.06,330.1 281.24,331.2 281.42,334.6 281.60,335.6 281.82,336.1 282.04,336.2 282.26,337.9 282.48,338.6 282.70,339.7 282.90,337.4 283.10,337.0 283.30,335.9 283.50,335.3 283.70,333.3 283.88,334.9 284.06,336.2 284.24,337.0 284.42,339.1 284.60,339.4 284.80,337.7 285.00,335.6 285.20,334.5 285.40,332.2 285.60,331.0 285.82,332.5 286.04,334.3 286.26,336.1 286.48,339.5 286.70,340.7 286.89,342.3 287.07,342.6 287.26,345.2 287.44,345.7 287.63,346.7 287.81,346.0 288.00,347.4 288.23,347.4 288.45,346.9 288.67,347.0 288.90,348.3 289.10,345.9 289.30,344.2 289.50,343.1 289.70,341.9 289.90,339.2 290.10,336.2 290.30,338.0 290.50,339.4 290.70,340.9 290.90,342.5 291.10,343.4 291.30,344.8 291.50,343.0 291.70,341.6 291.90,340.5 292.10,338.9 292.30,337.6 292.50,337.7 292.70,336.3 292.90,335.3 293.10,333.9 293.30,331.4 293.50,330.4 293.70,327.6 293.90,326.6 294.10,325.1 294.30,325.1 294.50,326.3 294.70,326.6 294.90,328.5 295.10,327.7 295.30,329.3 295.50,330.3 295.70,330.9 295.90,330.4 296.10,329.9 296.30,329.0 296.50,330.0 296.70,331.0 296.90,332.7 297.10,333.9 297.30,335.4 297.50,335.2 297.70,336.4 297.90,335.4 298.10,334.8 298.30,331.5 298.50,331.1 298.70,328.5 298.90,327.4 299.08,327.5 299.26,328.9 299.44,329.0 299.62,328.7 299.80,327.9 300.02,327.8 300.25,327.5 300.48,328.1 300.70,328.3 300.90,328.8 301.10,327.6 301.30,327.7 301.50,327.1 301.70,326.0 301.90,325.7 302.10,323.9 302.30,323.9 302.50,325.0 302.70,325.7 302.90,326.9 303.10,328.4 303.30,330.0 303.50,330.9 303.70,331.4 303.90,332.7 304.09,331.2 304.28,332.3 304.47,331.9 304.66,332.0 304.85,332.9 305.04,332.0 305.23,331.5 305.42,331.5 305.61,330.7 305.80,331.3 305.99,329.4 306.17,328.5 306.36,328.2 306.54,327.7 306.73,326.7 306.91,327.2 307.10,327.4 307.32,326.4 307.54,326.0 307.76,324.1 307.98,324.0 308.20,323.2 308.39,324.6 308.57,325.8 308.76,326.8 308.95,327.5 309.14,327.3 309.32,327.1 309.51,327.3 309.70,329.1 309.90,329.8 310.10,329.8 310.30,329.9 310.50,331.0 310.70,331.4 310.90,333.0 311.10,333.0 311.30,332.6 311.50,331.4 311.70,331.2 311.90,331.9 312.10,331.2 312.30,332.1 312.50,332.8 312.70,332.2 312.90,332.8 313.10,332.5 313.30,333.4 313.50,333.7 313.70,334.9 313.90,334.8 314.10,335.4 314.30,336.4 314.50,336.7 314.70,336.9 314.90,337.0 315.10,338.3 315.30,338.9 315.50,339.9 315.70,340.8 315.90,341.4 316.10,341.9 316.30,340.8 316.50,340.3 316.70,340.2 316.90,338.7 317.10,337.6 317.30,337.8 317.50,338.5 317.70,338.3 317.90,337.7 318.10,338.1 318.30,337.8 318.50,337.7 318.70,337.2 318.90,336.2 319.10,335.7 319.30,335.6 319.50,335.1 319.70,332.8 319.88,336.4 320.07,338.4 320.25,340.1 320.43,341.8 320.62,344.8 320.80,346.0 321.00,343.3 321.20,341.8 321.40,340.5 321.60,339.7 321.80,337.7 322.00,335.2 322.20,332.7 322.40,331.3 322.60,333.7 322.80,336.2 323.00,337.9 323.20,339.6 323.40,341.6 323.60,344.2 323.80,346.8 324.00,350.2 324.19,349.8 324.38,348.9 324.56,348.8 324.75,346.8 324.94,345.4 325.12,345.1 325.31,344.9 325.50,344.0 325.70,343.2 325.90,342.6 326.10,343.3 326.30,344.0 326.50,343.1 326.70,343.3 326.90,343.9 327.10,345.1 327.32,347.5 327.54,348.8 327.76,349.7 327.98,351.2 328.20,352.5 328.39,351.2 328.58,350.9 328.77,350.1 328.96,347.5 329.15,346.9 329.35,346.6 329.54,344.9 329.73,345.3 329.92,344.8 330.11,343.9 330.30,342.6 330.50,344.5 330.70,346.3 330.90,346.7 331.10,346.1 331.30,348.3 331.50,349.3 331.70,349.0 331.90,351.1 332.09,348.5 332.27,347.4 332.46,345.7 332.65,344.2 332.84,343.8 333.02,344.9 333.21,343.4 333.40,343.5 333.60,343.8 333.80,344.1 334.00,345.2 334.20,344.8 334.40,347.1 334.60,347.4 334.80,347.4 335.00,348.3 335.20,348.9 335.40,349.1 335.60,350.2 335.80,352.0 336.00,352.3 336.20,352.4 336.40,353.7 336.60,354.9 336.80,353.8 337.00,353.2 337.20,352.1 337.40,350.7 337.60,351.0 337.80,350.9 338.00,351.5 338.20,352.1 338.40,350.6 338.60,350.4 338.80,351.0 339.00,353.0 339.20,353.5 339.40,354.7 339.60,354.6 339.80,356.1 339.99,357.4 340.18,358.5 340.36,359.3 340.55,359.1 340.74,360.5 340.93,360.1 341.11,359.6 341.30,359.4 341.50,360.3 341.70,361.9 341.90,362.5 342.10,363.5 342.30,364.1 342.50,365.2 342.70,365.8 342.90,365.6 343.10,366.8 343.30,366.5 343.50,366.2 343.70,365.6 343.90,364.2 344.10,363.2 344.30,362.9 344.50,362.9 344.70,362.3 344.90,361.0 345.10,360.0 345.30,358.5 345.50,357.6 345.70,356.9 345.90,355.9 346.10,355.6 346.30,356.5 346.50,355.4 346.70,353.7 346.90,352.7 347.10,353.1 347.30,351.8 347.50,352.1 347.70,352.3 347.90,351.4 348.10,349.8 348.32,348.6 348.54,346.5 348.76,345.1 348.98,344.9 349.20,343.4 349.40,339.6 349.60,337.2 349.80,334.2 350.00,333.2 350.20,335.6 350.40,337.2 350.60,339.5 350.80,341.5 351.00,341.1 351.20,340.6 351.40,341.1 351.60,341.1 351.80,341.4 352.00,342.3 352.20,343.5 352.40,343.3 352.60,343.9 352.80,343.5 353.00,342.5 353.20,343.9 353.40,345.4 353.60,345.3 353.80,344.9 354.00,344.2 354.20,344.6 354.40,345.8 354.60,346.6 354.80,346.0 355.00,346.7 355.20,346.1 355.40,346.5 355.60,347.3 355.79,348.3 355.98,347.8 356.16,348.1 356.35,349.0 356.54,350.2 356.73,350.7 356.91,351.8 357.10,353.5 357.32,350.8 357.54,349.5 357.76,349.7 357.98,348.2 358.20,346.3 358.39,347.8 358.57,349.1 358.76,349.7 358.94,348.6 359.13,349.4 359.31,350.3 359.50,351.5 359.70,352.6 359.90,351.4 360.10,350.6 360.30,350.9 360.50,351.7 360.70,351.3 360.90,350.8 361.10,351.3 361.31,350.8 361.52,350.9 361.73,350.1 361.94,349.7 362.16,347.9 362.37,347.7 362.58,347.5 362.79,346.7 363.00,345.2 363.20,347.5 363.40,349.2 363.60,350.0 363.80,351.6 364.00,353.7 364.20,354.2 364.40,355.1 364.60,355.5 364.80,355.1 365.00,354.8 365.20,355.7 365.40,356.4 365.60,356.6 365.80,355.8 366.00,355.0 366.20,354.5 366.40,353.1 366.60,351.8 366.80,351.1 367.00,351.4 367.20,351.6 367.40,351.3 367.59,351.3 367.77,351.8 367.96,350.4 368.14,350.4 368.33,349.3 368.51,349.7 368.70,347.7 368.90,349.2 369.10,349.2 369.30,350.7 369.50,352.1 369.70,353.3 369.90,355.3 370.10,355.8 370.30,357.1 370.49,357.0 370.68,356.0 370.86,355.8 371.05,355.0 371.24,354.3 371.43,353.0 371.61,351.4 371.80,350.5 372.02,350.5 372.24,349.7 372.46,348.4 372.68,346.9 372.90,346.7 373.10,347.1 373.30,346.9 373.50,347.1 373.70,347.0 373.90,347.6 374.10,346.6 374.30,346.6 374.50,346.7 374.68,345.6 374.87,343.6 375.05,341.8 375.23,341.0 375.42,340.7 375.60,338.6 375.80,335.5 376.00,333.4 376.20,330.2 376.40,327.7 376.60,325.3 376.80,322.1 377.00,320.3 377.20,317.1 377.40,318.6 377.60,321.1 377.80,323.6 378.00,324.7 378.20,326.5 378.38,327.0 378.57,328.0 378.75,328.1 378.93,329.4 379.12,331.3 379.30,331.9 379.49,332.4 379.68,333.1 379.86,333.0 380.05,333.9 380.24,334.6 380.43,335.0 380.61,337.0 380.80,337.4 381.02,338.4 381.24,337.9 381.46,339.9 381.68,341.3 381.90,343.5 382.09,342.4 382.27,341.8 382.46,341.2 382.64,341.8 382.83,341.6 383.01,339.5 383.20,340.4 383.40,341.5 383.60,341.3 383.80,340.8 384.00,340.7 384.20,339.9 384.40,340.3 384.60,341.5 384.80,342.0 385.00,343.7 385.20,346.3 385.40,348.9 385.60,351.3 385.80,350.7 386.00,350.6 386.20,349.7 386.40,349.2 386.60,348.5 386.80,346.9 387.00,346.1 387.20,344.6 387.39,343.3 387.57,342.6 387.76,342.0 387.95,341.5 388.14,340.6 388.32,338.5 388.51,337.6 388.70,337.0 388.90,336.8 389.10,336.3 389.30,335.5 389.50,334.7 389.70,334.7 389.90,334.5 390.10,333.6 390.30,332.9 390.50,333.5 390.70,333.8 390.90,334.4 391.10,334.8 391.30,336.0 391.50,336.0 391.70,336.5 391.91,336.1 392.12,335.6 392.34,334.1 392.55,332.8 392.76,331.9 392.97,331.5 393.19,331.3 393.40,330.4 393.59,330.5 393.78,329.7 393.97,327.4 394.16,326.1 394.34,325.7 394.53,325.2 394.72,323.7 394.91,322.3 395.10,321.1 395.29,322.9 395.48,323.8 395.66,325.8 395.85,328.3 396.04,330.1 396.23,332.3 396.41,333.3 396.60,335.5 396.79,333.7 396.98,332.5 397.16,331.3 397.35,329.0 397.54,326.8 397.73,326.1 397.91,325.1 398.10,323.8 398.30,323.7 398.50,324.8 398.70,325.7 398.90,325.5 399.10,325.2 399.30,326.2 399.50,326.8 399.70,326.7 399.91,326.2 400.12,325.5 400.34,325.6 400.55,325.5 400.76,326.0 400.97,325.9 401.19,325.7 401.40,326.3 401.59,324.8 401.77,322.7 401.96,321.5 402.15,319.7 402.34,319.1 402.52,319.1 402.71,317.2 402.90,315.8 403.09,315.3 403.27,316.9 403.46,318.4 403.65,319.1 403.84,320.2 404.02,321.1 404.21,320.7 404.40,320.7 404.59,320.8 404.78,321.9 404.97,321.2 405.16,320.9 405.34,321.8 405.53,321.9 405.72,321.5 405.91,321.7 406.10,323.0 406.30,320.7 406.50,317.1 406.70,314.4 406.90,309.8 407.10,306.2 407.29,306.6 407.48,306.6 407.66,306.7 407.85,308.8 408.04,307.8 408.23,306.9 408.41,307.4 408.60,308.3 408.80,303.6 409.00,299.4 409.20,295.7 409.40,292.2 409.60,287.6 409.80,284.6 409.99,287.0 410.18,288.9 410.36,289.9 410.55,293.1 410.74,295.1 410.93,296.2 411.11,298.9 411.30,301.7 411.49,301.6 411.68,302.8 411.86,303.2 412.05,304.0 412.24,305.0 412.43,305.0 412.61,306.1 412.80,307.7 413.01,305.9 413.23,304.6 413.44,302.8 413.65,301.1 413.86,300.2 414.07,298.1 414.29,296.3 414.50,296.3 414.70,298.7 414.90,301.1 415.10,303.7 415.30,306.0 415.50,308.5 415.69,307.4 415.88,304.3 416.06,300.9 416.25,299.3 416.44,297.1 416.62,295.0 416.81,293.1 417.00,291.1 417.21,291.4 417.43,292.3 417.64,293.2 417.85,293.4 418.06,294.6 418.27,296.6 418.49,297.7 418.70,299.7 418.90,296.8 419.10,294.5 419.30,291.8 419.50,288.5 419.70,285.3 419.89,285.3 420.07,287.0 420.26,288.0 420.45,289.4 420.64,289.7 420.82,290.0 421.01,290.7 421.20,292.9 421.41,292.4 421.62,292.1 421.84,290.2 422.05,288.1 422.26,285.1 422.47,282.1 422.69,280.2 422.90,278.5 423.09,280.3 423.28,281.4 423.47,283.3 423.66,285.5 423.84,287.7 424.03,290.8 424.22,291.6 424.41,293.6 424.60,295.0 424.79,292.8 424.98,291.3 425.16,288.6 425.35,288.1 425.54,286.6 425.73,285.8 425.91,284.1 426.10,283.4 426.31,282.2 426.52,281.1 426.73,282.2 426.94,282.0 427.15,282.3 427.36,281.5 427.57,280.5 427.78,279.8 427.99,280.0 428.20,279.7 428.40,280.9 428.60,280.7 428.80,282.6 429.00,284.6 429.20,287.2 429.40,288.3 429.60,288.4 429.81,288.1 430.03,289.2 430.24,289.7 430.45,290.3 430.66,290.5 430.88,290.3 431.09,290.2 431.30,290.4 431.52,292.4 431.74,293.1 431.96,295.9 432.18,298.5 432.40,299.4 432.60,301.0 432.80,304.7 433.00,307.6 433.20,309.7 433.40,311.5 433.58,315.3 433.77,318.5 433.95,321.3 434.13,325.1 434.32,326.9 434.50,329.2 434.70,331.2 434.90,334.1 435.10,335.3 435.30,338.1 435.50,340.4 435.68,339.6 435.87,338.5 436.05,336.3 436.23,336.5 436.42,337.0 436.60,337.1 436.81,336.3 437.02,336.2 437.23,336.5 437.44,335.9 437.65,334.8 437.86,335.0 438.07,334.9 438.28,334.4 438.49,335.0 438.70,334.1 438.89,334.7 439.08,335.0 439.27,336.2 439.46,336.5 439.65,336.0 439.85,335.3 440.04,335.9 440.23,335.5 440.42,336.9 440.61,337.7 440.80,337.9 441.01,337.1 441.22,336.4 441.43,336.8 441.64,336.4 441.85,334.8 442.06,334.0 442.27,333.9 442.48,332.9 442.69,333.6 442.90,332.2 443.09,332.6 443.28,332.2 443.47,333.1 443.66,333.2 443.85,332.8 444.05,332.6 444.24,332.1 444.43,330.7 444.62,330.4 444.81,329.9 445.00,329.7 445.21,328.0 445.43,325.8 445.64,324.7 445.85,323.3 446.06,322.7 446.27,322.0 446.49,319.9 446.70,318.9 446.89,319.8 447.07,321.1 447.26,321.9 447.45,322.6 447.64,324.8 447.82,326.1 448.01,326.2 448.20,326.6 448.39,326.2 448.58,325.5 448.77,324.8 448.96,324.0 449.15,324.2 449.35,324.4 449.54,324.3 449.73,323.6 449.92,323.0 450.11,321.5 450.30,322.4 450.50,323.2 450.70,323.4 450.90,325.1 451.10,324.5 451.30,324.6 451.50,324.8 451.70,325.0 451.90,325.6 452.09,326.5 452.27,327.5 452.46,328.4 452.65,329.8 452.84,330.7 453.02,331.2 453.21,333.2 453.40,333.3 453.59,334.4 453.78,335.6 453.97,335.8 454.16,335.4 454.35,335.9 454.55,335.9 454.74,335.8 454.93,337.1 455.12,337.9 455.31,336.5 455.50,335.9 455.69,336.3 455.88,338.7 456.07,338.8 456.26,339.1 456.45,340.5 456.65,341.2 456.84,340.9 457.03,342.9 457.22,344.1 457.41,344.2 457.60,344.9 457.81,344.3 458.02,343.9 458.23,343.7 458.44,342.9 458.65,344.1 458.86,343.3 459.07,342.3 459.28,342.6 459.49,341.4 459.70,341.2 459.89,342.7 460.08,342.5 460.27,342.3 460.46,344.0 460.65,344.6 460.85,343.7 461.04,343.7 461.23,344.8 461.42,346.2 461.61,346.3 461.80,346.4 462.00,347.6 462.20,347.7 462.40,347.3 462.60,349.7 462.80,350.9 463.00,351.4 463.20,352.3 463.40,352.2 463.60,352.4 463.80,352.6 464.00,353.4 464.19,353.1 464.38,352.6 464.57,351.4 464.76,350.9 464.95,351.0 465.15,350.8 465.34,350.5 465.53,351.4 465.72,352.0 465.91,350.6 466.10,350.6 466.31,350.4 466.52,351.0 466.73,352.3 466.94,352.9 467.15,354.7 467.36,355.0 467.57,356.1 467.78,356.0 467.99,356.0 468.20,356.2 468.39,354.4 468.58,353.2 468.77,351.6 468.96,351.0 469.15,350.0 469.35,349.5 469.54,349.8 469.73,349.5 469.92,348.9 470.11,347.8 470.30,346.5 470.51,345.4 470.72,345.9 470.93,345.8 471.14,346.1 471.35,344.4 471.56,344.2 471.77,342.7 471.98,342.7 472.19,342.4 472.40,342.5 472.59,343.5 472.78,343.3 472.97,344.3 473.16,345.1 473.35,345.2 473.55,345.4 473.74,345.4 473.93,345.9 474.12,345.5 474.31,346.1 474.50,346.4 474.70,345.2 474.90,344.0 475.10,343.1 475.30,341.5 475.50,340.9 475.70,339.6 475.90,338.9 476.10,337.2 476.30,337.4 476.52,339.0 476.74,339.4 476.96,340.0 477.18,340.8 477.40,342.1 477.60,342.2 477.80,341.5 478.00,341.8 478.20,340.5 478.40,340.9 478.60,341.1 478.80,341.4 479.00,342.6 479.19,343.6 479.38,344.6 479.56,344.8 479.75,345.2 479.94,344.7 480.12,345.8 480.31,346.0 480.50,346.0 480.69,347.0 480.88,347.1 481.07,348.1 481.26,348.7 481.45,348.7 481.65,350.2 481.84,350.5 482.03,351.1 482.22,352.2 482.41,353.1 482.60,353.4 482.82,351.1 483.04,350.2 483.26,348.6 483.48,347.3 483.70,345.9 483.90,344.6 484.10,345.6 484.30,343.1 484.50,342.8 484.70,341.5 484.90,339.8 485.10,339.4 485.30,338.2 485.49,338.1 485.68,338.3 485.86,338.4 486.05,338.9 486.24,339.7 486.43,340.2 486.61,340.2 486.80,340.1 487.00,339.3 487.20,339.5 487.40,338.0 487.60,337.3 487.80,335.1 488.00,335.0 488.20,334.2 488.40,334.6 488.60,333.6 488.80,334.0 489.00,334.6 489.20,334.8 489.40,333.3 489.60,334.6 489.80,335.0 490.00,335.4 490.20,336.2 490.40,337.6 490.60,339.5 490.80,340.9 491.00,343.5 491.20,344.6 491.40,345.2 491.60,346.4 491.80,344.5 492.00,343.9 492.20,344.8 492.40,343.9 492.60,343.1 492.80,341.9 493.00,341.8 493.20,341.4 493.39,341.6 493.57,339.2 493.76,339.3 493.95,337.7 494.14,337.4 494.32,336.8 494.51,336.1 494.70,334.8 494.90,336.9 495.10,336.7 495.30,336.2 495.50,338.1 495.70,339.1 495.90,339.6 496.10,340.7 496.30,340.7 496.51,341.1 496.72,341.4 496.93,340.2 497.14,339.8 497.35,339.1 497.56,338.8 497.77,338.1 497.98,338.6 498.19,337.7 498.40,338.0 498.58,337.3 498.77,335.3 498.95,333.1 499.13,331.9 499.32,331.1 499.50,329.6 499.68,328.0 499.87,325.4 500.05,324.1 500.23,322.9 500.42,321.8 500.60,321.7 500.82,322.4 501.03,323.2 501.25,323.2 501.47,324.7 501.68,325.1 501.90,327.9 502.09,327.1 502.27,327.1 502.46,326.4 502.65,327.3 502.84,327.8 503.02,327.0 503.21,327.1 503.40,329.0 503.60,330.4 503.80,331.6 504.00,332.6 504.20,333.5 504.40,333.5 504.60,334.5 504.80,336.6 505.00,338.0 505.20,338.3 505.40,338.4 505.60,337.4 505.80,336.3 506.00,335.9 506.20,335.2 506.40,334.1 506.60,333.3 506.80,334.6 507.00,334.0 507.20,333.7 507.40,334.4 507.60,335.7 507.80,336.4 508.00,337.6 508.20,337.9 508.40,338.7 508.60,339.9 508.80,341.4 509.00,342.8 509.20,343.5 509.40,344.6 509.60,342.9 509.80,340.7 510.00,339.1 510.20,337.4 510.40,334.8 510.60,333.6 510.80,332.8 511.00,331.9 511.20,331.3 511.40,330.8 511.60,330.6 511.80,330.4 512.00,330.5 512.20,328.8 512.40,327.6 512.60,328.8 512.78,328.5 512.97,327.0 513.15,326.3 513.33,325.6 513.52,324.3 513.70,323.7 513.92,322.8 514.14,321.8 514.36,320.2 514.58,319.7 514.80,320.9 514.99,320.7 515.17,319.2 515.36,318.3 515.54,318.3 515.73,318.5 515.91,318.1 516.10,316.4 516.30,315.1 516.50,314.4 516.70,313.4 516.90,312.6 517.10,312.4 517.30,312.2 517.50,312.3 517.70,311.4 517.90,309.4 518.10,308.5 518.30,306.6 518.50,305.3 518.70,303.6 518.90,301.2 519.10,300.8 519.30,299.0 519.50,297.9 519.73,296.0 519.95,294.7 520.17,294.9 520.40,292.3 520.58,292.2 520.77,291.9 520.95,289.7 521.13,289.1 521.32,287.9 521.50,286.2 521.70,290.8 521.90,294.3 522.10,296.0 522.30,298.9 522.50,302.7 522.69,302.5 522.88,301.4 523.07,300.5 523.26,299.5 523.44,298.3 523.63,297.4 523.82,296.5 524.01,295.6 524.20,294.2 524.41,295.2 524.62,295.3 524.84,296.5 525.05,297.5 525.26,299.1 525.48,300.4 525.69,300.6 525.90,302.0 526.09,301.8 526.27,301.8 526.46,302.1 526.65,303.1 526.84,303.0 527.02,304.1 527.21,304.7 527.40,304.7 527.60,305.4 527.80,304.8 528.00,304.5 528.20,305.6 528.40,305.4 528.60,304.9 528.80,306.5 528.99,307.8 529.17,308.2 529.36,309.4 529.55,310.7 529.74,311.2 529.92,311.5 530.11,311.5 530.30,312.8 530.49,311.9 530.68,311.0 530.87,310.2 531.06,309.7 531.25,309.1 531.44,307.3 531.63,307.7 531.82,307.6 532.01,307.1 532.20,306.1 532.39,303.9 532.58,302.8 532.76,300.8 532.95,298.3 533.14,296.6 533.33,294.6 533.51,292.7 533.70,290.2 533.90,288.9 534.10,288.2 534.30,287.4 534.50,287.0 534.70,285.9 534.91,285.4 535.12,285.6 535.34,284.2 535.55,283.1 535.76,282.7 535.98,283.1 536.19,281.9 536.40,280.7 536.59,279.5 536.77,278.3 536.96,276.8 537.15,276.5 537.34,274.9 537.52,274.7 537.71,274.0 537.90,271.7 538.10,267.7 538.30,263.3 538.50,259.2 538.70,252.9 538.90,249.0 539.08,250.0 539.27,250.7 539.45,252.2 539.63,251.7 539.82,253.3 540.00,254.3 540.18,253.0 540.37,251.1 540.55,248.3 540.73,246.6 540.92,247.2 541.10,244.9 541.30,245.7 541.50,248.4 541.70,250.3 541.90,251.5 542.10,253.0 542.30,254.9 542.50,256.9 542.72,256.6 542.93,255.7 543.15,254.4 543.37,253.4 543.58,252.0 543.80,251.7 543.99,253.7 544.17,255.4 544.36,256.7 544.55,258.3 544.74,259.9 544.92,261.8 545.11,263.0 545.30,264.7 545.49,264.9 545.68,264.9 545.87,267.2 546.06,267.6 546.24,267.7 546.43,267.9 546.62,269.7 546.81,270.4 547.00,270.6 547.20,272.9 547.40,275.1 547.60,277.6 547.80,279.8 548.00,281.1 548.20,283.9 548.40,286.0 548.58,283.5 548.77,281.5 548.95,278.7 549.13,276.4 549.32,273.3 549.50,270.2 549.70,267.3 549.90,263.9 550.10,260.1 550.30,256.4 550.50,251.8 550.68,254.6 550.87,257.6 551.05,261.1 551.23,265.4 551.42,269.5 551.60,273.6 551.81,273.0 552.02,274.0 552.24,275.1 552.45,275.6 552.66,277.2 552.88,277.6 553.09,279.4 553.30,279.6 553.50,277.9 553.70,275.7 553.90,274.4 554.10,273.7 554.30,273.3 554.50,270.5 554.70,268.6 554.89,270.8 555.08,273.2 555.26,275.1 555.45,276.6 555.64,278.6 555.83,278.4 556.01,279.9 556.20,282.0 556.41,283.2 556.62,284.1 556.84,283.3 557.05,284.4 557.26,284.4 557.48,285.6 557.69,285.9 557.90,285.9 558.09,286.8 558.28,289.0 558.47,291.1 558.66,290.7 558.84,291.8 559.03,292.2 559.22,293.0 559.41,294.4 559.60,295.8 559.83,301.3 560.07,305.9 560.30,311.1 560.49,311.7 560.67,311.9 560.86,312.2 561.04,313.6 561.23,313.7 561.41,313.5 561.60,315.2 561.81,314.4 562.02,314.4 562.23,312.7 562.44,311.6 562.66,310.7 562.87,310.9 563.08,310.4 563.29,310.3 563.50,309.6 563.70,312.4 563.90,313.6 564.10,315.4 564.30,315.3 564.50,315.6 564.70,317.4 564.90,316.2 565.10,315.6 565.30,315.8 565.50,315.8 565.70,315.6 565.90,315.1 566.10,314.8 566.30,314.8 566.48,318.7 566.67,320.7 566.85,325.0 567.03,327.0 567.22,328.9 567.40,331.5 567.60,335.3 567.80,340.0 568.00,343.4 568.20,348.4 568.42,348.0 568.63,349.1 568.85,348.2 569.07,347.6 569.28,347.0 569.50,347.0 569.68,345.5 569.87,344.5 570.05,343.5 570.23,344.4 570.42,344.6 570.60,344.7 570.78,345.2 570.97,345.3 571.15,344.4 571.33,343.8 571.52,342.8 571.70,343.4 571.89,343.6 572.08,345.1 572.26,346.9 572.45,348.4 572.64,348.4 572.83,349.8 573.01,350.1 573.20,350.9 573.42,352.3 573.63,352.5 573.85,353.4 574.07,354.6 574.28,356.8 574.50,358.3 574.70,356.0 574.90,354.4 575.10,352.8 575.30,350.8 575.50,348.8 575.70,347.5 575.90,348.1 576.10,347.8 576.30,347.6 576.50,347.3 576.70,347.0 576.90,347.1 577.10,346.0 577.30,345.6 577.50,345.3 577.70,344.8 577.90,345.0 578.10,344.2 578.30,345.3 578.50,345.6 578.70,345.6 578.90,344.5 579.10,342.7 579.30,342.4 579.50,342.9 579.70,345.0 579.90,345.1 580.10,345.9 580.30,346.6 580.50,347.6 580.70,348.1 580.90,348.1 581.10,349.2 581.30,346.9 581.50,347.1 581.70,346.3 581.90,345.5 582.10,345.0 582.30,344.0 582.50,342.2 582.70,341.5 582.90,339.0 583.10,340.5 583.30,342.2 583.50,343.8 583.70,345.2 583.90,346.7 584.10,347.5 584.30,348.2 584.50,348.8 584.70,349.3 584.90,348.9 585.10,348.3 585.30,347.7 585.50,347.8 585.70,347.8 585.90,347.9 586.10,346.8 586.30,348.4 586.50,350.1 586.70,351.7 586.90,353.5 587.10,355.9 587.30,357.4 587.50,358.6 587.70,359.0 587.90,361.3 588.10,360.0 588.30,357.7 588.50,356.5 588.70,354.4 588.90,352.1 589.10,350.8 589.30,349.3 589.50,350.0 589.70,348.8 589.90,347.5 590.10,345.5 590.30,344.6 590.50,343.5 590.70,342.4 590.90,341.7 591.10,341.5 591.30,342.8 591.50,344.3 591.70,344.5 591.90,345.2 592.10,345.6 592.30,346.6 592.50,347.8 592.70,347.1 592.90,348.5 593.09,349.3 593.28,348.7 593.47,349.1 593.66,348.3 593.85,348.1 594.05,347.2 594.24,346.9 594.43,347.0 594.62,346.5 594.81,346.5 595.00,347.1 595.20,346.3 595.40,346.7 595.60,346.5 595.80,347.1 596.00,347.7 596.20,348.3 596.40,349.1 596.60,349.3 596.80,349.6 597.00,350.1 597.20,350.5 597.40,349.8 597.60,350.4 597.80,351.0 598.00,350.0 598.20,351.3 598.40,351.9 598.60,351.4 598.80,350.6 599.00,350.1 599.20,349.4 599.40,348.7 599.60,346.9 599.80,345.9 600.00,345.9 600.20,345.2 600.40,343.4 600.60,344.5 600.80,345.9 601.00,347.8 601.20,347.6 601.40,347.6 601.60,347.9 601.80,349.6 602.00,351.2 602.20,351.9 602.40,352.5 602.60,350.5 602.80,349.9 603.00,349.0 603.20,349.2 603.40,348.8 603.60,349.3 603.80,347.9 604.00,347.1 604.20,347.0 604.40,347.7 604.60,346.8 604.80,346.4 605.00,346.1 605.20,345.5 605.40,345.5 605.60,344.9 605.80,344.7 606.00,345.6 606.20,344.9 606.40,344.5 606.60,345.5 606.80,344.5 607.00,345.1 607.20,346.1 607.40,346.6 607.60,347.1 607.80,346.3 608.00,343.6 608.20,341.3 608.40,341.1 608.60,338.4 608.80,336.4 609.00,335.9 609.22,333.1 609.43,332.3 609.65,330.4 609.87,329.0 610.08,327.1 610.30,325.9 610.50,324.9 610.70,323.9 610.90,322.7 611.10,320.5 611.30,318.3 611.50,316.2 611.70,316.1 611.90,316.3 612.10,317.6 612.30,318.9 612.50,319.3 612.70,320.4 612.90,320.4 613.09,319.7 613.27,320.9 613.46,322.3 613.65,322.2 613.84,323.9 614.02,325.9 614.21,326.6 614.40,328.7 614.60,327.7 614.80,327.8 615.00,327.9 615.20,327.8 615.40,329.0 615.60,329.1 615.80,327.4 616.00,327.6 616.20,329.0 616.40,328.6 616.60,327.3 616.80,327.4 617.00,326.7 617.20,325.8 617.40,325.0 617.60,325.4 617.80,325.6 618.00,325.7 618.20,325.7 618.40,325.3 618.60,325.4 618.80,325.9 619.00,327.2 619.20,327.9 619.40,328.8 619.60,329.2 619.80,329.6 620.00,328.6 620.20,330.1 620.40,330.9 620.60,330.5 620.80,330.5 621.00,331.7 621.20,332.4 621.40,333.5 621.60,333.6 621.80,334.7 622.00,335.4 622.20,336.4 622.39,334.6 622.58,334.2 622.76,332.4 622.95,332.0 623.14,330.3 623.33,330.2 623.51,331.1 623.70,330.4 623.90,331.7 624.10,330.2 624.30,330.9 624.50,330.3 624.70,330.8 624.90,331.8 625.10,331.1 625.30,331.7 625.50,331.2 625.70,330.1 625.90,328.5 626.10,328.2 626.30,327.1 626.50,325.8 626.70,325.1 626.90,324.3 627.10,326.4 627.30,328.0 627.50,330.0 627.70,331.6 627.90,333.5 628.10,335.5 628.32,335.1 628.53,334.8 628.75,334.8 628.97,333.9 629.18,333.2 629.40,333.1 629.60,334.1 629.80,334.7 630.00,336.4 630.20,336.8 630.40,337.9 630.60,340.2 630.80,340.8 630.99,340.2 631.17,339.2 631.36,338.8 631.55,339.0 631.74,338.9 631.92,338.5 632.11,337.1 632.30,337.2 632.47,334.1 632.65,332.1 632.83,329.1 633.00,326.4 633.20,324.4 633.40,323.9 633.60,324.4 633.80,324.6 634.00,323.9 634.22,324.6 634.43,324.2 634.65,323.6 634.87,323.6 635.08,324.1 635.30,324.7 635.50,324.3 635.70,322.4 635.90,321.4 636.10,320.1 636.30,318.7 636.50,317.4 636.69,316.3 636.88,315.2 637.06,314.2 637.25,312.0 637.44,310.7 637.62,309.0 637.81,308.9 638.00,308.2 638.20,308.4 638.40,308.9 638.60,311.0 638.80,313.3 639.00,314.9 639.20,315.6 639.40,315.2 639.59,315.8 639.77,316.6 639.96,317.8 640.14,317.5 640.33,317.7 640.51,318.0 640.70,318.9 640.90,318.3 641.10,318.0 641.30,318.0 641.50,318.4 641.70,318.3 641.90,320.0 642.10,320.6 642.30,321.3 642.50,321.7 642.69,322.7 642.88,321.6 643.07,320.7 643.26,320.9 643.44,320.8 643.63,320.9 643.82,321.0 644.01,319.5 644.20,320.1 644.40,319.3 644.60,319.5 644.80,320.2 645.00,319.2 645.20,319.8 645.40,319.8 645.60,320.2 645.80,321.8 646.00,321.4 646.20,320.2 646.40,319.0 646.60,319.2 646.80,319.5 647.00,318.2 647.20,318.4 647.40,318.4 647.60,319.0 647.80,317.4 647.99,316.7 648.17,316.8 648.36,317.0 648.54,316.4 648.73,316.3 648.91,316.1 649.10,315.3 649.30,314.7 649.50,314.2 649.70,314.3 649.90,314.8 650.10,316.2 650.30,316.8 650.50,316.5 650.70,314.4 650.90,313.5 651.10,311.8 651.30,310.1 651.50,309.6 651.70,309.1 651.90,307.8 652.09,307.2 652.27,308.8 652.46,310.5 652.64,311.0 652.83,310.9 653.01,312.1 653.20,312.6 653.40,312.4 653.60,313.4 653.80,312.7 654.00,312.3 654.20,312.1 654.40,311.5 654.60,311.7 654.80,313.0 655.00,312.4 655.19,312.4 655.38,314.1 655.57,313.8 655.76,313.5 655.94,312.3 656.13,312.9 656.32,313.9 656.51,314.5 656.70,314.9 656.92,313.2 657.13,312.0 657.35,311.7 657.57,311.2 657.78,310.3 658.00,308.7 658.20,308.8 658.40,309.5 658.60,310.8 658.80,311.7 659.00,313.0 659.20,314.9 659.40,313.8 659.60,312.9 659.80,311.5 660.00,310.8 660.20,307.8 660.40,305.6 660.59,306.9 660.77,307.9 660.96,309.0 661.14,308.9 661.33,310.5 661.51,311.2 661.70,312.6 661.90,312.5 662.10,312.8 662.30,313.2 662.50,311.5 662.70,310.4 662.90,309.6 663.10,308.0 663.30,308.7 663.50,308.2 663.70,307.8 663.90,306.2 664.10,306.5 664.30,306.8 664.48,307.7 664.67,307.3 664.85,305.5 665.03,305.5 665.22,304.5 665.40,304.5 665.60,306.8 665.80,307.7 666.00,309.1 666.20,310.4 666.40,311.3 666.60,314.5 666.80,315.0 667.00,316.3 667.20,318.2 667.40,320.3 667.60,321.3 667.80,321.7 668.00,321.8 668.20,322.0 668.40,322.3 668.60,322.7 668.80,323.0 669.00,324.1 669.20,325.9 669.40,326.3 669.60,327.7 669.80,327.6 670.00,326.4 670.20,325.9 670.40,324.4 670.60,322.5 670.80,321.1 671.00,319.7 671.20,319.1 671.40,318.6 671.60,316.3 671.80,314.9 672.00,312.7 672.20,311.9 672.42,312.0 672.63,313.6 672.85,313.4 673.07,315.7 673.28,316.4 673.50,316.3 673.73,314.1 673.95,310.7 674.17,306.9 674.40,303.7 674.58,302.3 674.77,301.6 674.95,300.3 675.13,297.8 675.32,296.6 675.50,294.1 675.70,293.8 675.90,293.1 676.10,291.6 676.30,290.8 676.50,290.5 676.73,290.6 676.95,292.0 677.17,293.2 677.40,294.2 677.60,293.1 677.80,291.0 678.00,291.6 678.20,289.0 678.40,289.5 678.60,290.1 678.82,288.8 679.03,288.3 679.25,287.3 679.47,287.1 679.68,286.6 679.90,285.5 680.10,288.0 680.30,290.5 680.50,293.8 680.70,294.8 680.90,297.1 681.10,299.4 681.30,297.5 681.50,296.0 681.70,294.2 681.90,292.0 682.10,289.9 682.30,289.4 682.49,287.7 682.67,286.7 682.86,286.3 683.04,283.6 683.23,281.6 683.41,281.1 683.60,280.5 683.80,281.1 684.00,282.1 684.20,282.6 684.40,283.4 684.60,282.8 684.80,282.7 685.00,282.7 685.18,280.6 685.37,278.2 685.55,275.8 685.73,275.0 685.92,273.6 686.10,273.3 686.30,274.8 686.50,276.7 686.70,277.1 686.90,277.6 687.10,278.5 687.30,279.9 687.50,278.5 687.70,278.0 687.90,277.5 688.10,277.0 688.30,275.7 688.50,275.7 688.70,274.4 688.92,277.9 689.14,278.9 689.36,280.8 689.58,282.7 689.80,284.5 689.98,283.2 690.17,281.3 690.35,280.1 690.53,279.4 690.72,277.8 690.90,276.0 691.08,276.8 691.27,277.5 691.45,276.7 691.63,276.6 691.82,277.4 692.00,276.0 692.20,276.9 692.40,277.7 692.60,278.2 692.80,277.2 693.00,278.1 693.20,278.8 693.40,278.9 693.60,279.7 693.80,280.9 694.00,281.3 694.20,281.8 694.40,283.1 694.60,283.4 694.80,285.4 695.00,286.6 695.20,286.7 695.40,287.9 695.60,292.5 695.80,295.1 696.00,298.4 696.20,301.4 696.43,292.4 696.65,283.1 696.88,275.6 697.10,267.6 697.30,264.7 697.50,262.3 697.70,260.3 697.90,258.1 698.09,258.4 698.28,257.9 698.47,259.3 698.66,259.6 698.84,259.9 699.03,261.5 699.22,262.5 699.41,262.9 699.60,263.5 699.81,262.9 700.02,262.5 700.24,261.8 700.45,260.9 700.66,261.2 700.88,260.0 701.09,259.8 701.30,258.7 701.49,259.4 701.68,259.7 701.87,260.1 702.06,260.6 702.24,262.3 702.43,262.5 702.62,261.9 702.81,261.9 703.00,261.9 703.20,262.9 703.40,264.4 703.60,266.4 703.80,267.5 704.00,268.8 704.20,270.8 704.45,272.5 704.70,274.1 704.93,280.9 705.15,287.0 705.38,292.1 705.60,298.3 705.80,298.6 706.00,299.4 706.20,299.1 706.40,298.6 706.60,300.0 706.80,298.9 707.00,300.3 707.23,286.8 707.45,274.1 707.67,260.4 707.90,248.1 708.10,246.6 708.30,245.4 708.50,244.3 708.70,243.4 708.90,241.4 709.10,241.5 709.30,239.0 709.50,236.3 709.70,234.3 709.90,232.8 710.10,230.3 710.30,228.6 710.50,227.3 710.73,228.8 710.95,230.7 711.17,231.6 711.40,233.0 711.60,233.3 711.80,232.7 712.00,230.9 712.20,231.8 712.40,230.6 712.60,229.5 712.80,228.9 713.00,226.6 713.20,225.0 713.40,222.5 713.60,219.6 713.80,218.1 714.00,215.9 714.20,213.4 714.40,210.4 714.58,218.8 714.75,226.7 714.92,235.6 715.10,244.7 715.30,241.8 715.50,238.5 715.70,235.3 715.90,233.9 716.10,230.4 716.30,227.3 716.50,225.2 716.70,221.8 716.90,224.6 717.10,226.6 717.30,227.7 717.50,228.2 717.70,229.4 717.90,231.3 718.08,233.0 718.27,233.0 718.45,234.1 718.63,235.8 718.82,236.5 719.00,236.5 719.20,234.9 719.40,233.9 719.60,232.4 719.80,230.7 720.00,229.9 720.20,228.2 720.42,231.2 720.64,235.1 720.86,238.9 721.08,240.8 721.30,244.0 721.50,240.5 721.70,237.6 721.90,232.3 722.10,228.3 722.30,224.8 722.50,217.8" fill="none" stroke="#0000ff" stroke-width="1.5" stroke-linejoin="round"/>
<path d="M35.5 23.5H725.5V445.5H35.5Z M35 184.5H726 M31 35.5H35 M726 35.5H730 M31 58.5H35 M726 58.5H730 M31 81.5H35 M726 81.5H730 M31 103.5H35 M726 103.5H730 M31 126.5H35 M726 126.5H730 M31 149.5H35 M726 149.5H730 M31 172.5H35 M726 172.5H730 M726 445.5H730 M726 414.5H730 M726 383.5H730 M726 353.5H730 M726 322.5H730 M726 291.5H730 M726 260.5H730 M726 230.5H730 M726 199.5H730 M61.5 446V450 M93.5 446V449 M124.5 446V449 M155.5 446V449 M187.5 446V449 M218.5 446V450 M249.5 446V449 M281.5 446V449 M312.5 446V449 M343.5 446V449 M375.5 446V450 M406.5 446V449 M437.5 446V449 M469.5 446V449 M500.5 446V449 M531.5 446V450 M563.5 446V449 M595.5 446V449 M626.5 446V449 M657.5 446V449 M689.5 446V450 M720.5 446V449" stroke="#000" stroke-width="1" fill="none"/>
<rect x="41" y="175" width="8" height="8" fill="#000"/>
<rect x="646.5" y="175.5" width="7" height="7" fill="#ffb000" stroke="#000" stroke-width="1"/>
<text x="0" y="0" font-size="16" text-anchor="start" font-family="&apos;Liberation Sans&apos;, sans-serif" font-weight="bold" font-style="italic" fill="#0000ff" letter-spacing="0.45" stroke="#0000ff" stroke-width="0.25" transform="translate(289.3 19) scale(1.15 1)">Spot Gold v Copper</text>
<text x="45" y="34" font-size="11" text-anchor="start" font-family="&apos;Liberation Sans&apos;, sans-serif" letter-spacing="-0.2">Close = 5.95</text>
<text x="353" y="34" font-size="11" text-anchor="start" font-family="&apos;Liberation Sans&apos;, sans-serif" letter-spacing="-0.2">Jan-23&#160;&#160;2026</text>
<text x="647" y="34" font-size="11" text-anchor="start" font-family="&apos;Liberation Sans&apos;, sans-serif" letter-spacing="-0.23">Close = 4989.17</text>
<text x="56" y="183" font-size="10" text-anchor="start" font-family="&apos;Liberation Sans&apos;, sans-serif" letter-spacing="0.16">Copper</text>
<text x="661" y="183" font-size="10" text-anchor="start" font-family="&apos;Liberation Sans&apos;, sans-serif" letter-spacing="0.3">Spot Gold</text>
<text x="647" y="196" font-size="11" text-anchor="start" font-family="&apos;Liberation Sans&apos;, sans-serif" letter-spacing="-0.2">Close = 838.9</text>
<text x="304" y="200" font-size="16" text-anchor="start" font-family="&apos;Liberation Sans&apos;, sans-serif" letter-spacing="-0.16">Spot Gold&#160;&#160;/&#160;&#160;Copper Ratio</text>
<text x="29" y="39" font-size="11" text-anchor="end" font-family="&apos;Liberation Sans&apos;, sans-serif" >7</text>
<text x="29" y="62" font-size="11" text-anchor="end" font-family="&apos;Liberation Sans&apos;, sans-serif" >6</text>
<text x="29" y="85" font-size="11" text-anchor="end" font-family="&apos;Liberation Sans&apos;, sans-serif" >5</text>
<text x="29" y="107" font-size="11" text-anchor="end" font-family="&apos;Liberation Sans&apos;, sans-serif" >4</text>
<text x="29" y="130" font-size="11" text-anchor="end" font-family="&apos;Liberation Sans&apos;, sans-serif" >3</text>
<text x="29" y="153" font-size="11" text-anchor="end" font-family="&apos;Liberation Sans&apos;, sans-serif" >2</text>
<text x="29" y="176" font-size="11" text-anchor="end" font-family="&apos;Liberation Sans&apos;, sans-serif" >1</text>
<text x="733" y="39" font-size="11" text-anchor="start" font-family="&apos;Liberation Sans&apos;, sans-serif" >6000</text>
<text x="733" y="62" font-size="11" text-anchor="start" font-family="&apos;Liberation Sans&apos;, sans-serif" >5000</text>
<text x="733" y="85" font-size="11" text-anchor="start" font-family="&apos;Liberation Sans&apos;, sans-serif" >4000</text>
<text x="733" y="107" font-size="11" text-anchor="start" font-family="&apos;Liberation Sans&apos;, sans-serif" >3000</text>
<text x="733" y="130" font-size="11" text-anchor="start" font-family="&apos;Liberation Sans&apos;, sans-serif" >2000</text>
<text x="733" y="153" font-size="11" text-anchor="start" font-family="&apos;Liberation Sans&apos;, sans-serif" >1000</text>
<text x="733" y="176" font-size="11" text-anchor="start" font-family="&apos;Liberation Sans&apos;, sans-serif" >0</text>
<text x="733" y="449" font-size="11" text-anchor="start" font-family="&apos;Liberation Sans&apos;, sans-serif" >100</text>
<text x="733" y="418" font-size="11" text-anchor="start" font-family="&apos;Liberation Sans&apos;, sans-serif" >200</text>
<text x="733" y="387" font-size="11" text-anchor="start" font-family="&apos;Liberation Sans&apos;, sans-serif" >300</text>
<text x="733" y="357" font-size="11" text-anchor="start" font-family="&apos;Liberation Sans&apos;, sans-serif" >400</text>
<text x="733" y="326" font-size="11" text-anchor="start" font-family="&apos;Liberation Sans&apos;, sans-serif" >500</text>
<text x="733" y="295" font-size="11" text-anchor="start" font-family="&apos;Liberation Sans&apos;, sans-serif" >600</text>
<text x="733" y="264" font-size="11" text-anchor="start" font-family="&apos;Liberation Sans&apos;, sans-serif" >700</text>
<text x="733" y="234" font-size="11" text-anchor="start" font-family="&apos;Liberation Sans&apos;, sans-serif" >800</text>
<text x="733" y="203" font-size="11" text-anchor="start" font-family="&apos;Liberation Sans&apos;, sans-serif" >900</text>
<text x="61.5" y="461" font-size="11" text-anchor="middle" font-family="&apos;Liberation Sans&apos;, sans-serif" >2005</text>
<text x="218.5" y="461" font-size="11" text-anchor="middle" font-family="&apos;Liberation Sans&apos;, sans-serif" >2010</text>
<text x="375.5" y="461" font-size="11" text-anchor="middle" font-family="&apos;Liberation Sans&apos;, sans-serif" >2015</text>
<text x="531.5" y="461" font-size="11" text-anchor="middle" font-family="&apos;Liberation Sans&apos;, sans-serif" >2020</text>
<text x="689.5" y="461" font-size="11" text-anchor="middle" font-family="&apos;Liberation Sans&apos;, sans-serif" >2025</text>
<text x="293.5" y="473" font-size="11" text-anchor="start" font-family="&apos;Liberation Sans&apos;, sans-serif" letter-spacing="0.17">world gold charts &#169; www.goldchartsrus.com</text>
</svg>
</body></html>
